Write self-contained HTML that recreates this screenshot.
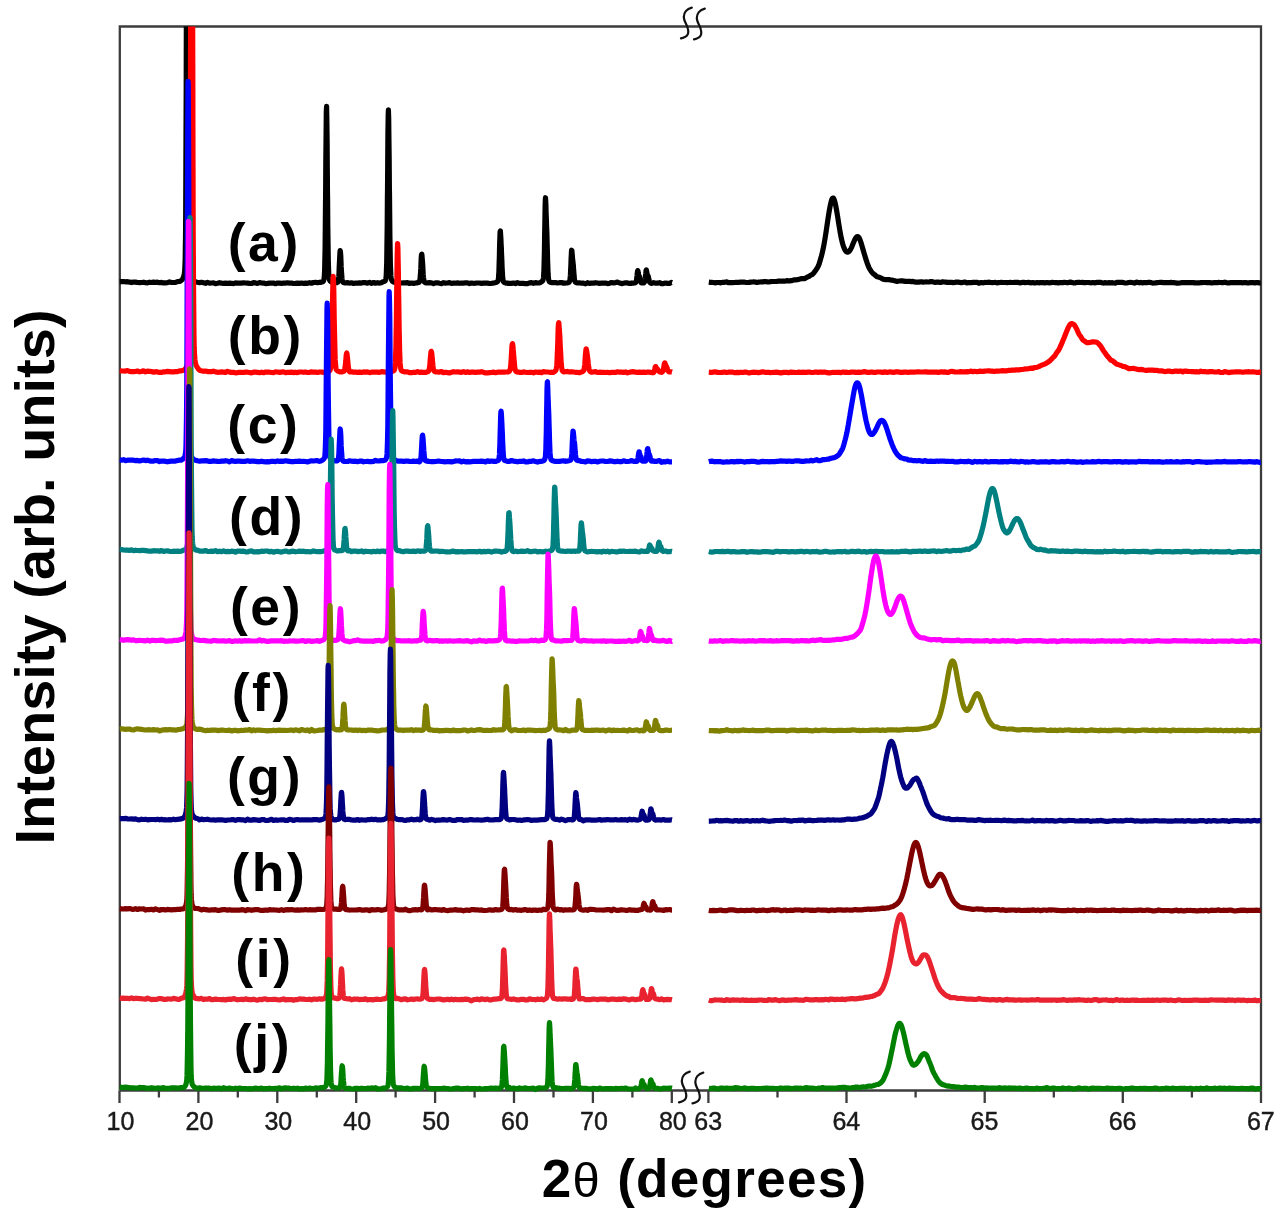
<!DOCTYPE html>
<html><head><meta charset="utf-8"><title>XRD patterns</title>
<style>html,body{margin:0;padding:0;background:#fff;}body{width:1280px;height:1221px;overflow:hidden;}svg{display:block;filter:blur(0.4px);}</style>
</head><body>
<svg width="1280" height="1221" viewBox="0 0 1280 1221"><defs><clipPath id="cl"><rect x="119.5" y="26.5" width="554.5" height="1074.0"/></clipPath>
<clipPath id="cr"><rect x="707.8" y="26.5" width="554.2" height="1074.0"/></clipPath></defs>
<path d="M119.8,1090.5 V26.5 H1261.0 V1090.5" fill="none" stroke="#3c3c3c" stroke-width="2.3"/>
<path d="M119.8,1090.5 H1261.0" fill="none" stroke="#3c3c3c" stroke-width="2.3"/>
<path d="M119.5,1090.5 v12.5 M158.9,1090.5 v7 M198.4,1090.5 v12.5 M237.8,1090.5 v7 M277.3,1090.5 v12.5 M316.8,1090.5 v7 M356.2,1090.5 v12.5 M395.6,1090.5 v7 M435.1,1090.5 v12.5 M474.6,1090.5 v7 M514.0,1090.5 v12.5 M553.5,1090.5 v7 M592.9,1090.5 v12.5 M632.4,1090.5 v7 M671.8,1090.5 v12.5 M708.4,1090.5 v12.5 M777.5,1090.5 v7 M846.5,1090.5 v12.5 M915.6,1090.5 v7 M984.7,1090.5 v12.5 M1053.8,1090.5 v7 M1122.8,1090.5 v12.5 M1191.9,1090.5 v7 M1261.0,1090.5 v12.5" fill="none" stroke="#3c3c3c" stroke-width="2.3"/>
<path clip-path="url(#cl)" d="M119.5,281.7L121.5,281.6 123.5,281.5 125.5,281.8 127.5,281.7 129.5,282.1 131.5,282.6 133.5,282.1 135.5,282.1 137.5,282.5 139.5,282.6 141.5,282.5 143.5,282.2 145.5,282.6 147.5,282.8 149.5,282.2 151.5,282.5 153.5,282.1 155.5,282.3 157.5,282.2 159.5,282.7 161.5,282.4 163.5,282.9 165.5,282.8 167.5,282.7 169.5,281.9 171.5,282.5 173.5,282.5 175.5,282.4 177.5,281.6 179.2,281.5 179.4,281.5 179.5,281.5 179.7,281.4 179.9,281.3 180.2,281.1 180.4,281 180.7,280.8 180.9,280.7 181.2,280.5 181.4,280.3 181.5,280.2 181.7,280 181.9,279.8 182.2,279.5 182.4,279.2 182.7,278.8 182.9,278.4 183.2,277.8 183.4,277.2 183.5,277.1 183.7,276.5 183.9,275.6 184.2,274.5 184.4,273 184.7,270.7 184.9,266.6 185.2,258.6 185.4,243 185.5,238.5 185.7,213.7 185.9,163.6 186.2,87.3 186.4,-14.4 186.7,-129.7 186.9,-234.7 187.2,-297.7 187.4,-295.9 187.5,-287.5 187.7,-230.9 187.9,-126.2 188.2,-12 188.4,88.3 188.7,163.6 188.9,213.1 189.2,242.3 189.4,258.1 189.5,260.2 189.7,266.3 189.9,270.6 190.2,273.1 190.4,274.7 190.7,276 190.9,276.9 191.2,277.7 191.4,278.4 191.5,278.5 191.7,278.9 191.9,279.3 192.2,279.6 192.4,279.9 192.7,280.1 192.9,280.3 193.2,280.5 193.4,280.6 193.5,280.7 193.7,280.8 193.9,281 194.2,281.2 194.4,281.3 194.7,281.4 194.9,281.5 195.2,281.7 195.4,281.8 195.5,281.8 195.7,281.9 195.9,281.9 197.5,282.3 199.5,282.6 201.5,282.3 203.5,282.8 205.5,283.3 207.5,282.4 209.5,283.2 211.5,283 213.5,282.8 215.5,283.7 217.5,283.3 219.5,282.7 221.5,283.1 223.5,283.3 225.5,283.1 227.5,283.3 229.5,283.1 231.5,283.3 233.5,283.6 235.5,282.9 237.5,283.2 239.5,283 241.5,283.2 243.5,282.8 245.5,283 247.5,283.1 249.5,283.4 251.5,283.5 253.5,282.7 255.5,282.9 257.5,283.4 259.5,282.5 261.5,283 263.5,283.1 265.5,283.6 267.5,283.4 269.5,283.1 271.5,283.1 273.5,283.1 275.5,283.7 277.5,283 279.5,283.1 281.5,283.3 283.5,283.1 285.5,283.1 287.5,282.8 289.5,283.2 291.5,283 293.5,283.5 295.5,283.4 297.5,283.1 299.5,283.4 301.5,283 303.5,283.5 305.5,283.1 307.5,283.3 309.5,282.7 311.5,283.2 313.5,282.5 315.5,282.3 317.5,282.7 318.3,282.6 318.6,282.5 318.8,282.5 319.1,282.4 319.3,282.4 319.5,282.3 319.6,282.3 319.8,282.3 320.1,282.3 320.3,282.3 320.6,282.3 320.8,282.2 321.1,282.2 321.3,282.2 321.5,282.1 321.6,282.1 321.8,282.1 322.1,282 322.3,281.9 322.6,281.8 322.8,281.7 323.1,281.5 323.3,281.2 323.5,280.9 323.6,280.7 323.8,279.9 324.1,278.5 324.3,275.9 324.6,271.1 324.8,262.4 325.1,247.8 325.3,225.7 325.5,202.8 325.6,196.5 325.8,163.3 326.1,132.1 326.3,111.3 326.6,106.4 326.8,117.1 327.1,139.7 327.3,169.1 327.5,193.7 327.6,199.6 327.8,226.3 328.1,246.8 328.3,260.9 328.6,269.7 328.8,274.8 329.1,277.6 329.3,279.1 329.5,279.9 329.6,280 329.8,280.5 330.1,280.9 330.3,281.2 330.6,281.5 330.8,281.7 331.1,281.9 331.3,282 331.5,282.1 331.6,282.1 331.8,282.2 332,282.3 332.1,282.3 332.2,282.3 332.3,282.3 332.5,282.3 332.6,282.3 332.8,282.4 332.8,282.4 333,282.4 333.1,282.4 333.2,282.4 333.3,282.4 333.5,282.4 333.6,282.4 333.8,282.5 333.8,282.5 334,282.5 334.1,282.5 334.2,282.5 334.3,282.5 334.5,282.5 334.6,282.5 334.8,282.5 334.8,282.5 335,282.5 335.1,282.5 335.2,282.5 335.5,282.5 335.8,282.6 336,282.6 336.2,282.6 336.5,282.6 336.8,282.6 337,282.6 337.2,282.5 337.5,282.5 337.8,282.2 338,281.8 338.2,280.9 338.5,279.3 338.8,276.7 339,272.6 339.2,267.3 339.5,261.2 339.8,255.4 340,251.6 340.2,250.6 340.5,252.4 340.8,256.3 341,261.5 341.2,266.9 341.5,271.8 341.8,275.7 342,278.5 342.2,280.2 342.5,281.3 342.8,281.9 343,282.2 343.2,282.4 343.5,282.6 343.8,282.6 344,282.7 344.2,282.7 344.5,282.8 344.8,282.8 345,282.9 345.2,282.9 345.5,282.9 345.8,282.9 346,282.9 346.2,282.8 346.5,282.8 346.8,282.8 347,282.7 347.2,282.7 347.5,282.7 347.8,282.7 348,282.8 348.2,282.9 348.5,282.9 348.8,283 349.5,283.1 351.5,282.8 353.5,283.4 355.5,283.2 357.5,283.1 359.5,282.9 361.5,283.1 363.5,282.5 365.5,282.7 367.5,283.2 369.5,282.4 371.5,283.3 373.5,282.5 375.5,283.2 377.5,282.7 379.5,283.1 380.2,282.9 380.4,282.9 380.7,282.8 380.9,282.8 381.2,282.7 381.4,282.6 381.5,282.6 381.7,282.5 381.9,282.4 382.2,282.3 382.4,282.2 382.7,282 382.9,281.9 383.2,281.7 383.4,281.5 383.5,281.5 383.7,281.5 383.9,281.5 384.2,281.4 384.4,281.3 384.7,281.2 384.9,281 385.2,280.8 385.4,280.4 385.5,280.3 385.7,279.7 385.9,278.4 386.2,275.9 386.4,271.2 386.7,262.5 386.9,247.9 387.2,226 387.4,197.2 387.5,190.9 387.7,164.8 387.9,134.7 388.2,114.8 388.4,109.8 388.7,118.5 388.9,136.7 389.2,161 389.4,188.3 389.5,193.8 389.7,214.5 389.9,236.6 390.2,253.4 390.4,264.8 390.7,271.9 390.9,276 391.2,278.2 391.4,279.4 391.5,279.6 391.7,280.1 391.9,280.6 392.2,280.9 392.4,281.2 392.7,281.4 392.9,281.6 393.2,281.8 393.4,281.9 393.5,281.9 393.7,282 393.9,282.1 394.2,282.1 394.4,282.2 394.7,282.2 394.9,282.2 395.2,282.2 395.4,282.3 395.5,282.3 395.7,282.4 395.9,282.5 396.2,282.6 396.4,282.7 396.7,282.8 396.9,282.9 397.5,283.2 399.5,282.8 401.5,283 403.5,282.8 405.5,282.9 407.5,282.7 409.5,283.5 411.5,283 413.5,283.4 413.8,283.3 414,283.3 414.2,283.3 414.5,283.2 414.8,283.2 415,283.1 415.2,283.1 415.5,283 415.8,283 416,282.9 416.2,282.9 416.5,282.9 416.8,282.8 417,282.8 417.2,282.7 417.5,282.7 417.8,282.6 418,282.6 418.2,282.6 418.5,282.5 418.8,282.5 419,282.4 419.2,282.2 419.5,281.7 419.8,280.9 420,279.4 420.2,276.9 420.5,273.2 420.8,268.4 421,263 421.2,258.1 421.5,254.8 421.8,254.1 422,255.6 422.2,258.4 422.5,262 422.8,266.2 423,270.4 423.2,274.2 423.5,277.3 423.8,279.5 424,280.9 424.2,281.7 424.5,282.2 424.8,282.4 425,282.5 425.2,282.6 425.5,282.7 425.8,282.7 426,282.8 426.2,282.8 426.5,282.8 426.8,282.9 427,282.9 427.2,282.9 427.5,282.9 427.8,282.9 428,282.9 428.2,282.8 428.5,282.8 428.8,282.8 429,282.7 429.2,282.7 429.5,282.6 429.8,282.7 430,282.7 430.2,282.7 431.5,282.9 433.5,283.7 435.5,282.9 437.5,282.8 439.5,283.3 441.5,283.6 443.5,282.7 445.5,283.1 447.5,283 449.5,282.6 451.5,283.4 453.5,283.2 455.5,283.2 457.5,282.9 459.5,283.3 461.5,283 463.5,283.1 465.5,282.8 467.5,282.8 469.5,283.6 471.5,283 473.5,283.3 475.5,283.2 477.5,283 479.5,283 481.5,283.4 483.5,283.1 485.5,283.1 487.5,283.1 489.5,283.5 491.5,283.3 492.1,283.2 492.4,283.2 492.6,283.2 492.9,283.2 493.1,283.1 493.4,283.1 493.5,283.1 493.6,283.1 493.9,283 494.1,283 494.4,282.9 494.6,282.9 494.9,282.8 495.1,282.7 495.4,282.6 495.5,282.6 495.6,282.6 495.9,282.5 496.1,282.4 496.4,282.3 496.6,282.2 496.9,282.1 497.1,281.9 497.4,281.7 497.5,281.6 497.6,281.5 497.9,281.2 498.1,280.4 498.4,279 498.6,276.2 498.9,271.5 499.1,264.5 499.4,255.4 499.5,249.5 499.6,245.5 499.9,236.7 500.1,231.5 500.4,231 500.6,234.1 500.9,238.7 501.1,243.7 501.4,249 501.5,252.5 501.6,254.9 501.9,261.3 502.1,267.4 502.4,272.6 502.6,276.4 502.9,279 503.1,280.6 503.4,281.4 503.5,281.7 503.6,281.9 503.9,282.2 504.1,282.4 504.4,282.5 504.6,282.6 504.9,282.7 505.1,282.8 505.4,282.9 505.5,282.9 505.6,283 505.9,283 506.1,283.1 506.4,283.1 506.6,283.1 506.9,283.2 507.1,283.2 507.4,283.2 507.5,283.2 507.6,283.2 507.9,283.2 508.1,283.3 508.4,283.3 508.6,283.3 508.9,283.3 509.5,283.3 511.5,283.4 513.5,283 515.5,283.6 517.5,282.7 519.5,283.4 521.5,283.3 523.5,283.4 525.5,283.7 527.5,283.6 529.5,282.8 531.5,282.6 533.5,283.3 535.5,282.7 537.4,282.9 537.5,282.9 537.6,282.9 537.9,283 538.1,283 538.4,283 538.6,283 538.9,283 539.1,283 539.4,283 539.5,283 539.6,282.9 539.9,282.8 540.1,282.7 540.4,282.5 540.6,282.4 540.9,282.2 541.1,282 541.4,281.8 541.5,281.8 541.6,281.7 541.9,281.5 542.1,281.4 542.4,281.1 542.6,280.9 542.9,280.4 543.1,279.7 543.4,278.3 543.5,277.5 543.6,275.7 543.9,271 544.1,263.1 544.4,251.4 544.6,236.3 544.9,220 545.1,206.1 545.4,198.4 545.5,197.7 545.6,198.8 545.9,204.9 546.1,212.8 546.4,220 546.6,226.3 546.9,233.4 547.1,242 547.4,251.6 547.5,255.3 547.6,260.7 547.9,268.3 548.1,273.8 548.4,277.4 548.6,279.5 548.9,280.7 549.1,281.3 549.4,281.6 549.5,281.7 549.6,281.8 549.9,282 550.1,282.2 550.4,282.3 550.6,282.4 550.9,282.5 551.1,282.5 551.4,282.6 551.5,282.6 551.6,282.6 551.9,282.7 552.1,282.7 552.4,282.7 552.6,282.6 552.9,282.6 553.1,282.6 553.4,282.6 553.5,282.6 553.6,282.6 553.9,282.6 554.1,282.6 555.5,282.5 557.5,283 559.5,282.7 561.5,282.5 563.5,283.2 563.6,283.2 563.9,283.2 564.1,283.1 564.4,283.1 564.6,283.1 564.9,283.1 565.1,283 565.4,283 565.5,283 565.6,283 565.9,283 566.1,283 566.4,283 566.6,283 566.9,283 567.1,283 567.4,283 567.5,283 567.6,282.9 567.9,282.8 568.1,282.7 568.4,282.6 568.6,282.5 568.9,282.3 569.1,282.1 569.4,281.8 569.5,281.5 569.6,281.2 569.9,280.2 570.1,278.3 570.4,275.2 570.6,270.6 570.9,264.7 571.1,258.4 571.4,253 571.5,250.9 571.6,250.2 571.9,250.6 572.1,253.2 572.4,256.4 572.6,259.1 572.9,261.2 573.1,263.2 573.4,265.9 573.5,267.9 573.6,269.3 573.9,272.9 574.1,276.1 574.4,278.5 574.6,280.2 574.9,281.2 575.1,281.8 575.4,282.1 575.5,282.2 575.6,282.3 575.9,282.4 576.1,282.6 576.4,282.7 576.6,282.7 576.9,282.8 577.1,282.9 577.4,283 577.5,283 577.6,283 577.9,283 578.1,283 578.4,282.9 578.6,282.9 578.9,282.9 579.1,282.9 579.4,282.8 579.5,282.8 579.6,282.8 579.9,282.9 580.1,282.9 580.4,283 581.5,283.2 583.5,283.2 585.5,283.8 587.5,282.7 589.5,283.4 591.5,283.1 593.5,283.2 595.5,282.7 597.5,283 599.5,283.4 601.5,283.2 603.5,283.2 605.5,283.1 607.5,283.6 609.5,283.2 611.5,282.5 613.5,283 615.5,282.6 617.5,282.1 619.5,283 621.5,283.6 623.5,283.2 625.5,282.8 627.5,282.9 629.5,283.5 629.7,283.5 630,283.4 630.2,283.4 630.5,283.4 630.7,283.3 631,283.3 631.2,283.2 631.5,283.2 631.5,283.2 631.7,283.2 632,283.2 632.2,283.1 632.5,283.1 632.7,283.1 633,283.1 633.2,283.1 633.5,283.1 633.5,283.1 633.7,283.1 634,283 634.2,283 634.5,283 634.7,283 635,282.9 635.2,282.8 635.5,282.7 635.5,282.7 635.7,282.5 636,282.1 636.2,281.4 636.5,280.2 636.7,278.3 637,276 637.2,273.6 637.5,271.6 637.5,271.3 637.7,270.6 638,271.1 638.2,272.4 638.3,273.1 638.5,274 638.5,274.5 638.7,275.2 638.8,275.5 639,275.8 639,275.9 639.2,276 639.3,276.1 639.5,276.4 639.5,276.5 639.5,276.6 639.7,277.1 639.8,277.5 640,278.2 640,278.8 640.2,279.5 640.3,280 640.5,280.7 640.5,281.1 640.7,281.6 640.8,281.9 641,282.3 641,282.5 641.2,282.7 641.3,282.8 641.5,282.9 641.5,282.9 641.5,282.9 641.7,283 641.8,283 642,283 642,283 642.2,283 642.3,283 642.5,283 642.5,283 642.7,283 642.8,283 643,283 643,283 643.2,282.9 643.3,282.9 643.5,282.9 643.5,282.9 643.5,282.9 643.7,282.8 643.8,282.8 644,282.7 644,282.6 644.2,282.5 644.3,282.4 644.5,282.1 644.5,281.9 644.7,281.5 644.8,281.1 645,280.3 645,279.7 645.2,278.6 645.3,277.8 645.5,276.3 645.5,275.8 645.5,275.3 645.7,273.8 645.8,272.8 646,271.5 646,270.8 646.2,270.1 646.3,269.9 646.5,270 646.5,270.4 646.8,271.9 647,273.6 647.3,274.9 647.5,275.5 647.5,275.5 647.8,275.7 648,275.9 648.3,276.5 648.5,277.6 648.8,278.9 649,280.1 649.3,281.1 649.5,281.7 649.5,281.8 649.8,282.3 650,282.7 650.3,282.9 650.5,283 650.8,283.1 651,283.2 651.3,283.3 651.5,283.4 651.5,283.4 651.8,283.3 652,283.2 652.3,283.1 652.5,283 652.8,283 653,282.9 653.3,282.8 653.5,282.7 653.5,282.7 653.8,282.8 654,282.8 654.3,282.9 654.5,282.9 654.8,283 655,283 655.5,283.1 657.5,283.2 659.5,282.7 661.5,283.7 663.5,283.6 665.5,283 667.5,283.4 669.5,283.3 671.5,282.4 672,282.6" fill="none" stroke="#000000" stroke-width="5.2" stroke-linejoin="round"/>
<path clip-path="url(#cr)" d="M708.8,282.2L710.3,282.4 711.8,282.4 713.3,282.5 714.8,282.8 716.3,282.6 717.8,282.5 719.3,282.5 720.8,282.9 722.3,282.4 723.8,282.3 725.3,282.2 726.8,281.9 728.3,282.6 729.8,282.7 731.3,282.6 732.8,282.6 734.3,282.5 735.8,282.4 737.3,282.3 738.8,282.3 740.3,282.2 741.8,282.2 743.3,282.2 744.8,282.2 746.3,282.5 747.8,282.5 749.3,282.3 750.8,282.1 752.3,282 753.8,281.9 755.3,282 756.8,282.5 758.3,282.2 759.8,282 761.3,281.9 762.8,281.8 764.3,281.6 765.8,281.7 767.3,281.8 768.8,282 770.3,281.7 771.8,281.5 773.3,281.5 774.8,281.5 776.3,281.5 777.8,281.2 779.3,281 780.8,281.2 782.3,281 783.8,281.1 785.3,281.1 786.8,280.6 788.3,280.8 789.8,280.9 791.3,280.7 792.8,280.2 794.3,279.9 795.8,279.8 797.3,279.7 798.8,279.4 800.3,278.9 801.8,278.7 803.3,278.7 804.8,278.6 806.3,277.6 807.8,276.9 808.3,276.7 808.8,276.5 809.3,276.2 809.8,275.8 810.3,275.5 810.8,275.1 811.3,274.9 811.8,274.7 812.3,274.4 812.8,274 813.3,273.5 813.8,272.9 814.3,272.2 814.8,271.5 815.3,270.9 815.8,270.2 816.3,269.4 816.8,268.6 817.3,267.8 817.8,266.9 818.3,266 818.8,264.9 819.3,263.4 819.8,261.8 820.3,260.1 820.8,258.2 821.3,256.5 821.8,254.6 822.3,252.6 822.8,250.4 823.3,248 823.8,245.4 824.3,242.7 824.8,239.9 825.3,236.8 825.8,233.6 826.3,230.3 826.8,226.9 827.3,223.5 827.8,220.2 828.3,216.9 828.8,213.7 829.3,210.7 829.8,207.9 830.3,205.3 830.8,203.2 831.3,201.1 831.8,199.6 832.3,198.5 832.8,198 833.3,198.1 833.8,198.8 834.3,200 834.8,201.7 835.3,203.7 835.8,206 836.3,208.7 836.8,211.5 837.3,214.6 837.8,217.7 838.3,220.9 838.8,224.1 839.3,227.2 839.8,230.1 840.3,233 840.8,235.7 841.3,238.2 841.8,240.4 842.3,242.5 842.8,244.3 843.3,245.9 843.8,247.3 844.3,248.5 844.8,249.5 845.3,250.4 845.8,251.1 846.3,251.6 846.8,252 847.3,252.1 847.8,252.1 848.3,251.9 848.8,251.6 849.3,251.1 849.8,250.5 850.3,249.8 850.8,248.9 851.3,247.9 851.8,246.8 852.3,245.6 852.8,244.3 853.3,243.1 853.8,241.9 854.3,240.7 854.8,239.7 855.3,238.7 855.8,237.9 856.3,237.2 856.8,236.8 857.3,236.5 857.8,236.6 858.3,236.8 858.8,237.4 859.3,238.2 859.8,239.3 860.3,240.6 860.8,242 861.3,243.6 861.8,245.3 862.3,247 862.8,248.8 863.3,250.5 863.8,252.2 864.3,253.9 864.8,255.6 865.3,257.3 865.8,258.9 866.3,260.4 866.8,261.9 867.3,263.4 867.8,264.7 868.3,266 868.8,267.3 869.3,268.2 869.8,269.1 870.3,269.9 870.8,270.7 871.3,271.4 871.8,272.1 872.3,272.7 872.8,273.3 873.3,273.7 873.8,274.1 874.3,274.4 874.8,274.7 875.3,275.3 875.8,275.8 876.3,276.2 876.8,276.7 877.3,276.8 878.3,277 879.8,277.5 881.3,278.2 882.8,279.1 884.3,279.4 885.8,279.6 887.3,279.6 888.8,279.5 890.3,280 891.8,280.2 893.3,280.4 894.8,280.8 896.3,281.3 897.8,281.3 899.3,281 900.8,280.9 902.3,280.9 903.8,281.1 905.3,281.4 906.8,281.4 908.3,281.3 909.8,281.4 911.3,281.6 912.8,281.4 914.3,281.9 915.8,282.1 917.3,282.1 918.8,282.2 920.3,281.9 921.8,281.9 923.3,282.1 924.8,282 926.3,281.9 927.8,282 929.3,281.9 930.8,281.7 932.3,281.7 933.8,282.1 935.3,282.3 936.8,282.1 938.3,282.2 939.8,282.4 941.3,282.3 942.8,281.8 944.3,282 945.8,282.2 947.3,282.4 948.8,282.4 950.3,282.3 951.8,282.4 953.3,282.6 954.8,282.4 956.3,282.1 957.8,282.1 959.3,282.3 960.8,282.6 962.3,282.6 963.8,282.2 965.3,282.1 966.8,282.8 968.3,282.7 969.8,282.7 971.3,282.7 972.8,282.4 974.3,282.4 975.8,282.3 977.3,282.4 978.8,283.2 980.3,282.7 981.8,282.7 983.3,282.8 984.8,282.4 986.3,282.5 987.8,282.3 989.3,282.2 990.8,282.5 992.3,282.7 993.8,282.5 995.3,282.4 996.8,282.9 998.3,282.7 999.8,282.5 1001.3,282.3 1002.8,282.5 1004.3,282.5 1005.8,282.5 1007.3,282.6 1008.8,282.5 1010.3,282.4 1011.8,282.5 1013.3,282.5 1014.8,282.3 1016.3,282.3 1017.8,282.4 1019.3,282.7 1020.8,282.9 1022.3,282.4 1023.8,282.4 1025.3,282.6 1026.8,282.5 1028.3,282.4 1029.8,282.6 1031.3,282.8 1032.8,282.5 1034.3,282.9 1035.8,282.8 1037.3,282.5 1038.8,282.8 1040.3,282.6 1041.8,282.5 1043.3,282.6 1044.8,282.8 1046.3,282.7 1047.8,282.7 1049.3,282.8 1050.8,282.7 1052.3,282.4 1053.8,282.5 1055.3,282.7 1056.8,282.7 1058.3,282.9 1059.8,282.7 1061.3,282.5 1062.8,282.7 1064.3,282.3 1065.8,282.5 1067.3,282.8 1068.8,282.4 1070.3,282.2 1071.8,282.4 1073.3,282.8 1074.8,283 1076.3,282.5 1077.8,282.3 1079.3,282.4 1080.8,282.5 1082.3,282.4 1083.8,282.6 1085.3,282.7 1086.8,282.5 1088.3,282.5 1089.8,282.7 1091.3,282.8 1092.8,282.5 1094.3,282.8 1095.8,282.6 1097.3,282.4 1098.8,282.4 1100.3,282.3 1101.8,282.7 1103.3,283.1 1104.8,282.6 1106.3,282.8 1107.8,282.8 1109.3,282.7 1110.8,282.8 1112.3,282.7 1113.8,283 1115.3,283.1 1116.8,282.4 1118.3,282.3 1119.8,282.4 1121.3,282.4 1122.8,282.4 1124.3,282.8 1125.8,283 1127.3,282.8 1128.8,282.5 1130.3,282.4 1131.8,282.5 1133.3,282.8 1134.8,283.1 1136.3,282.2 1137.8,282.4 1139.3,282.8 1140.8,282.4 1142.3,282.9 1143.8,282.7 1145.3,282.5 1146.8,282.7 1148.3,282.4 1149.8,282.4 1151.3,282.6 1152.8,283.1 1154.3,283 1155.8,282.8 1157.3,282.6 1158.8,282.5 1160.3,282.3 1161.8,282.4 1163.3,282.7 1164.8,282.7 1166.3,282.7 1167.8,282.7 1169.3,282.7 1170.8,282.4 1172.3,282.7 1173.8,282.7 1175.3,282.8 1176.8,283.1 1178.3,283.2 1179.8,283 1181.3,282.7 1182.8,282.5 1184.3,282.7 1185.8,282.7 1187.3,282.6 1188.8,282.5 1190.3,282.7 1191.8,282.6 1193.3,282.6 1194.8,282.9 1196.3,282.8 1197.8,282.8 1199.3,282.8 1200.8,282.7 1202.3,282.6 1203.8,282.5 1205.3,282.5 1206.8,282.7 1208.3,282.6 1209.8,282.7 1211.3,282.8 1212.8,282.8 1214.3,282.5 1215.8,282.6 1217.3,282.7 1218.8,282.4 1220.3,282.5 1221.8,282.6 1223.3,282.6 1224.8,282.2 1226.3,282.6 1227.8,282.8 1229.3,282.8 1230.8,282.7 1232.3,282.7 1233.8,282.7 1235.3,282.6 1236.8,282.5 1238.3,282.6 1239.8,282.7 1241.3,282.7 1242.8,282.8 1244.3,282.5 1245.8,282.6 1247.3,282.8 1248.8,282.8 1250.3,282.7 1251.8,282.7 1253.3,282.7 1254.8,282.9 1256.3,282.5 1257.8,282.6 1259.3,282.9 1260.8,282.8" fill="none" stroke="#000000" stroke-width="5.2" stroke-linejoin="round"/>
<path clip-path="url(#cl)" d="M119.5,370.6L121.5,371 123.5,371 125.5,371.1 127.5,370.6 129.5,371.4 131.5,371.6 133.5,371.7 135.5,371.5 137.5,371 139.5,371.8 141.5,371.5 143.5,370.8 145.5,371.8 147.5,371.2 149.5,371.3 151.5,371.6 153.5,372.2 155.5,371.7 157.5,371.9 159.5,372.4 161.5,372.4 163.5,371.8 165.5,371.8 167.5,371.4 169.5,371.6 171.5,371.9 173.5,371.8 175.5,371.6 177.5,371.7 179.5,370.9 181.5,370.8 183.5,370.3 183.8,370.1 184,370 184.2,369.8 184.5,369.6 184.8,369.4 185,369.2 185.2,368.9 185.5,368.6 185.8,368.4 186,368 186.2,367.6 186.5,367.2 186.8,366.7 187,366.1 187.2,365.4 187.5,364.6 187.8,363.5 188,362.2 188.2,360.5 188.5,358.1 188.8,354.3 189,347.8 189.2,336.5 189.5,316.7 189.8,284.1 190,233.7 190.2,161.8 190.5,68.6 190.8,-40 191,-150.7 191.2,-243.8 191.5,-297.6 191.8,-297.2 192,-243.2 192.2,-150.6 192.5,-40.6 192.8,67.4 193,160.4 193.2,232.3 193.5,282.9 193.8,315.7 194,335.7 194.2,347.2 194.5,353.8 194.8,357.6 195,360 195.2,361.6 195.5,362.9 195.8,363.9 196,364.7 196.2,365.4 196.5,366 196.8,366.5 197,366.9 197.2,367.3 197.5,367.7 197.8,368.1 198,368.4 198.2,368.8 198.5,369.1 198.8,369.4 199,369.6 199.2,369.9 199.5,370.1 199.8,370.3 200,370.4 200.2,370.4 201.5,370.8 203.5,371.3 205.5,371 207.5,371.6 209.5,371.6 211.5,371.6 213.5,371.2 215.5,371.9 217.5,372.3 219.5,372.2 221.5,371.9 223.5,372.1 225.5,372.4 227.5,371.3 229.5,372.1 231.5,372.4 233.5,372.4 235.5,372.8 237.5,372.6 239.5,372.3 241.5,372.3 243.5,372.5 245.5,372.1 247.5,372.2 249.5,372.5 251.5,372.9 253.5,372.2 255.5,372.2 257.5,372.3 259.5,372.7 261.5,372.2 263.5,372.7 265.5,372 267.5,372.2 269.5,372.2 271.5,372.5 273.5,372.6 275.5,371.8 277.5,372 279.5,372.4 281.5,372.1 283.5,371.8 285.5,372.6 287.5,372.4 289.5,372.4 291.5,372.1 293.5,372.6 295.5,372.2 297.5,372.6 299.5,372 301.5,372 303.5,372.3 305.5,372 307.5,372.5 309.5,372.3 311.5,371.9 313.5,372.2 315.5,372.1 317.5,372.5 319.5,372 321.5,372 323.5,372.4 325,372.6 325.2,372.6 325.5,372.6 325.8,372.6 326,372.6 326.2,372.5 326.5,372.5 326.8,372.4 327,372.4 327.2,372.3 327.5,372.3 327.8,372.1 328,372 328.2,371.8 328.5,371.7 328.8,371.5 329,371.3 329.2,371.1 329.5,370.8 329.8,370.6 330,370.2 330.2,369.7 330.5,368.8 330.8,367.3 331,364.6 331.2,360.2 331.5,353.4 331.8,343.8 332,331.3 332.2,316.6 332.5,301.3 332.8,287.8 333,278.9 333.2,276.4 333.5,280.5 333.8,290 334,303.1 334.2,317.6 334.5,331.6 334.8,343.5 335,352.7 335.2,359.4 335.5,363.9 335.8,366.7 336,368.4 336.2,369.4 336.5,369.9 336.8,370.3 337,370.5 337.2,370.6 337.5,370.8 337.8,370.9 338,371.1 338.2,371.2 338.5,371.3 338.8,371.4 339,371.5 339.2,371.6 339.5,371.7 339.8,371.7 340,371.8 340.2,371.8 340.5,371.9 340.8,371.9 341,371.9 341.2,371.9 341.5,372 341.8,371.9 342,371.9 342.2,371.8 342.5,371.7 342.8,371.7 343,371.6 343.2,371.5 343.5,371.4 343.8,371.3 344,371.1 344.2,370.8 344.5,370.2 344.8,369.3 345,368 345.2,366.1 345.5,363.7 345.8,360.9 346,357.9 346.2,355.3 346.5,353.6 346.8,353.1 347,353.9 347.2,355.6 347.5,358.1 347.8,361 348,363.8 348.2,366.2 348.5,368.1 348.8,369.5 349,370.5 349.2,371.2 349.5,371.6 349.8,371.8 350,371.9 350.2,371.9 350.5,371.9 350.8,371.9 351,371.9 351.2,371.8 351.5,371.8 351.8,371.8 352,371.9 352.2,371.9 352.5,371.9 352.8,372 353,372 353.2,372.1 353.5,372.1 353.8,372.1 354,372.1 354.2,372.1 354.5,372.2 354.8,372.2 355,372.2 355.2,372.2 355.5,372.2 357.5,372.4 359.5,372.1 361.5,372.4 363.5,371.9 365.5,372.1 367.5,371.9 369.5,372.6 371.5,372.2 373.5,372 375.5,372.1 377.5,372.1 379.5,372.4 381.5,371.7 383.5,371.8 385.5,372 387.5,372.8 389.4,372.2 389.5,372.1 389.6,372.1 389.9,372 390.1,372 390.4,371.9 390.6,371.8 390.9,371.7 391.1,371.6 391.4,371.5 391.5,371.5 391.6,371.5 391.9,371.4 392.1,371.4 392.4,371.3 392.6,371.2 392.9,371.1 393.1,371 393.4,370.9 393.5,370.8 393.6,370.8 393.9,370.6 394.1,370.3 394.4,369.9 394.6,369.2 394.9,368 395.1,366 395.4,362.4 395.5,360.3 395.6,356.3 395.9,347.1 396.1,334.1 396.4,317.3 396.6,297.7 396.9,277.4 397.1,259.5 397.4,247.5 397.5,244.9 397.6,243.5 397.9,247.6 398.1,258.1 398.4,273.2 398.6,291 398.9,309.2 399.1,325.7 399.4,339.4 399.5,344 399.6,350 399.9,357.6 400.1,362.7 400.4,365.9 400.6,367.9 400.9,369.1 401.1,369.9 401.4,370.4 401.5,370.6 401.6,370.7 401.9,370.9 402.1,371.1 402.4,371.2 402.6,371.3 402.9,371.4 403.1,371.5 403.4,371.5 403.5,371.5 403.6,371.6 403.9,371.7 404.1,371.7 404.4,371.8 404.6,371.8 404.9,371.9 405.1,371.9 405.4,372 405.5,372 405.6,372 405.9,372 406.1,371.9 407.5,371.8 409.5,372.7 411.5,372.7 413.5,372.3 415.5,372.4 417.5,371.5 419.5,372.4 421.5,372.1 423,372.3 423.2,372.3 423.5,372.3 423.8,372.3 424,372.3 424.2,372.3 424.5,372.3 424.8,372.3 425,372.3 425.2,372.3 425.5,372.3 425.8,372.3 426,372.2 426.2,372.2 426.5,372.1 426.8,372 427,372 427.2,371.9 427.5,371.8 427.8,371.7 428,371.6 428.2,371.4 428.5,371.1 428.8,370.7 429,370.1 429.2,369 429.5,367.5 429.8,365.4 430,362.8 430.2,359.7 430.5,356.5 430.8,353.7 431,351.9 431.2,351.3 431.5,352 431.8,353.5 432,355.7 432.2,358.4 432.5,361.2 432.8,363.8 433,366.1 433.2,367.9 433.5,369.2 433.8,370.2 434,370.8 434.2,371.2 434.5,371.5 434.8,371.6 435,371.7 435.2,371.8 435.5,371.9 435.8,371.9 436,371.9 436.2,371.9 436.5,371.9 436.8,371.9 437,371.9 437.2,371.9 437.5,371.9 437.8,372 438,372 438.2,372 438.5,372 438.8,372 439,372.1 439.2,372.1 439.5,372.1 439.8,372 441.5,371.5 443.5,372.6 445.5,372.3 447.5,372.6 449.5,372.9 451.5,372.3 453.5,371.7 455.5,372 457.5,371.9 459.5,372.1 461.5,372.3 463.5,371.6 465.5,372.4 467.5,371.8 469.5,372.4 471.5,372.2 473.5,372.2 475.5,372.3 477.5,372.1 479.5,372.1 481.5,371.7 483.5,372.3 485.5,372.9 487.5,372.9 489.5,372.7 491.5,372.5 493.5,372.1 495.5,372.7 497.5,372.2 499.5,372.2 501.5,372.1 503.5,372.2 504.2,372.2 504.4,372.1 504.7,372.1 504.9,372.1 505.2,372 505.4,372 505.5,372 505.7,372 505.9,372 506.2,372 506.4,372 506.7,372 506.9,372 507.2,372 507.4,372 507.5,372 507.7,371.9 507.9,371.8 508.2,371.8 508.4,371.7 508.7,371.6 508.9,371.5 509.2,371.3 509.4,371.1 509.5,371 509.7,370.8 509.9,370.3 510.2,369.5 510.4,368.1 510.7,365.9 510.9,362.9 511.2,359.1 511.4,354.7 511.5,353.8 511.7,350.3 511.9,346.6 512.2,344.3 512.5,343.7 512.7,344.6 513,346.6 513.2,349.2 513.5,352.2 513.5,352.8 513.7,355.4 514,358.6 514.2,361.8 514.5,364.6 514.7,366.9 515,368.6 515.2,369.8 515.5,370.5 515.5,370.7 515.7,371.1 516,371.4 516.2,371.6 516.5,371.7 516.7,371.8 517,371.8 517.2,371.9 517.5,371.9 517.5,371.9 517.7,371.9 518,372 518.2,372.1 518.5,372.1 518.7,372.2 519,372.2 519.2,372.2 519.5,372.3 519.5,372.3 519.7,372.3 520,372.3 520.2,372.3 520.5,372.4 520.7,372.4 521,372.4 521.5,372.4 523.5,371.9 525.5,372.2 527.5,372.5 529.5,372.3 531.5,372.3 533.5,372.8 535.5,372 537.5,372.3 539.5,372.1 541.5,372.7 543.5,371.6 545.5,372 547.5,372 549.5,372.3 550.5,372.3 550.8,372.3 551,372.3 551.2,372.3 551.5,372.2 551.8,372.3 552,372.3 552.2,372.3 552.5,372.3 552.8,372.3 553,372.3 553.2,372.3 553.5,372.3 553.8,372.1 554,372 554.2,371.8 554.5,371.6 554.8,371.4 555,371.2 555.2,370.9 555.5,370.6 555.8,370.4 556,369.9 556.2,369.1 556.5,367.6 556.8,365.2 557,361.4 557.2,356.1 557.5,349.4 557.8,341.7 558,333.9 558.2,327.4 558.5,323.5 558.8,322.6 559,324.4 559.2,327.6 559.5,331.4 559.8,335.6 560,340.1 560.2,345.1 560.5,350.3 560.8,355.3 561,359.8 561.2,363.4 561.5,366.2 561.8,368.2 562,369.5 562.2,370.4 562.5,370.9 562.8,371.2 563,371.5 563.2,371.6 563.5,371.8 563.8,371.8 564,371.8 564.2,371.8 564.5,371.8 564.8,371.7 565,371.7 565.2,371.7 565.5,371.7 565.8,371.6 566,371.6 566.2,371.6 566.5,371.6 566.8,371.5 567,371.5 567.2,371.5 567.5,371.4 569.5,372 571.5,371.7 573.5,372 575.5,372.3 577.5,372.3 578,372.4 578.2,372.4 578.5,372.5 578.8,372.5 579,372.6 579.2,372.6 579.5,372.6 579.8,372.6 580,372.5 580.2,372.4 580.5,372.3 580.8,372.2 581,372.1 581.2,372 581.5,371.9 581.8,371.9 582,371.8 582.2,371.7 582.5,371.6 582.8,371.5 583,371.3 583.2,371.1 583.5,370.8 583.8,370.4 584,369.7 584.2,368.5 584.5,366.7 584.8,364.2 585,361.1 585.2,357.5 585.5,353.9 585.8,350.9 586,349.2 586.2,348.9 586.5,349.9 586.8,351.5 587,353.2 587.2,355 587.5,356.8 587.8,358.8 588,361 588.2,363.3 588.5,365.4 588.8,367.2 589,368.7 589.2,369.7 589.5,370.5 589.8,371 590,371.3 590.2,371.5 590.5,371.7 590.8,371.8 591,372 591.2,372.1 591.5,372.2 591.8,372.1 592,372.1 592.2,372.1 592.5,372.1 592.8,372 593,372 593.2,372 593.5,371.9 593.8,371.9 594,371.9 594.2,371.8 594.5,371.8 594.8,371.7 595.5,371.6 597.5,372.5 599.5,372.2 601.5,372.4 603.5,372.3 605.5,372.5 607.5,372.3 609.5,372.7 611.5,372.4 613.5,372.4 615.5,372.4 617.5,371.8 619.5,372.2 621.5,372.2 623.5,372.4 625.5,371.9 627.5,372.8 629.5,372.3 631.5,371.9 633.5,371.7 635.5,372.2 637.5,372.3 639.5,372.1 641.5,372.3 643.5,372.1 645.5,372.5 647.5,372 647.8,372.1 648,372.1 648.2,372.1 648.5,372.1 648.8,372.2 649,372.2 649.2,372.2 649.5,372.2 649.8,372.3 650,372.3 650.2,372.3 650.5,372.4 650.8,372.4 651,372.5 651.2,372.5 651.5,372.5 651.8,372.6 652,372.6 652.2,372.7 652.5,372.7 652.8,372.7 653,372.7 653.2,372.7 653.5,372.6 653.8,372.2 654,371.6 654.2,370.8 654.5,369.9 654.8,368.9 655,368 655.2,367.2 655.5,366.7 655.8,366.7 656,367.1 656.2,367.5 656.5,368 656.7,368.3 656.8,368.3 657,368.5 657,368.6 657.2,368.8 657.2,368.9 657.5,369.1 657.5,369.2 657.7,369.5 657.8,369.6 658,370 658,370 658.2,370.4 658.2,370.5 658.5,370.8 658.5,370.9 658.7,371.2 658.8,371.2 659,371.4 659,371.5 659.2,371.6 659.2,371.6 659.5,371.7 659.5,371.7 659.7,371.8 659.8,371.8 660,371.9 660,371.9 660.2,372 660.2,372 660.5,372.1 660.5,372.1 660.7,372.1 660.8,372.1 661,372.2 661,372.2 661.2,372.2 661.2,372.2 661.5,372.3 661.5,372.3 661.7,372.2 661.8,372.2 662,372.1 662,372 662.2,371.9 662.2,371.8 662.5,371.6 662.5,371.6 662.7,371.3 662.8,371.2 663,370.7 663,370.5 663.2,369.8 663.2,369.6 663.5,368.7 663.5,368.4 663.7,367.4 663.8,367.1 664,365.9 664,365.6 664.2,364.5 664.2,364.3 664.5,363.4 664.7,362.9 665,363 665.2,363.6 665.5,364.4 665.5,364.5 665.7,365.1 666,365.7 666.2,366.2 666.5,366.6 666.7,367.1 667,367.8 667.2,368.6 667.5,369.5 667.5,369.6 667.7,370.2 668,370.8 668.2,371.2 668.5,371.5 668.7,371.7 669,371.8 669.2,371.8 669.5,371.8 669.5,371.8 669.7,371.8 670,371.8 670.2,371.9 670.5,371.9 670.7,371.9 671,371.9 671.2,371.9 671.5,371.9 671.5,371.9 671.7,371.9 672,372 672,372" fill="none" stroke="#ff0000" stroke-width="5.2" stroke-linejoin="round"/>
<path clip-path="url(#cr)" d="M708.8,372.2L710.3,372.3 711.8,372.3 713.3,372.2 714.8,371.8 716.3,372.1 717.8,372.4 719.3,372.5 720.8,372.5 722.3,372.3 723.8,372.2 725.3,372.2 726.8,372.5 728.3,372.2 729.8,372.1 731.3,372 732.8,372.1 734.3,372.6 735.8,372.6 737.3,372.4 738.8,372.6 740.3,372.3 741.8,372.4 743.3,372.5 744.8,372.1 746.3,372.2 747.8,372.6 749.3,372.9 750.8,372.5 752.3,372.3 753.8,372.2 755.3,372.3 756.8,372.4 758.3,372.6 759.8,372.4 761.3,372.1 762.8,371.8 764.3,372.1 765.8,372.3 767.3,372.3 768.8,372.3 770.3,372.6 771.8,372.5 773.3,372.4 774.8,372.5 776.3,372.1 777.8,372.3 779.3,372.6 780.8,372.9 782.3,372.6 783.8,372.4 785.3,372.4 786.8,372.3 788.3,372.7 789.8,372.4 791.3,372.1 792.8,372.3 794.3,372.4 795.8,372.5 797.3,372.4 798.8,372.2 800.3,372.3 801.8,372.3 803.3,372.2 804.8,372.3 806.3,372.3 807.8,372.1 809.3,372 810.8,372.3 812.3,372.5 813.8,372.3 815.3,372 816.8,372.2 818.3,372.4 819.8,372.2 821.3,372 822.8,372.3 824.3,372 825.8,372.3 827.3,372.7 828.8,372.9 830.3,372.8 831.8,372.5 833.3,372.3 834.8,372.5 836.3,372.3 837.8,372.3 839.3,372.4 840.8,372.7 842.3,372.1 843.8,372.2 845.3,372.4 846.8,372.2 848.3,372.5 849.8,372.4 851.3,372.2 852.8,372 854.3,372.2 855.8,372.4 857.3,372.4 858.8,372.2 860.3,372.3 861.8,372.2 863.3,371.9 864.8,371.6 866.3,372.2 867.8,372.4 869.3,372.3 870.8,372.2 872.3,372.2 873.8,372.3 875.3,372.4 876.8,372 878.3,372 879.8,372 881.3,372.2 882.8,372.5 884.3,371.9 885.8,372.1 887.3,372.4 888.8,372 890.3,371.9 891.8,372.2 893.3,372.4 894.8,372.1 896.3,371.8 897.8,371.9 899.3,372.1 900.8,372.4 902.3,372.4 903.8,372.2 905.3,372 906.8,372.2 908.3,372.3 909.8,372.1 911.3,372 912.8,372.2 914.3,372.1 915.8,372 917.3,371.9 918.8,371.9 920.3,372 921.8,372 923.3,372 924.8,371.8 926.3,371.9 927.8,372.1 929.3,372.2 930.8,372 932.3,372.2 933.8,372.2 935.3,372.2 936.8,372.1 938.3,372.4 939.8,372.1 941.3,371.8 942.8,372.1 944.3,371.9 945.8,372.1 947.3,372.4 948.8,372.3 950.3,371.5 951.8,371.4 953.3,371.6 954.8,372 956.3,372 957.8,372 959.3,371.9 960.8,371.7 962.3,371.8 963.8,371.8 965.3,371.8 966.8,371.6 968.3,371.8 969.8,371.4 971.3,371.2 972.8,371.7 974.3,371.4 975.8,371.5 977.3,371.7 978.8,371.4 980.3,371.2 981.8,371.3 983.3,371.4 984.8,371.1 986.3,371 987.8,370.9 989.3,370.9 990.8,371.2 992.3,371.2 993.8,371.3 995.3,371.3 996.8,371 998.3,371.2 999.8,371 1001.3,370.8 1002.8,370.7 1004.3,370.8 1005.8,370.9 1007.3,370.7 1008.8,370.4 1010.3,370.3 1011.8,370.2 1013.3,370.2 1014.8,370.1 1016.3,369.8 1017.8,369.9 1019.3,369.9 1020.8,369.5 1022.3,369.5 1023.8,369.2 1025.3,368.9 1026.8,369 1028.3,368.7 1029.8,368.4 1031.3,368.2 1032.8,368.4 1034.3,367.7 1035.8,367.5 1037.3,367.2 1038.8,366.6 1040.3,365.8 1041.8,365.2 1043.3,364.6 1044.8,364.1 1046.3,363.2 1046.5,363.1 1047,362.8 1047.5,362.5 1047.8,362.3 1048,362.2 1048.5,361.8 1049,361.5 1049.3,361.2 1049.5,361.1 1050,360.6 1050.5,360.2 1050.8,359.9 1051,359.7 1051.5,359.2 1052,358.6 1052.3,358.3 1052.5,358 1053,357.5 1053.5,357 1053.8,356.8 1054,356.6 1054.5,356.1 1055,355.5 1055.3,355 1055.5,354.7 1056,353.9 1056.5,353 1056.8,352.5 1057,352.2 1057.5,351.6 1058,351 1058.3,350.6 1058.5,350.3 1059,349.4 1059.5,348.4 1059.8,347.8 1060,347.3 1060.5,346.2 1061,345.1 1061.3,344.4 1061.5,344 1062,342.8 1062.5,341.7 1062.8,340.9 1063,340.4 1063.5,339.2 1064,338 1064.3,337.3 1064.5,336.8 1065,335.5 1065.5,334.3 1065.8,333.5 1066,333 1066.5,331.8 1067,330.6 1067.3,329.8 1067.5,329.3 1068,328.2 1068.5,327.1 1068.8,326.4 1069,326.1 1069.5,325.3 1070,324.6 1070.3,324.3 1070.5,324.1 1071,323.8 1071.5,323.6 1071.8,323.6 1072,323.6 1072.5,323.7 1073,324 1073.3,324.1 1073.5,324.3 1074,324.7 1074.5,325.2 1074.8,325.6 1075,325.9 1075.5,326.8 1076,327.7 1076.3,328.3 1076.5,328.7 1077,329.7 1077.5,330.9 1077.8,331.6 1078,332 1078.5,333.1 1079,334.1 1079.3,334.6 1079.5,334.9 1080,335.6 1080.5,336.2 1080.8,336.6 1081,336.9 1081.5,337.8 1082,338.6 1082.3,339.1 1082.5,339.4 1083,340 1083.5,340.4 1083.8,340.6 1084,340.7 1084.5,341 1085,341.3 1085.3,341.6 1085.5,341.7 1086,342.1 1086.5,342.4 1086.8,342.5 1087,342.6 1087.5,342.6 1088,342.6 1088.3,342.6 1088.5,342.6 1089,342.5 1089.5,342.5 1089.8,342.4 1090,342.4 1090.5,342.3 1091,342.2 1091.3,342.1 1091.5,342.1 1092,342 1092.5,341.9 1092.8,341.9 1093,341.9 1093.5,341.9 1094,341.9 1094.3,341.9 1094.5,342 1095,342 1095.5,342 1095.8,342.1 1096,342.1 1096.5,342.2 1097,342.4 1097.3,342.7 1097.5,342.8 1098,343.2 1098.5,343.7 1098.8,344 1099,344.2 1099.5,344.8 1100,345.3 1100.3,345.7 1100.5,345.9 1101,346.6 1101.5,347.5 1101.8,348 1102,348.3 1102.5,349.2 1103,350 1103.3,350.4 1103.5,350.7 1104,351.4 1104.5,352.1 1104.8,352.5 1105,352.8 1105.5,353.6 1106,354.3 1106.3,354.8 1106.5,355.1 1107,355.7 1107.5,356.3 1107.8,356.6 1108,356.8 1108.5,357.3 1109,357.9 1109.3,358.3 1109.5,358.5 1110,359.2 1110.5,359.8 1110.8,360.1 1111,360.2 1111.5,360.4 1112,360.6 1112.3,360.7 1112.5,360.7 1113,361 1113.5,361.5 1113.8,361.8 1114,361.9 1114.5,362.4 1115,362.8 1115.3,363 1115.5,363.2 1116,363.6 1116.8,364.2 1118.3,364.6 1119.8,365.1 1121.3,365.7 1122.8,366.3 1124.3,366.5 1125.8,367.1 1127.3,367.8 1128.8,368.6 1130.3,368.6 1131.8,368.5 1133.3,368.4 1134.8,368.7 1136.3,369 1137.8,369.4 1139.3,369.7 1140.8,369.4 1142.3,369.6 1143.8,370 1145.3,370.3 1146.8,370.4 1148.3,370.2 1149.8,370.1 1151.3,370.1 1152.8,370.1 1154.3,370.4 1155.8,370.3 1157.3,370.3 1158.8,371 1160.3,370.8 1161.8,370.9 1163.3,371.2 1164.8,371.6 1166.3,371.5 1167.8,371.1 1169.3,371 1170.8,371.5 1172.3,371.6 1173.8,371.4 1175.3,371.1 1176.8,371.1 1178.3,371.3 1179.8,371.2 1181.3,371.2 1182.8,371.9 1184.3,371.1 1185.8,371.1 1187.3,371.3 1188.8,371.5 1190.3,371.5 1191.8,371.6 1193.3,371.7 1194.8,371.8 1196.3,371.7 1197.8,371.8 1199.3,371.8 1200.8,371.1 1202.3,371.6 1203.8,371.7 1205.3,371.7 1206.8,371.8 1208.3,371.9 1209.8,371.7 1211.3,371.6 1212.8,371.7 1214.3,372 1215.8,372 1217.3,371.9 1218.8,371.7 1220.3,372.3 1221.8,372.5 1223.3,372.3 1224.8,371.5 1226.3,371.9 1227.8,372.4 1229.3,372.6 1230.8,372.2 1232.3,372.1 1233.8,372 1235.3,371.9 1236.8,371.9 1238.3,371.9 1239.8,371.9 1241.3,372 1242.8,372.3 1244.3,372 1245.8,371.9 1247.3,371.9 1248.8,371.7 1250.3,372 1251.8,371.9 1253.3,371.9 1254.8,372 1256.3,372.3 1257.8,372.3 1259.3,372.2 1260.8,372.3" fill="none" stroke="#ff0000" stroke-width="5.2" stroke-linejoin="round"/>
<path clip-path="url(#cl)" d="M119.5,459.7L121.5,460.2 123.5,459.7 125.5,460.6 127.5,460.2 129.5,460.1 131.5,460.2 133.5,460.2 135.5,460.6 137.5,460.4 139.5,461 141.5,460.5 143.5,460 145.5,460.6 147.5,460.2 149.5,460.9 151.5,461.2 153.5,461.1 155.5,460.5 157.5,460.7 159.5,461.6 161.5,461.1 163.5,461 165.5,461.4 167.5,461.8 169.5,461.4 171.5,461 173.5,461.1 175.5,461.1 177.5,460.5 179.5,460.1 180,460.1 180.2,460.1 180.5,460.1 180.8,460.1 181,460.1 181.2,460 181.5,460 181.8,459.8 182,459.7 182.2,459.5 182.5,459.3 182.8,459.1 183,458.9 183.2,458.7 183.5,458.4 183.8,458.1 184,457.8 184.2,457.4 184.5,456.9 184.8,456.4 185,455.6 185.2,454.6 185.5,453.1 185.8,450.3 186,445.1 186.2,434.9 186.5,415.7 186.8,383 187,333.1 187.2,266.6 187.5,191.1 187.8,122.5 188,81.3 188.2,82.5 188.5,125 188.8,193.6 189,268.4 189.2,334.2 189.5,383.7 189.8,416 190,435 190.2,445.3 190.5,450.5 190.8,453.2 191,454.7 191.2,455.6 191.5,456.2 191.8,456.9 192,457.4 192.2,457.9 192.5,458.2 192.8,458.6 193,458.9 193.2,459.1 193.5,459.3 193.8,459.5 194,459.6 194.2,459.8 194.5,459.9 194.8,460 195,460.1 195.2,460.2 195.5,460.2 195.8,460.3 196,460.4 196.2,460.5 196.5,460.6 196.8,460.6 197.5,460.8 199.5,461.2 201.5,460.9 203.5,460.8 205.5,460.6 207.5,460.9 209.5,461.4 211.5,461.3 213.5,460.9 215.5,461.2 217.5,461.3 219.5,461.5 221.5,461.1 223.5,461.2 225.5,460.7 227.5,461 229.5,461.9 231.5,460.6 233.5,461.2 235.5,461.4 237.5,461.2 239.5,461.1 241.5,461.3 243.5,461.4 245.5,461.3 247.5,460.8 249.5,461.3 251.5,461.1 253.5,461.2 255.5,461.4 257.5,461.6 259.5,461.7 261.5,461.2 263.5,461.7 265.5,461.8 267.5,461.7 269.5,461.8 271.5,461.3 273.5,461.3 275.5,461.6 277.5,460.9 279.5,461.4 281.5,461.2 283.5,461.3 285.5,460.8 287.5,461.1 289.5,461.4 291.5,461.7 293.5,461.7 295.5,461.3 297.5,461.3 299.5,461.1 301.5,461.5 303.5,461.3 305.5,461.5 307.5,461.9 309.5,461.3 311.5,460.8 313.5,461 315.5,460.7 317.5,460.7 319,461.2 319.2,461.3 319.5,461.4 319.8,461.3 320,461.2 320.2,461.1 320.5,461.1 320.8,461 321,460.9 321.2,460.8 321.5,460.7 321.8,460.5 322,460.4 322.2,460.2 322.5,460 322.8,459.8 323,459.6 323.2,459.4 323.5,459.1 323.8,458.9 324,458.7 324.2,458.3 324.5,457.7 324.8,456.7 325,454.6 325.2,450.5 325.5,442.8 325.8,429.8 326,410.1 326.2,384 326.5,354.1 326.8,326.1 327,307.4 327.2,303 327.5,312.6 327.8,332.8 328,359.2 328.2,386.5 328.5,410.4 328.8,428.7 329,441.4 329.2,449.3 329.5,453.8 329.8,456.2 330,457.6 330.2,458.3 330.5,458.8 330.8,459.1 331,459.3 331.2,459.5 331.5,459.7 331.8,459.9 332,460 332.2,460.1 332.5,460.2 332.8,460.3 333,460.4 333.2,460.4 333.5,460.5 333.8,460.6 334,460.6 334.2,460.7 334.5,460.7 334.8,460.8 335,460.8 335.2,460.8 335.5,460.9 335.8,460.9 336,460.9 336.2,460.9 336.5,460.9 336.8,460.8 337,460.8 337.2,460.7 337.5,460.6 337.8,460.4 338,460 338.2,459.2 338.5,457.6 338.8,454.9 339,450.9 339.2,445.6 339.5,439.5 339.8,433.7 340,429.9 340.2,429 340.5,430.9 340.8,434.9 341,440.1 341.2,445.7 341.5,450.7 341.8,454.5 342,457.3 342.2,459 342.5,460 342.8,460.6 343,460.9 343.2,461.1 343.5,461.2 343.8,461.2 344,461.3 344.2,461.4 344.5,461.4 344.8,461.4 345,461.5 345.2,461.5 345.5,461.5 345.8,461.5 346,461.5 346.2,461.5 346.5,461.5 346.8,461.5 347,461.5 347.2,461.4 347.5,461.4 347.8,461.3 348,461.3 348.2,461.2 348.5,461.1 348.8,461 349.5,460.8 351.5,461.2 353.5,461.4 355.5,461.2 357.5,461.6 359.5,461.2 361.5,461 363.5,461.8 365.5,461.5 367.5,461.4 369.5,461.6 371.5,461.6 373.5,461.4 375.5,460.4 377.5,461 379.5,460.9 381,460.7 381.2,460.6 381.5,460.6 381.8,460.6 382,460.6 382.2,460.6 382.5,460.6 382.8,460.6 383,460.6 383.2,460.6 383.5,460.6 383.8,460.5 384,460.5 384.2,460.4 384.5,460.4 384.8,460.3 385,460.1 385.2,460 385.5,459.8 385.8,459.4 386,459 386.2,458.5 386.5,457.7 386.8,456.3 387,453.9 387.2,449.2 387.5,440.6 387.8,426.3 388,404.9 388.2,376.8 388.5,345.1 388.8,315.9 389,296.5 389.2,291.7 389.5,300.1 389.8,318 390,341.9 390.2,368.7 390.5,394.4 390.8,416.1 391,432.6 391.2,443.9 391.5,451 391.8,455 392,457 392.2,458.1 392.5,458.7 392.8,459.1 393,459.3 393.2,459.5 393.5,459.6 393.8,459.7 394,459.9 394.2,460 394.5,460 394.8,460.1 395,460.2 395.2,460.2 395.5,460.2 395.8,460.3 396,460.5 396.2,460.6 396.5,460.7 396.8,460.8 397,460.8 397.2,460.9 397.5,461 397.8,461.1 399.5,461.2 401.5,461 403.5,461.5 405.5,461.1 407.5,461 409.5,461.4 411.5,461.5 413.5,461.1 414.3,461.2 414.6,461.2 414.8,461.3 415.1,461.3 415.3,461.3 415.5,461.4 415.6,461.4 415.8,461.3 416.1,461.3 416.3,461.3 416.6,461.3 416.8,461.2 417.1,461.2 417.3,461.2 417.5,461.1 417.6,461.2 417.8,461.3 418.1,461.4 418.3,461.5 418.6,461.5 418.8,461.6 419.1,461.7 419.3,461.8 419.5,461.8 419.6,461.7 419.8,461.5 420.1,461.1 420.3,460.6 420.6,459.7 420.8,458.3 421.1,455.9 421.3,452.3 421.5,448.8 421.6,447.9 421.8,443 422.1,438.6 422.3,435.8 422.6,435.2 422.8,436.6 423.1,439.2 423.3,442.6 423.5,445.6 423.6,446.4 423.8,450.2 424.1,453.5 424.3,456.2 424.6,458.2 424.8,459.4 425.1,460.2 425.3,460.5 425.5,460.7 425.6,460.7 425.8,460.9 426.1,460.9 426.3,461 426.6,461 426.8,461.1 427.1,461.1 427.3,461.1 427.5,461.1 427.6,461.1 427.8,461.2 428.1,461.2 428.3,461.3 428.6,461.3 428.8,461.4 429.1,461.4 429.3,461.5 429.5,461.5 429.6,461.5 429.8,461.5 430.1,461.5 430.3,461.5 430.6,461.6 430.8,461.6 431.1,461.6 431.5,461.6 433.5,461.7 435.5,461.5 437.5,461.2 439.5,461.2 441.5,461.5 443.5,461.6 445.5,461.8 447.5,461.5 449.5,461.7 451.5,461.9 453.5,461.4 455.5,460.9 457.5,461 459.5,460.9 461.5,461.9 463.5,461.1 465.5,461.8 467.5,461.6 469.5,461.9 471.5,461.7 473.5,461.3 475.5,461.3 477.5,461.4 479.5,461.4 481.5,461.2 483.5,461.3 485.5,461.9 487.5,460.8 489.5,461.4 491.5,461 492.9,461.2 493.1,461.2 493.4,461.3 493.5,461.3 493.6,461.3 493.9,461.3 494.1,461.3 494.4,461.3 494.6,461.4 494.9,461.4 495.1,461.4 495.4,461.4 495.5,461.4 495.6,461.3 495.9,461.3 496.1,461.2 496.4,461.1 496.6,461 496.9,461 497.1,460.9 497.4,460.8 497.5,460.7 497.6,460.7 497.9,460.6 498.1,460.5 498.4,460.3 498.6,459.9 498.9,459.2 499.1,457.7 499.4,455 499.5,453.4 499.6,450.4 499.9,443.6 500.1,434.8 500.4,425.2 500.6,416.8 500.9,411.8 501.1,411.2 501.4,414.1 501.5,415.7 501.6,418.5 501.9,423.3 502.1,428.4 502.4,434.2 502.6,440.4 502.9,446.3 503.1,451.3 503.4,455.2 503.5,456.3 503.6,457.7 503.9,459.1 504.1,459.9 504.4,460.3 504.6,460.5 504.9,460.6 505.1,460.6 505.4,460.6 505.5,460.6 505.6,460.7 505.9,460.8 506.1,460.9 506.4,461 506.6,461.1 506.9,461.2 507.1,461.2 507.4,461.3 507.5,461.3 507.6,461.3 507.9,461.3 508.1,461.3 508.4,461.3 508.6,461.3 508.9,461.3 509.1,461.3 509.4,461.3 509.5,461.3 509.6,461.2 511.5,460.5 513.5,461.1 515.5,461.4 517.5,461.8 519.5,461.4 521.5,461.4 523.5,460.9 525.5,461.8 527.5,461.9 529.5,461.3 531.5,461.3 533.5,460.8 535.5,461.6 537.5,462.1 539.3,461.5 539.5,461.4 539.5,461.4 539.8,461.4 540,461.4 540.3,461.4 540.5,461.4 540.8,461.4 541,461.4 541.3,461.4 541.5,461.4 541.5,461.4 541.8,461.3 542,461.2 542.3,461.2 542.5,461.1 542.8,461 543,460.9 543.3,460.8 543.5,460.7 543.5,460.6 543.8,460.5 544,460.2 544.3,460 544.5,459.7 544.8,459.2 545,458.5 545.3,457.2 545.5,455.3 545.5,454.7 545.8,450.2 546,442.8 546.3,431.7 546.5,417.6 546.8,402.3 547,389.1 547.3,382 547.5,381.8 547.5,382.4 547.8,388.1 548,395.4 548.3,402.1 548.5,407.9 548.8,414.3 549,422.2 549.3,431.1 549.5,438 549.5,439.6 549.8,446.8 550,452.2 550.3,455.6 550.5,457.7 550.8,458.9 551,459.5 551.3,459.9 551.5,460.1 551.5,460.1 551.8,460.3 552,460.4 552.3,460.6 552.5,460.7 552.8,460.8 553,460.8 553.3,460.9 553.5,461 553.5,461 553.8,461 554,461.1 554.3,461.2 554.5,461.2 554.8,461.3 555,461.3 555.3,461.4 555.5,461.4 555.5,461.4 555.8,461.4 556,461.4 557.5,461.3 559.5,461.4 561.5,461 563.5,460.9 565,461.2 565.2,461.2 565.5,461.3 565.8,461.2 566,461.2 566.2,461.2 566.5,461.1 566.8,461.1 567,461 567.2,461 567.5,461 567.8,460.9 568,460.9 568.2,460.8 568.5,460.8 568.8,460.7 569,460.7 569.2,460.6 569.5,460.5 569.8,460.5 570,460.4 570.2,460.3 570.5,460.2 570.8,459.9 571,459.4 571.2,458.5 571.5,456.8 571.8,453.9 572,449.7 572.2,444.3 572.5,438.5 572.8,433.5 573,431 573.2,431.4 573.5,433.9 573.8,436.8 574,439.3 574.2,441.1 574.5,442.9 574.8,445.3 575,448.4 575.2,451.6 575.5,454.5 575.8,456.8 576,458.3 576.2,459.3 576.5,459.9 576.8,460.2 577,460.3 577.2,460.5 577.5,460.5 577.8,460.6 578,460.6 578.2,460.6 578.5,460.6 578.8,460.7 579,460.7 579.2,460.7 579.5,460.7 579.8,460.8 580,460.9 580.2,460.9 580.5,461 580.8,461.1 581,461.2 581.2,461.3 581.5,461.3 581.8,461.4 583.5,461.5 585.5,462 587.5,460.9 589.5,461.1 591.5,461.7 593.5,461.3 595.5,461.3 597.5,461.9 599.5,461.3 601.5,461 603.5,461 605.5,461.5 607.5,461.5 609.5,460.9 611.5,461.1 613.5,461.6 615.5,461.6 617.5,461.2 619.5,461.6 621.5,461.6 623.5,460.8 625.5,461.3 627.5,461.5 629.5,461.2 631,460.8 631.2,460.7 631.5,460.7 631.8,460.7 632,460.8 632.2,460.9 632.5,461 632.8,461 633,461.1 633.2,461.2 633.5,461.2 633.8,461.3 634,461.3 634.2,461.3 634.5,461.4 634.8,461.4 635,461.4 635.2,461.5 635.5,461.5 635.8,461.5 636,461.5 636.2,461.5 636.5,461.5 636.8,461.5 637,461.3 637.2,461.1 637.5,460.6 637.8,459.5 638,458.1 638.2,456.2 638.5,454.3 638.8,452.6 639,451.8 639.2,451.9 639.5,452.8 639.6,453.3 639.8,454.1 639.9,454.5 640,455.1 640.1,455.4 640.2,455.7 640.4,455.9 640.5,456.1 640.6,456.2 640.8,456.5 640.9,456.7 641,457.2 641.1,457.6 641.2,458.2 641.4,458.7 641.5,459.4 641.6,459.7 641.8,460.1 641.9,460.3 642,460.6 642.1,460.8 642.2,460.9 642.4,461 642.5,461.1 642.6,461.1 642.8,461.1 642.9,461.1 643,461 643.1,461 643.2,460.9 643.4,460.8 643.5,460.8 643.6,460.8 643.8,460.9 643.9,460.9 644,460.9 644.1,461 644.2,461 644.4,461 644.5,461.1 644.6,461.1 644.8,461.1 644.9,461.1 645,461.2 645.1,461.2 645.2,461.2 645.4,461.1 645.5,461.1 645.6,461 645.8,460.8 645.9,460.6 646,460.2 646.1,459.8 646.2,459.1 646.4,458.5 646.5,457.5 646.6,456.6 646.8,455.2 646.9,454.2 647,452.7 647.1,451.7 647.2,450.3 647.4,449.6 647.5,448.8 647.6,448.6 647.8,448.7 647.9,449 648.1,450.5 648.4,452.1 648.6,453.4 648.9,454 649.1,454.1 649.4,454.3 649.5,454.7 649.6,455 649.9,456.1 650.1,457.4 650.4,458.6 650.6,459.6 650.9,460.3 651.1,460.8 651.4,461 651.5,461.1 651.6,461.1 651.9,461.1 652.1,461.1 652.4,461.1 652.6,461 652.9,461 653.1,461 653.4,460.9 653.5,460.9 653.6,460.9 653.9,461 654.1,461.1 654.4,461.2 654.6,461.3 654.9,461.3 655.1,461.4 655.4,461.5 655.5,461.5 655.6,461.5 655.9,461.5 656.1,461.4 656.4,461.4 657.5,461.1 659.5,460.6 661.5,462.3 663.5,461.6 665.5,462 667.5,461.1 669.5,461.9 671.5,461.9 672,461.9" fill="none" stroke="#0000ff" stroke-width="5.2" stroke-linejoin="round"/>
<path clip-path="url(#cr)" d="M708.8,461.7L710.3,461.3 711.8,461.2 713.3,461.4 714.8,461.8 716.3,461.5 717.8,461.6 719.3,461.7 720.8,461.7 722.3,462.1 723.8,462.2 725.3,462 726.8,461.7 728.3,462 729.8,461.8 731.3,461.5 732.8,461.6 734.3,461.9 735.8,461.7 737.3,461.4 738.8,461.6 740.3,461.4 741.8,461.5 743.3,461.8 744.8,462.1 746.3,461.6 747.8,461.6 749.3,461.6 750.8,461.4 752.3,461.3 753.8,461.3 755.3,461.5 756.8,462 758.3,462.2 759.8,462 761.3,461.6 762.8,461.4 764.3,461.7 765.8,461.6 767.3,461.5 768.8,461.8 770.3,461.6 771.8,461.6 773.3,461.6 774.8,461.7 776.3,461.4 777.8,461.3 779.3,461.2 780.8,460.9 782.3,461.2 783.8,461.1 785.3,461.1 786.8,461.3 788.3,461.1 789.8,461.2 791.3,461.3 792.8,461.4 794.3,461 795.8,460.9 797.3,460.9 798.8,460.9 800.3,461.2 801.8,461.4 803.3,461.4 804.8,461.2 806.3,460.9 807.8,461 809.3,461 810.8,460.3 812.3,460.8 813.8,460.7 815.3,460.1 816.8,459.6 818.3,460.6 819.8,460.7 821.3,460.3 822.8,459.6 824.3,459.7 825.8,459.5 827.3,459.2 828.8,459.1 830.3,458.4 831.8,458.1 832.2,458 832.7,457.9 833.2,457.8 833.3,457.8 833.7,457.7 834.2,457.6 834.7,457.5 834.8,457.4 835.2,457.2 835.7,456.9 836.2,456.6 836.3,456.6 836.7,456.3 837.2,456 837.7,455.6 837.8,455.6 838.2,455.2 838.7,454.8 839.2,454.2 839.3,454.1 839.7,453.5 840.2,452.7 840.7,451.8 840.8,451.6 841.2,451 841.7,450.2 842.2,449.3 842.3,449.1 842.7,448.3 843.2,446.8 843.7,445.2 843.8,444.8 844.2,443.4 844.7,441.4 845.2,439.6 845.3,439.2 845.7,437.7 846.2,435.6 846.7,433.4 846.8,433 847.2,430.9 847.7,428.2 848.2,425.3 848.3,424.8 848.7,422.4 849.2,419.5 849.7,416.5 849.8,416 850.2,413.5 850.7,410.5 851.2,407.5 851.3,406.9 851.7,404.6 852.2,401.7 852.7,398.9 852.8,398.3 853.2,395.9 853.7,393.1 854.2,390.4 854.3,389.9 854.7,388.1 855.2,386.2 855.7,384.8 855.8,384.5 856.2,383.7 856.7,383.1 857.2,382.8 857.3,382.8 857.7,382.9 858.2,383.5 858.7,384.4 858.8,384.7 859.2,385.8 859.7,387.4 860.2,389.4 860.3,389.9 860.7,391.7 861.2,394.2 861.7,396.9 861.8,397.5 862.2,399.7 862.7,402.6 863.2,405.5 863.3,406 863.7,408.3 864.2,411.1 864.7,413.8 864.8,414.3 865.2,416.4 865.7,418.9 866.2,421.3 866.3,421.7 866.7,423.4 867.2,425.5 867.7,427.4 867.8,427.7 868.2,429.1 868.7,430.6 869.2,431.8 869.3,432 869.7,432.8 870.2,433.5 870.7,434.1 870.8,434.2 871.2,434.4 871.7,434.5 872.2,434.4 872.3,434.3 872.7,434.1 873.2,433.7 873.7,433.1 873.8,433 874.2,432.5 874.7,431.6 875.2,430.8 875.3,430.6 875.7,429.9 876.2,428.9 876.7,427.9 876.8,427.7 877.2,426.8 877.7,425.7 878.2,424.5 878.3,424.3 878.7,423.5 879.2,422.6 879.7,421.8 879.8,421.6 880.2,421.1 880.7,420.7 881.2,420.4 881.3,420.4 881.7,420.3 882.2,420.5 882.7,420.8 882.8,420.9 883.2,421.2 883.7,421.7 884.2,422.5 884.3,422.6 884.7,423.4 885.2,424.5 885.7,425.7 885.8,426 886.2,427.1 886.7,428.5 887.2,430 887.3,430.3 887.7,431.6 888.2,433.2 888.7,434.8 888.8,435.1 889.2,436.3 889.7,437.9 890.2,439.4 890.3,439.6 890.7,440.8 891.2,442.2 891.7,443.6 891.8,443.9 892.2,444.9 892.7,446.1 893.2,447.3 893.3,447.5 893.7,448.4 894.2,449.4 894.7,450.4 894.8,450.5 895.2,451.3 895.7,452.1 896.2,452.9 896.3,453.1 896.7,453.6 897.2,454.3 897.7,454.8 897.8,454.9 898.2,455.3 898.7,455.8 899.2,456.3 899.3,456.4 899.7,456.7 900.2,457.2 900.7,457.6 900.8,457.6 901.2,457.8 901.7,457.9 902.3,458.1 903.8,458.6 905.3,458.9 906.8,459 908.3,459.9 909.8,460.1 911.3,460.2 912.8,460.6 914.3,460.5 915.8,460.7 917.3,460.8 918.8,460.5 920.3,460.8 921.8,461.2 923.3,461.3 924.8,460.5 926.3,461.1 927.8,461.4 929.3,461.4 930.8,461.2 932.3,461.3 933.8,461.4 935.3,461.4 936.8,461 938.3,461.3 939.8,461.2 941.3,461.1 942.8,461.1 944.3,461.2 945.8,461.3 947.3,461.4 948.8,461.4 950.3,461.5 951.8,461.3 953.3,461.3 954.8,462 956.3,461.9 957.8,461.8 959.3,461.6 960.8,461.4 962.3,461.5 963.8,461.6 965.3,461.7 966.8,461.7 968.3,461.2 969.8,461.5 971.3,462 972.8,462.4 974.3,461.4 975.8,461.5 977.3,461.9 978.8,461.7 980.3,461.6 981.8,461.8 983.3,461.9 984.8,461.3 986.3,461.6 987.8,461.9 989.3,462 990.8,461.6 992.3,461.6 993.8,461.7 995.3,461.7 996.8,461.6 998.3,462 999.8,461.8 1001.3,461.6 1002.8,462 1004.3,461.5 1005.8,461.6 1007.3,461.9 1008.8,461.7 1010.3,461.2 1011.8,461.4 1013.3,461.7 1014.8,461.4 1016.3,461.6 1017.8,461.9 1019.3,462 1020.8,461.4 1022.3,461.5 1023.8,461.8 1025.3,462.1 1026.8,461.8 1028.3,462.1 1029.8,462 1031.3,461.8 1032.8,461.5 1034.3,461.7 1035.8,462 1037.3,462.1 1038.8,462.1 1040.3,461.9 1041.8,461.8 1043.3,461.8 1044.8,461.8 1046.3,461.7 1047.8,462 1049.3,462.2 1050.8,461.8 1052.3,461.6 1053.8,461.6 1055.3,461.8 1056.8,462 1058.3,462 1059.8,461.9 1061.3,461.7 1062.8,461.6 1064.3,461.8 1065.8,461.6 1067.3,461.4 1068.8,461.4 1070.3,461.9 1071.8,461.9 1073.3,461.7 1074.8,461.9 1076.3,462.1 1077.8,462.1 1079.3,462 1080.8,461.8 1082.3,462.3 1083.8,462.2 1085.3,462 1086.8,461.7 1088.3,462 1089.8,462 1091.3,461.9 1092.8,461.6 1094.3,461.8 1095.8,461.8 1097.3,461.7 1098.8,461.3 1100.3,461.7 1101.8,461.8 1103.3,461.7 1104.8,461.7 1106.3,461.5 1107.8,461.6 1109.3,461.8 1110.8,461.8 1112.3,461.9 1113.8,461.7 1115.3,461.6 1116.8,462 1118.3,461.6 1119.8,461.6 1121.3,461.9 1122.8,462.2 1124.3,461.8 1125.8,461.7 1127.3,461.8 1128.8,462.2 1130.3,461.8 1131.8,461.8 1133.3,461.8 1134.8,461.9 1136.3,462.1 1137.8,461.7 1139.3,461.3 1140.8,461.6 1142.3,461.6 1143.8,461.6 1145.3,461.6 1146.8,461.6 1148.3,461.6 1149.8,461.8 1151.3,461.9 1152.8,461.6 1154.3,461.8 1155.8,461.9 1157.3,461.9 1158.8,461.7 1160.3,461.8 1161.8,462.1 1163.3,462.2 1164.8,462 1166.3,461.7 1167.8,461.8 1169.3,461.8 1170.8,461.6 1172.3,461.9 1173.8,462 1175.3,462 1176.8,461.6 1178.3,461.8 1179.8,462 1181.3,462.1 1182.8,461.7 1184.3,461.9 1185.8,461.7 1187.3,461.6 1188.8,461.6 1190.3,461.7 1191.8,462.1 1193.3,462.3 1194.8,461.8 1196.3,461.7 1197.8,461.7 1199.3,461.7 1200.8,461.8 1202.3,462 1203.8,462 1205.3,462.1 1206.8,462.4 1208.3,462.1 1209.8,462.1 1211.3,462.2 1212.8,462 1214.3,462 1215.8,461.8 1217.3,461.6 1218.8,461.8 1220.3,461.9 1221.8,461.8 1223.3,461.7 1224.8,461.3 1226.3,461.9 1227.8,461.9 1229.3,461.8 1230.8,461.8 1232.3,461.8 1233.8,461.8 1235.3,461.9 1236.8,462 1238.3,461.6 1239.8,461.6 1241.3,461.7 1242.8,462 1244.3,461.9 1245.8,461.8 1247.3,461.8 1248.8,461.7 1250.3,461.7 1251.8,461.8 1253.3,461.9 1254.8,462.2 1256.3,461.7 1257.8,461.9 1259.3,462.3 1260.8,462.1" fill="none" stroke="#0000ff" stroke-width="5.2" stroke-linejoin="round"/>
<path clip-path="url(#cl)" d="M119.5,549.3L121.5,549.6 123.5,550 125.5,550.1 127.5,550.2 129.5,550.4 131.5,549.8 133.5,550.7 135.5,550.2 137.5,550.5 139.5,550.6 141.5,550.4 143.5,550.4 145.5,550.6 147.5,550.9 149.5,551.2 151.5,551.2 153.5,550.7 155.5,550.8 157.5,550.8 159.5,551.3 161.5,550.5 163.5,551.5 165.5,551 167.5,550.9 169.5,551.3 171.5,551.5 173.5,551.2 175.5,551.4 177.5,551.1 179.5,551.3 181.5,551.1 182,550.9 182.2,550.8 182.5,550.7 182.8,550.6 183,550.5 183.2,550.3 183.5,550.2 183.8,550.2 184,550.1 184.2,550.1 184.5,550 184.8,549.9 185,549.8 185.2,549.7 185.5,549.6 185.8,549.2 186,548.9 186.2,548.5 186.5,548 186.8,547.4 187,546.7 187.2,545.7 187.5,544.2 187.8,541.8 188,537.2 188.2,528.2 188.5,511.4 188.8,482.7 189,438.9 189.2,380.6 189.5,314.3 189.8,253.9 190,217.5 190.2,218.1 190.5,255.1 190.8,315 191,380.6 191.2,438.4 191.5,481.8 191.8,510.5 192,527.5 192.2,536.7 192.5,541.5 192.8,544 193,545.4 193.2,546.4 193.5,547.1 193.8,547.7 194,548.2 194.2,548.6 194.5,548.9 194.8,549.2 195,549.5 195.2,549.7 195.5,550 195.8,550 196,550.1 196.2,550.1 196.5,550.1 196.8,550.1 197,550.1 197.2,550.1 197.5,550.1 197.8,550.2 198,550.4 198.2,550.5 198.5,550.6 198.8,550.7 199.5,551.1 201.5,551.2 203.5,551.2 205.5,550.5 207.5,551.3 209.5,551.5 211.5,551.1 213.5,551.4 215.5,550.6 217.5,551.6 219.5,551.2 221.5,551.7 223.5,550.8 225.5,551.7 227.5,551.4 229.5,551.7 231.5,551.2 233.5,551.3 235.5,552.2 237.5,551.2 239.5,551.2 241.5,551.4 243.5,551.1 245.5,551.8 247.5,552 249.5,551.2 251.5,550.9 253.5,551.8 255.5,551.8 257.5,551.7 259.5,551.8 261.5,551.2 263.5,551.4 265.5,551 267.5,551 269.5,551.8 271.5,551.3 273.5,552.2 275.5,551.5 277.5,551.3 279.5,551.7 281.5,552.1 283.5,551.6 285.5,551.1 287.5,551.6 289.5,551.9 291.5,551.3 293.5,551.2 295.5,551.8 297.5,551.5 299.5,551.1 301.5,551.3 303.5,551.2 305.5,551.6 307.5,551.5 309.5,551.8 311.5,551.7 313.5,550.9 315.5,551.5 317.5,551.7 319.5,551.5 321.5,551.6 323,551.2 323.2,551.1 323.5,551 323.8,551 324,550.9 324.2,550.9 324.5,550.8 324.8,550.8 325,550.7 325.2,550.7 325.5,550.6 325.8,550.7 326,550.7 326.2,550.7 326.5,550.7 326.8,550.7 327,550.6 327.2,550.6 327.5,550.5 327.8,550.2 328,549.9 328.2,549.5 328.5,549 328.8,548.1 329,546.5 329.2,543.5 329.5,537.9 329.8,528.7 330,514.7 330.2,496.2 330.5,475.1 330.8,455.4 331,442.1 331.2,439 331.5,445.6 331.8,459.8 332,478.4 332.2,497.7 332.5,514.8 332.8,528 333,537.2 333.2,543 333.5,546.4 333.8,548.2 334,549.1 334.2,549.5 334.5,549.8 334.8,550 335,550.1 335.2,550.2 335.5,550.2 335.8,550.3 336,550.4 336.2,550.5 336.5,550.6 336.8,550.7 336.8,550.7 337,550.8 337.1,550.8 337.2,550.8 337.3,550.8 337.5,550.9 337.6,550.9 337.8,550.8 337.8,550.8 338,550.8 338.1,550.8 338.2,550.8 338.3,550.8 338.5,550.8 338.6,550.8 338.8,550.8 338.8,550.7 339,550.7 339.1,550.7 339.2,550.7 339.3,550.7 339.5,550.7 339.6,550.7 339.8,550.7 339.8,550.7 340.1,550.7 340.3,550.7 340.6,550.7 340.8,550.7 341.1,550.6 341.3,550.6 341.5,550.6 341.6,550.6 341.8,550.6 342.1,550.5 342.3,550.4 342.6,550.3 342.8,550 343.1,549.4 343.3,548.3 343.5,546.9 343.6,546.4 343.8,543.6 344.1,539.9 344.3,535.7 344.6,531.7 344.8,529 345.1,528.4 345.3,529.8 345.5,531.9 345.6,532.5 345.8,536.2 346.1,540.1 346.3,543.6 346.6,546.3 346.8,548.3 347.1,549.6 347.3,550.3 347.5,550.7 347.6,550.7 347.8,550.9 348.1,550.9 348.3,550.8 348.6,550.8 348.8,550.7 349.1,550.6 349.3,550.6 349.5,550.5 349.6,550.5 349.8,550.7 350.1,550.8 350.3,551 350.6,551.1 350.8,551.2 351.1,551.4 351.3,551.5 351.5,551.6 351.6,551.6 351.8,551.5 352.1,551.4 352.3,551.4 352.6,551.3 352.8,551.2 353.1,551.1 353.3,551.1 353.5,551 353.6,551 355.5,551.1 357.5,551.6 359.5,551.4 361.5,550.9 363.5,552 365.5,551.2 367.5,551.5 369.5,551.5 371.5,551.9 373.5,551.3 375.5,551.7 377.5,551.1 379.5,551.7 381.5,551.1 383.5,551.1 384.5,551.4 384.8,551.4 385,551.5 385.2,551.6 385.5,551.6 385.8,551.5 386,551.4 386.2,551.3 386.5,551.2 386.8,551.1 387,551 387.2,550.9 387.5,550.7 387.8,550.6 388,550.5 388.2,550.4 388.5,550.3 388.8,550.1 389,549.9 389.2,549.6 389.5,549.3 389.8,549 390,548.5 390.2,547.5 390.5,545.6 390.8,541.8 391,534.8 391.2,522.9 391.5,505.2 391.8,481.7 392,455.2 392.2,430.8 392.5,414.6 392.8,410.5 393,417.5 393.2,432.1 393.5,451.6 393.8,473.6 394,494.9 394.2,512.9 394.5,526.6 394.8,536.1 395,542 395.2,545.3 395.5,547.2 395.8,548.3 396,548.9 396.2,549.4 396.5,549.7 396.8,550 397,550.2 397.2,550.4 397.5,550.6 397.8,550.7 398,550.7 398.2,550.7 398.5,550.7 398.8,550.6 399,550.6 399.2,550.6 399.5,550.6 399.8,550.7 400,550.8 400.2,550.9 400.5,551.1 400.8,551.2 401,551.3 401.2,551.4 401.5,551.5 403.5,551.7 405.5,551.1 407.5,551.2 409.5,551.4 411.5,551.4 413.5,551.1 415.5,551.6 417.5,550.8 419.5,551.3 419.8,551.3 420,551.3 420.2,551.2 420.5,551.2 420.8,551.2 421,551.2 421.2,551.2 421.5,551.2 421.8,551.2 422,551.2 422.2,551.2 422.5,551.2 422.8,551.2 423,551.2 423.2,551.2 423.5,551.1 423.8,551.1 424,551.1 424.2,551.1 424.5,551.1 424.8,551 425,550.9 425.2,550.8 425.5,550.4 425.8,549.6 426,548.3 426.2,546 426.5,542.7 426.8,538.4 427,533.6 427.2,529.2 427.5,526.3 427.8,525.8 428,527.1 428.2,529.6 428.5,532.8 428.8,536.4 429,540.2 429.2,543.6 429.5,546.3 429.8,548.3 430,549.5 430.2,550.3 430.5,550.7 430.8,550.9 431,551 431.2,551.1 431.5,551.1 431.8,551.1 432,551.1 432.2,551.1 432.5,551.1 432.8,551.1 433,551.1 433.2,551.1 433.5,551.1 433.8,551.1 434,551.1 434.2,551.1 434.5,551.1 434.8,551 435,551 435.2,551 435.5,551 435.8,551 436,551 436.2,551 437.5,551.1 439.5,551.6 441.5,551.2 443.5,551.5 445.5,551.8 447.5,551.8 449.5,552 451.5,551.4 453.5,551.1 455.5,551.8 457.5,551.6 459.5,551.8 461.5,551.5 463.5,551.9 465.5,551.8 467.5,551.7 469.5,551.6 471.5,551.6 473.5,551.6 475.5,551.6 477.5,551.8 479.5,551.3 481.5,552 483.5,551.4 485.5,551.8 487.5,551.4 489.5,551.4 491.5,552.1 493.5,551.4 495.5,551 497.5,551.2 499.5,551.3 500.8,551.8 501.1,551.9 501.3,552 501.5,552.1 501.6,552 501.8,551.9 502.1,551.9 502.3,551.8 502.6,551.7 502.8,551.6 503.1,551.5 503.3,551.4 503.5,551.3 503.6,551.3 503.8,551.3 504.1,551.3 504.3,551.3 504.6,551.3 504.8,551.3 505.1,551.3 505.3,551.3 505.5,551.2 505.6,551.2 505.8,551 506.1,550.8 506.3,550.6 506.6,550.2 506.8,549.5 507.1,548.3 507.3,546.1 507.5,543.3 507.6,542.4 507.8,537.2 508.1,530.5 508.3,523.2 508.6,516.7 508.8,513 509.1,512.8 509.3,515.2 509.5,518 509.6,518.7 509.8,522.3 510.1,526 510.3,530.2 510.6,534.9 510.8,539.4 511.1,543.3 511.3,546.3 511.5,548.1 511.6,548.4 511.8,549.7 512,550.5 512.3,550.9 512.5,551.1 512.8,551.3 513,551.4 513.3,551.6 513.5,551.6 513.5,551.6 513.8,551.6 514,551.5 514.3,551.4 514.5,551.4 514.8,551.3 515,551.2 515.3,551.1 515.5,551.1 515.5,551.1 515.8,551.2 516,551.2 516.3,551.3 516.5,551.3 516.8,551.4 517,551.5 517.3,551.5 517.5,551.6 517.5,551.6 519.5,551.5 521.5,551.1 523.5,551.4 525.5,551.4 527.5,550.7 529.5,551.6 531.5,551.6 533.5,551.3 535.5,551 537.5,551.9 539.5,551.5 541.5,551.7 543.5,551.8 545.5,551.2 546.6,551.4 546.9,551.4 547.1,551.5 547.4,551.5 547.5,551.5 547.6,551.5 547.9,551.4 548.1,551.4 548.4,551.3 548.6,551.3 548.9,551.2 549.1,551.1 549.4,551 549.5,551 549.6,551 549.9,550.9 550.1,550.9 550.4,550.8 550.6,550.8 550.9,550.7 551.1,550.6 551.4,550.5 551.5,550.4 551.6,550.4 551.9,550.2 552.1,549.8 552.4,549.3 552.6,548.3 552.9,546.3 553.1,542.6 553.4,536.5 553.5,531.4 553.6,527.4 553.9,515.9 554.1,503.5 554.4,492.8 554.6,487.1 554.9,487.5 555.1,492.3 555.4,498.5 555.5,501.8 555.6,503.9 555.9,508.5 556.1,513.4 556.4,519.6 556.6,526.8 556.9,533.8 557.1,539.8 557.4,544.2 557.5,546.2 557.6,547.2 557.9,548.9 558.1,549.8 558.4,550.3 558.6,550.5 558.9,550.7 559.1,550.7 559.4,550.8 559.5,550.8 559.6,550.9 559.9,550.9 560.1,551 560.4,551 560.6,551 560.9,551.1 561.1,551.1 561.4,551.1 561.5,551.1 561.6,551.1 561.9,551.1 562.1,551.2 562.4,551.2 562.6,551.2 562.9,551.2 563.1,551.2 563.4,551.2 563.5,551.2 565.5,551.5 567.5,551.1 569.5,551.2 571.5,551.4 573.3,551.2 573.5,551.2 573.5,551.2 573.8,551.2 574,551.2 574.3,551.2 574.5,551.2 574.8,551.3 575,551.3 575.3,551.3 575.5,551.3 575.5,551.3 575.8,551.2 576,551.2 576.3,551.2 576.5,551.1 576.8,551.1 577,551 577.3,551 577.5,550.9 577.5,551 577.8,551 578,551.1 578.3,551.1 578.5,551.1 578.8,551.1 579,550.9 579.3,550.6 579.5,550 579.5,549.7 579.8,548 580,545.2 580.3,541.1 580.5,535.8 580.8,530.2 581,525.4 581.3,522.9 581.5,523.1 581.5,523.4 581.8,525.8 582,528.7 582.3,531 582.5,532.7 582.8,534.3 583,536.4 583.3,539.3 583.5,541.8 583.5,542.4 583.8,545.2 584,547.5 584.3,549 584.5,550 584.8,550.5 585,550.8 585.3,550.9 585.5,551 585.5,551 585.8,551.2 586,551.3 586.3,551.4 586.5,551.6 586.8,551.7 587,551.8 587.3,551.9 587.5,552 587.5,552 587.8,551.9 588,551.9 588.3,551.8 588.5,551.7 588.8,551.7 589,551.6 589.3,551.5 589.5,551.5 589.5,551.5 589.8,551.5 590,551.5 591.5,551.4 593.5,551.5 595.5,551.6 597.5,551.9 599.5,551.5 601.5,552.1 603.5,551.2 605.5,551.7 607.5,551.2 609.5,552.1 611.5,551.4 613.5,551.5 615.5,551.8 617.5,551.9 619.5,551.1 621.5,551.4 623.5,551 625.5,551.5 627.5,551.5 629.5,551.4 631.5,551.3 633.5,551.4 635.5,551.2 637.5,551.7 639.5,552 641.5,550.9 641.7,550.9 642,551 642.2,551.1 642.5,551.1 642.7,551.2 643,551.3 643.2,551.3 643.5,551.4 643.5,551.4 643.7,551.4 644,551.4 644.2,551.4 644.5,551.4 644.7,551.3 645,551.3 645.2,551.3 645.5,551.3 645.5,551.3 645.7,551.3 646,551.3 646.2,551.4 646.5,551.4 646.7,551.4 647,551.4 647.2,551.4 647.5,551.4 647.5,551.4 647.7,551.3 648,551 648.2,550.6 648.5,549.9 648.7,549 649,547.8 649.2,546.5 649.5,545.5 649.5,545.3 649.7,545 650,545.3 650.2,546 650.5,546.8 650.7,547.4 650.9,547.7 651,547.7 651.1,547.8 651.2,547.8 651.4,547.9 651.5,548 651.5,548 651.6,548.2 651.7,548.2 651.9,548.6 652,548.7 652.1,549.2 652.2,549.3 652.4,549.8 652.5,549.9 652.6,550.2 652.7,550.3 652.9,550.6 653,550.6 653.1,550.8 653.2,550.8 653.4,550.9 653.5,550.9 653.5,550.9 653.6,551 653.7,551 653.9,551.1 654,551.1 654.1,551.2 654.2,551.2 654.4,551.2 654.5,551.3 654.6,551.3 654.7,551.3 654.9,551.4 655,551.4 655.1,551.5 655.2,551.5 655.4,551.5 655.5,551.5 655.5,551.5 655.6,551.5 655.7,551.5 655.9,551.5 656,551.5 656.1,551.4 656.2,551.4 656.4,551.4 656.5,551.3 656.6,551.3 656.7,551.2 656.9,551.1 657,551 657.1,550.8 657.2,550.7 657.4,550.2 657.5,550 657.5,549.9 657.6,549.3 657.7,549 657.9,547.9 658,547.6 658.1,546.2 658.2,545.8 658.4,544.4 658.5,544 658.6,542.9 658.9,542.2 659.1,542.5 659.4,543.6 659.5,544.1 659.6,544.8 659.9,545.7 660.1,546.2 660.4,546.3 660.6,546.4 660.9,546.7 661.1,547.5 661.4,548.4 661.5,548.8 661.6,549.4 661.9,550.1 662.1,550.6 662.4,551 662.6,551.1 662.9,551.2 663.1,551.3 663.4,551.3 663.5,551.3 663.6,551.3 663.9,551.2 664.1,551.2 664.4,551.1 664.6,551.1 664.9,551 665.1,551 665.4,551 665.5,550.9 665.6,551 665.9,551.1 666.1,551.2 666.4,551.3 666.6,551.4 666.9,551.4 667.1,551.5 667.4,551.6 667.5,551.7 667.6,551.6 669.5,551.6 671.5,551.4 672,551.5" fill="none" stroke="#008080" stroke-width="5.2" stroke-linejoin="round"/>
<path clip-path="url(#cr)" d="M708.8,551.6L710.3,552 711.8,552.2 713.3,552 714.8,551.6 716.3,551.5 717.8,551.5 719.3,551.6 720.8,551.6 722.3,551.4 723.8,551.6 725.3,551.7 726.8,551.4 728.3,551.4 729.8,551.7 731.3,551.9 732.8,551.6 734.3,551.7 735.8,551.8 737.3,552 738.8,552 740.3,551.8 741.8,551.7 743.3,551.7 744.8,551.5 746.3,552.1 747.8,552.1 749.3,551.8 750.8,551.5 752.3,551.7 753.8,551.9 755.3,551.9 756.8,551.9 758.3,552.2 759.8,552.2 761.3,552 762.8,551.6 764.3,551.7 765.8,551.6 767.3,551.5 768.8,551.8 770.3,551.8 771.8,552.2 773.3,552.3 774.8,551.8 776.3,551.3 777.8,551.4 779.3,551.6 780.8,551.8 782.3,551.5 783.8,551.5 785.3,551.5 786.8,551.6 788.3,551.8 789.8,551.8 791.3,551.6 792.8,551.5 794.3,551.8 795.8,551.8 797.3,551.6 798.8,551.6 800.3,551.4 801.8,551.4 803.3,551.6 804.8,551.9 806.3,551.4 807.8,551.5 809.3,551.8 810.8,551.9 812.3,551.7 813.8,551.7 815.3,551.7 816.8,551.4 818.3,551.9 819.8,552.1 821.3,552 822.8,551.8 824.3,551.4 825.8,551.3 827.3,551.6 828.8,552 830.3,552.1 831.8,552 833.3,551.9 834.8,552.1 836.3,551.7 837.8,551.6 839.3,551.7 840.8,551.7 842.3,551.8 843.8,551.5 845.3,551.4 846.8,552 848.3,552 849.8,551.7 851.3,551.4 852.8,551.3 854.3,551.7 855.8,551.6 857.3,551.4 858.8,551 860.3,551.7 861.8,551.8 863.3,551.7 864.8,551.5 866.3,552.1 867.8,552 869.3,551.6 870.8,551.4 872.3,551.6 873.8,551.5 875.3,551.4 876.8,551.4 878.3,551.7 879.8,551.6 881.3,551.5 882.8,551.5 884.3,551.9 885.8,552 887.3,551.9 888.8,551.8 890.3,551.8 891.8,551.7 893.3,551.8 894.8,552 896.3,551.7 897.8,551.8 899.3,551.9 900.8,551.3 902.3,551.4 903.8,551.3 905.3,551.2 906.8,551.4 908.3,551.6 909.8,551.8 911.3,551.8 912.8,551.3 914.3,551.4 915.8,551.4 917.3,551.3 918.8,551.2 920.3,551.1 921.8,551.3 923.3,551.3 924.8,550.9 926.3,551.3 927.8,551.4 929.3,551.3 930.8,551.1 932.3,551 933.8,550.9 935.3,551.1 936.8,551.7 938.3,551 939.8,551.2 941.3,551.5 942.8,551.2 944.3,551 945.8,550.7 947.3,550.7 948.8,551.1 950.3,551.2 951.8,550.8 953.3,550.4 954.8,550.5 956.3,550.7 957.8,550.5 959.3,550.4 960.8,550.7 962.3,550 963.8,549.8 965.3,549.6 966.8,549 967.3,549.1 967.8,549.2 968.3,549.4 968.8,549.5 969.3,549.1 969.8,548.8 970.3,548.5 970.8,548.1 971.3,547.8 971.8,547.5 972.3,547.1 972.8,546.8 973.3,546.6 973.8,546.4 974.3,546.2 974.8,545.9 975.3,545.5 975.8,544.9 976.3,544.3 976.8,543.6 977.3,543 977.8,542.3 978.3,541.5 978.8,540.6 979.3,539.3 979.8,537.9 980.3,536.3 980.8,534.7 981.3,533 981.8,531.3 982.3,529.4 982.8,527.4 983.3,525.3 983.8,523 984.3,520.7 984.8,518.3 985.3,515.8 985.8,513.2 986.3,510.7 986.8,508.1 987.3,505.3 987.8,502.6 988.3,500 988.8,497.5 989.3,495.4 989.8,493.5 990.3,491.9 990.8,490.6 991.3,489.5 991.8,488.8 992.3,488.5 992.8,488.7 993.3,489.2 993.8,490 994.3,491.3 994.8,492.8 995.3,494.7 995.8,496.8 996.3,499.1 996.8,501.5 997.3,503.9 997.8,506.4 998.3,508.9 998.8,511.4 999.3,513.7 999.8,516 1000.3,518.1 1000.8,520.2 1001.3,522.3 1001.8,524.2 1002.3,526 1002.8,527.6 1003.3,528.8 1003.8,529.7 1004.3,530.4 1004.8,531 1005.3,531.8 1005.8,532.3 1006.3,532.7 1006.8,533 1007.3,532.8 1007.8,532.5 1008.3,532.1 1008.8,531.6 1009.3,530.8 1009.8,530 1010.3,529.1 1010.8,528.1 1011.3,527 1011.8,525.9 1012.3,524.8 1012.8,523.7 1013.3,522.7 1013.8,521.8 1014.3,520.9 1014.8,520.1 1015.3,519.5 1015.8,519 1016.3,518.7 1016.8,518.5 1017.3,518.5 1017.8,518.7 1018.3,519.1 1018.8,519.7 1019.3,520.4 1019.8,521.3 1020.3,522.3 1020.8,523.4 1021.3,524.7 1021.8,526 1022.3,527.4 1022.8,528.8 1023.3,530.1 1023.8,531.3 1024.3,532.6 1024.8,533.8 1025.3,535.1 1025.8,536.4 1026.3,537.6 1026.8,538.7 1027.3,539.7 1027.8,540.5 1028.3,541.3 1028.8,542 1029.3,543 1029.8,543.8 1030.3,544.7 1030.8,545.4 1031.3,545.9 1031.8,546.4 1032.3,546.8 1032.8,547.1 1033.3,547.4 1033.8,547.7 1034.3,547.9 1034.8,548.1 1035.3,548.5 1035.8,548.8 1036.3,549.1 1036.8,549.4 1037.3,549.5 1038.8,549.7 1040.3,549.2 1041.8,549.6 1043.3,550.1 1044.8,549.9 1046.3,550.5 1047.8,551 1049.3,551.1 1050.8,550.6 1052.3,550.8 1053.8,550.8 1055.3,550.9 1056.8,551.1 1058.3,551.2 1059.8,551.3 1061.3,551.3 1062.8,550.9 1064.3,551.4 1065.8,551.3 1067.3,551.1 1068.8,551.3 1070.3,551.5 1071.8,551.6 1073.3,551.4 1074.8,551.1 1076.3,551.2 1077.8,551.2 1079.3,551.3 1080.8,551.4 1082.3,551.7 1083.8,551.4 1085.3,551.2 1086.8,551.6 1088.3,551.6 1089.8,551.7 1091.3,551.7 1092.8,551.6 1094.3,551.9 1095.8,551.8 1097.3,551.7 1098.8,551.8 1100.3,551.7 1101.8,551.9 1103.3,551.8 1104.8,551 1106.3,551.7 1107.8,551.7 1109.3,551.5 1110.8,551.5 1112.3,551.4 1113.8,551.2 1115.3,551.2 1116.8,551.5 1118.3,551.5 1119.8,551.6 1121.3,551.6 1122.8,551.2 1124.3,551.8 1125.8,551.9 1127.3,551.7 1128.8,551.6 1130.3,551.5 1131.8,551.5 1133.3,551.4 1134.8,551.4 1136.3,551.5 1137.8,551.6 1139.3,551.7 1140.8,551.6 1142.3,551.4 1143.8,551.4 1145.3,551.6 1146.8,551.4 1148.3,551.7 1149.8,552 1151.3,552.1 1152.8,551.9 1154.3,551.7 1155.8,551.4 1157.3,551.3 1158.8,551.3 1160.3,551.3 1161.8,551.6 1163.3,551.8 1164.8,551.5 1166.3,551.7 1167.8,551.6 1169.3,551.6 1170.8,551.7 1172.3,552 1173.8,551.8 1175.3,551.6 1176.8,551.6 1178.3,551.5 1179.8,551.7 1181.3,551.8 1182.8,551.4 1184.3,551.4 1185.8,551.4 1187.3,551.3 1188.8,551.3 1190.3,551.7 1191.8,552.2 1193.3,552.2 1194.8,551.5 1196.3,551.9 1197.8,551.9 1199.3,551.7 1200.8,551.4 1202.3,551.6 1203.8,551.7 1205.3,551.6 1206.8,551.6 1208.3,552.1 1209.8,551.7 1211.3,551.4 1212.8,551.9 1214.3,551.8 1215.8,551.7 1217.3,551.6 1218.8,551.8 1220.3,551.9 1221.8,551.9 1223.3,551.8 1224.8,551.9 1226.3,551.9 1227.8,551.6 1229.3,551.4 1230.8,552.2 1232.3,552.3 1233.8,552.2 1235.3,552 1236.8,552 1238.3,551.5 1239.8,551.5 1241.3,551.7 1242.8,551.5 1244.3,551.6 1245.8,551.8 1247.3,551.9 1248.8,551.5 1250.3,551.7 1251.8,551.5 1253.3,551.4 1254.8,551.7 1256.3,551.8 1257.8,551.7 1259.3,551.6 1260.8,551.6" fill="none" stroke="#008080" stroke-width="5.2" stroke-linejoin="round"/>
<path clip-path="url(#cl)" d="M119.5,639.1L121.5,639.9 123.5,640.3 125.5,639.8 127.5,639.6 129.5,639.8 131.5,640.3 133.5,639.8 135.5,640.6 137.5,640.6 139.5,640.3 141.5,640.5 143.5,640.6 145.5,640.9 147.5,640.1 149.5,640.9 151.5,640.4 153.5,640.3 155.5,640.6 157.5,640.5 159.5,640.3 161.5,640.1 163.5,640.3 165.5,641.1 167.5,641.2 169.5,640.8 171.5,641 173.5,640.4 175.5,640.4 177.5,640.4 179.5,639.8 180.5,639.6 180.8,639.5 181,639.5 181.2,639.4 181.5,639.3 181.8,639.3 182,639.2 182.2,639.1 182.5,639.1 182.8,639 183,638.9 183.2,638.7 183.5,638.5 183.8,638.3 184,638 184.2,637.7 184.5,637.3 184.8,636.8 185,636.2 185.2,635.5 185.5,634.6 185.8,633.5 186,631.7 186.2,628.6 186.5,622.8 186.8,611.5 187,590.3 187.2,554.2 187.5,499.1 187.8,425.8 188,342.6 188.2,266.9 188.5,221.4 188.8,222.6 189,269.3 189.2,344.9 189.5,427.4 189.8,499.9 190,554.4 190.2,590.2 190.5,611.4 190.8,622.8 191,628.7 191.2,631.7 191.5,633.5 191.8,634.7 192,635.6 192.2,636.4 192.5,637 192.8,637.5 193,637.9 193.2,638.3 193.5,638.6 193.8,638.8 194,639 194.2,639.2 194.5,639.3 194.8,639.4 195,639.5 195.2,639.5 195.5,639.6 195.8,639.7 196,639.7 196.2,639.8 196.5,639.9 196.8,639.9 197,640 197.2,640 197.5,640 199.5,640.4 201.5,640.5 203.5,640.4 205.5,640.6 207.5,641 209.5,641 211.5,641.2 213.5,640.3 215.5,640.7 217.5,640.8 219.5,641 221.5,640.8 223.5,640.8 225.5,641.2 227.5,641 229.5,640.6 231.5,641.4 233.5,641.3 235.5,640.8 237.5,641.2 239.5,640.7 241.5,641.3 243.5,640.9 245.5,640.7 247.5,640.8 249.5,640.7 251.5,641 253.5,641 255.5,641 257.5,640.8 259.5,639.8 261.5,641 263.5,640.4 265.5,641.1 267.5,641.3 269.5,641.1 271.5,640.9 273.5,640.9 275.5,640.9 277.5,640.8 279.5,640.8 281.5,640.7 283.5,641.4 285.5,641 287.5,641.3 289.5,640.9 291.5,641 293.5,640.9 295.5,641.1 297.5,641.2 299.5,641 301.5,640.7 303.5,640.7 305.5,641.5 307.5,640.8 309.5,640.8 311.5,641.4 313.5,641.2 315.5,641 317.5,640.6 319.5,641.4 319.8,641.3 320,641.2 320.2,641 320.5,640.9 320.8,640.8 321,640.7 321.2,640.6 321.5,640.5 321.8,640.4 322,640.3 322.2,640.3 322.5,640.2 322.8,640.1 323,640 323.2,639.9 323.5,639.8 323.8,639.6 324,639.3 324.2,639 324.5,638.7 324.8,638.2 325,637.5 325.2,636.4 325.5,634.2 325.8,630.1 326,622.4 326.2,609.5 326.5,590.1 326.8,564.4 327,535 327.2,507.5 327.5,489 327.8,484.7 328,494.1 328.2,513.9 328.5,539.8 328.8,566.7 329,590.2 329.2,608.3 329.5,620.8 329.8,628.7 330,633.3 330.2,635.8 330.5,637.2 330.8,638 331,638.6 331.2,639 331.5,639.3 331.8,639.5 332,639.7 332.2,639.8 332.2,639.8 332.4,639.9 332.5,639.9 332.7,640 332.8,640 332.9,640.1 333,640.1 333.2,640.2 333.2,640.2 333.4,640.2 333.5,640.2 333.7,640.3 333.8,640.3 333.9,640.3 334,640.3 334.2,640.3 334.2,640.3 334.4,640.3 334.5,640.3 334.7,640.3 334.8,640.3 334.9,640.3 335,640.3 335.2,640.3 335.2,640.3 335.4,640.3 335.5,640.3 335.7,640.3 335.8,640.2 335.9,640.2 336,640.2 336.2,640.2 336.2,640.2 336.4,640.1 336.7,640.1 336.9,640 337.2,639.9 337.4,639.8 337.5,639.8 337.7,639.6 337.9,639.4 338.2,639 338.4,638.1 338.7,636.6 338.9,633.9 339.2,630 339.4,624.7 339.5,623.6 339.7,618.8 339.9,613.3 340.2,609.6 340.4,608.7 340.7,610.6 340.9,614.5 341.2,619.7 341.4,625.2 341.5,626.2 341.7,630 341.9,633.7 342.2,636.4 342.4,638 342.7,639 342.9,639.5 343.2,639.7 343.4,639.8 343.5,639.8 343.7,640 343.9,640.2 344.2,640.3 344.4,640.5 344.7,640.6 344.9,640.7 345.2,640.8 345.4,641 345.5,641 345.7,641 345.9,641 346.2,641.1 346.4,641.1 346.7,641.1 346.9,641.1 347.2,641.2 347.4,641.2 347.5,641.2 347.7,641.2 347.9,641.3 348.2,641.4 348.4,641.5 348.7,641.5 348.9,641.6 349.5,641.8 351.5,641.2 353.5,640.7 355.5,640.6 357.5,639.8 359.5,640.7 361.5,640.9 363.5,641.2 365.5,641.1 367.5,641.1 369.5,641 371.5,641.1 373.5,641.3 375.5,640.5 377.5,640.6 379.5,640.3 381.5,641.1 381.8,641 382,641 382.2,640.9 382.5,640.9 382.8,640.8 383,640.8 383.2,640.7 383.5,640.6 383.8,640.6 384,640.5 384.2,640.4 384.5,640.2 384.8,640.1 385,640 385.2,639.8 385.5,639.6 385.8,639.3 386,639 386.2,638.6 386.5,638.2 386.8,637.6 387,636.8 387.2,635.4 387.5,632.8 387.8,628 388,619.2 388.2,604.3 388.5,582.1 388.8,552.9 389,520 389.2,489.6 389.5,469.4 389.8,464.4 390,473.3 390.2,491.7 390.5,516.5 390.8,544.2 391,570.8 391.2,593.3 391.5,610.4 391.8,622.1 392,629.4 392.2,633.7 392.5,636 392.8,637.2 393,637.9 393.2,638.4 393.5,638.8 393.8,639.1 394,639.3 394.2,639.4 394.5,639.6 394.8,639.7 395,639.8 395.2,639.9 395.5,640 395.8,640.1 396,640.2 396.2,640.3 396.5,640.4 396.8,640.4 397,640.5 397.2,640.6 397.5,640.6 397.8,640.6 398,640.6 398.2,640.6 399.5,640.5 401.5,641 403.5,640.9 405.5,640.8 407.5,640.8 409.5,640.7 411.5,641.2 413.5,640.8 415,640.9 415.2,640.9 415.5,641 415.8,640.9 416,640.9 416.2,640.9 416.5,640.8 416.8,640.8 417,640.8 417.2,640.7 417.5,640.7 417.8,640.6 418,640.6 418.2,640.5 418.5,640.4 418.8,640.4 419,640.3 419.2,640.2 419.5,640.1 419.8,640.2 420,640.2 420.2,640.2 420.5,640.2 420.8,640.1 421,639.7 421.2,639 421.5,637.6 421.8,635 422,631.1 422.2,626.1 422.5,620.6 422.8,615.5 423,612.2 423.2,611.3 423.5,612.7 423.8,615.6 424,619.3 424.2,623.6 424.5,627.9 424.8,631.9 425,635 425.2,637.3 425.5,638.9 425.8,639.7 426,640.2 426.2,640.5 426.5,640.6 426.8,640.7 427,640.7 427.2,640.8 427.5,640.8 427.8,640.8 428,640.7 428.2,640.6 428.5,640.6 428.8,640.5 429,640.4 429.2,640.4 429.5,640.3 429.8,640.3 430,640.4 430.2,640.4 430.5,640.5 430.8,640.5 431,640.5 431.2,640.6 431.5,640.6 431.8,640.6 433.5,640.8 435.5,640.7 437.5,640.6 439.5,641.2 441.5,640.9 443.5,641.1 445.5,640.8 447.5,641.1 449.5,640.7 451.5,641 453.5,641.2 455.5,641 457.5,640.8 459.5,640.6 461.5,641 463.5,641.1 465.5,640.9 467.5,640.7 469.5,641.2 471.5,641.8 473.5,640.9 475.5,641.1 477.5,641.1 479.5,640.1 481.5,641 483.5,640.7 485.5,641.4 487.5,640.9 489.5,640.7 491.5,640.8 493.5,640.9 494.2,640.8 494.4,640.8 494.7,640.7 494.9,640.7 495.2,640.7 495.4,640.6 495.5,640.6 495.7,640.6 495.9,640.6 496.2,640.6 496.4,640.6 496.7,640.6 496.9,640.6 497.2,640.6 497.4,640.6 497.5,640.6 497.7,640.5 497.9,640.4 498.2,640.3 498.4,640.2 498.7,640.1 498.9,639.9 499.2,639.7 499.4,639.5 499.5,639.5 499.7,639.3 499.9,638.9 500.2,638.1 500.4,636.6 500.7,633.7 500.9,628.9 501.2,621.8 501.4,612.6 501.5,610.6 501.7,602.5 501.9,593.7 502.2,588.5 502.4,588.1 502.7,591.3 502.9,596 503.2,601 503.4,606.3 503.5,607.5 503.7,612.3 503.9,618.8 504.2,625.1 504.4,630.4 504.7,634.4 504.9,637.2 505.2,638.9 505.4,639.8 505.5,640 505.7,640.3 505.9,640.5 506.2,640.6 506.4,640.7 506.7,640.7 506.9,640.8 507.2,640.8 507.4,640.8 507.5,640.8 507.7,640.8 507.9,640.8 508.2,640.8 508.4,640.8 508.7,640.8 508.9,640.9 509.2,640.9 509.4,640.9 509.5,640.9 509.7,640.9 509.9,640.9 510.2,641 510.4,641 510.7,641.1 510.9,641.1 511.5,641.2 513.5,641.2 515.5,641.4 517.5,641.3 519.5,640.9 521.5,641 523.5,641 525.5,641 527.5,641 529.5,640.7 531.5,640.2 533.5,640.7 535.5,640.2 537.5,640.9 539.5,640.8 540,640.6 540.2,640.5 540.5,640.4 540.8,640.4 541,640.3 541.2,640.2 541.5,640.1 541.8,640.2 542,640.2 542.2,640.3 542.5,640.3 542.8,640.4 543,640.4 543.2,640.5 543.5,640.5 543.8,640.4 544,640.3 544.2,640.2 544.5,640.1 544.8,640 545,639.8 545.2,639.5 545.5,639.1 545.8,638.3 546,636.9 546.2,634.2 546.5,629.2 546.8,620.9 547,608.7 547.2,593.2 547.5,576.3 547.8,562 548,554.2 548.2,554.6 548.5,561 548.8,569.2 549,576.6 549.2,583.1 549.5,590.3 549.8,599 550,608.7 550.2,618.1 550.5,626 550.8,631.8 551,635.6 551.2,637.8 551.5,639 551.8,639.5 552,639.8 552.2,639.9 552.5,640 552.8,640 553,640 553.2,639.9 553.5,639.9 553.8,640 554,640.2 554.2,640.3 554.5,640.5 554.8,640.6 555,640.7 555.2,640.8 555.5,640.9 555.8,640.9 556,640.9 556.2,640.9 556.5,640.9 556.8,640.9 557.5,640.9 559.5,641 561.5,641.2 563.5,640.6 565.5,640.7 566.3,640.6 566.5,640.6 566.8,640.6 567,640.6 567.3,640.6 567.5,640.6 567.5,640.6 567.8,640.6 568,640.5 568.3,640.5 568.5,640.5 568.8,640.5 569,640.5 569.3,640.5 569.5,640.5 569.5,640.5 569.8,640.5 570,640.5 570.3,640.5 570.5,640.5 570.8,640.4 571,640.4 571.3,640.4 571.5,640.3 571.5,640.3 571.8,640.1 572,639.7 572.3,639.2 572.5,638.1 572.8,636.2 573,633.1 573.3,628.5 573.5,623.9 573.5,622.7 573.8,616.5 574,611.3 574.3,608.6 574.5,609 574.8,611.6 575,614.8 575.3,617.5 575.5,619.1 575.5,619.5 575.8,621.5 576,624.2 576.3,627.5 576.5,631.1 576.8,634.2 577,636.7 577.3,638.4 577.5,639.4 577.5,639.5 577.8,640 578,640.3 578.3,640.5 578.5,640.5 578.8,640.6 579,640.6 579.3,640.6 579.5,640.6 579.5,640.7 579.8,640.7 580,640.8 580.3,640.8 580.5,640.8 580.8,640.9 581,640.9 581.3,640.9 581.5,641 581.5,640.9 581.8,640.9 582,640.8 582.3,640.7 582.5,640.6 582.8,640.5 583,640.4 583.5,640.3 585.5,640.7 587.5,640.8 589.5,641 591.5,640.8 593.5,641.3 595.5,641 597.5,641 599.5,641 601.5,641.2 603.5,640.8 605.5,641.3 607.5,641.1 609.5,641 611.5,641 613.5,641.2 615.5,641.3 617.5,641.3 619.5,641.1 621.5,641.3 623.5,641 625.5,641.4 627.5,641 629.5,640.3 631.5,641.4 632.6,641.2 632.9,641.1 633.1,641.1 633.4,641 633.5,641 633.6,641 633.9,640.9 634.1,640.9 634.4,640.8 634.6,640.7 634.9,640.7 635.1,640.6 635.4,640.6 635.5,640.5 635.6,640.6 635.9,640.6 636.1,640.6 636.4,640.6 636.6,640.7 636.9,640.7 637.1,640.7 637.4,640.7 637.5,640.8 637.6,640.7 637.9,640.7 638.1,640.6 638.4,640.5 638.6,640.3 638.9,640 639.1,639.4 639.4,638.4 639.5,637.6 639.6,637 639.9,635.4 640.1,633.6 640.4,632.1 640.6,631.5 640.9,632 641.1,633.1 641.4,634.4 641.5,635.1 641.6,635.4 641.8,635.6 641.9,635.8 642,635.8 642.1,635.9 642.2,635.9 642.4,636 642.5,636.2 642.6,636.5 642.8,636.9 642.9,637.3 643,637.8 643.1,638.2 643.2,638.7 643.4,639.1 643.5,639.5 643.6,639.7 643.8,640 643.9,640.2 644,640.3 644.1,640.4 644.2,640.4 644.4,640.5 644.5,640.5 644.6,640.5 644.8,640.5 644.9,640.4 645,640.4 645.1,640.4 645.2,640.3 645.4,640.3 645.5,640.2 645.6,640.3 645.8,640.3 645.9,640.4 646,640.4 646.1,640.4 646.2,640.5 646.4,640.5 646.5,640.5 646.6,640.6 646.8,640.6 646.9,640.6 647,640.6 647.1,640.6 647.2,640.6 647.4,640.6 647.5,640.5 647.6,640.3 647.8,640.1 647.9,639.8 648,639.3 648.1,638.9 648.2,638 648.4,637.4 648.5,636.2 648.6,635.3 648.8,633.9 648.9,632.9 649,631.4 649.1,630.5 649.2,629.4 649.4,628.9 649.5,628.5 649.8,629 650,630.5 650.2,632.1 650.5,633.4 650.8,634.1 651,634.3 651.2,634.6 651.5,635.3 651.8,636.2 652,637.3 652.2,638.4 652.5,639.3 652.8,639.9 653,640.2 653.2,640.3 653.5,640.3 653.8,640.4 654,640.4 654.2,640.3 654.5,640.3 654.8,640.3 655,640.2 655.2,640.2 655.5,640.2 655.8,640.3 656,640.4 656.2,640.5 656.5,640.6 656.8,640.7 657,640.8 657.2,640.9 657.5,641 657.8,640.9 658,640.9 658.2,640.9 659.5,640.8 661.5,640.8 663.5,640.3 665.5,641.1 667.5,641.5 669.5,640.4 671.5,641.4 672,641.2" fill="none" stroke="#ff00ff" stroke-width="5.2" stroke-linejoin="round"/>
<path clip-path="url(#cr)" d="M708.8,640.9L710.3,641.2 711.8,641.2 713.3,641.1 714.8,640.8 716.3,641.1 717.8,641 719.3,640.7 720.8,640.5 722.3,641.3 723.8,641.2 725.3,640.9 726.8,640.8 728.3,641 729.8,640.8 731.3,640.5 732.8,640.6 734.3,640.8 735.8,640.8 737.3,640.8 738.8,641 740.3,641.2 741.8,641 743.3,640.9 744.8,641.1 746.3,641.1 747.8,640.9 749.3,640.7 750.8,641 752.3,640.7 753.8,640.9 755.3,641.2 756.8,641 758.3,640.9 759.8,640.7 761.3,640.6 762.8,640.9 764.3,640.7 765.8,640.9 767.3,641 768.8,640.8 770.3,640.7 771.8,640.9 773.3,641.1 774.8,641 776.3,640.7 777.8,640.9 779.3,641 780.8,640.7 782.3,640.7 783.8,640.7 785.3,640.7 786.8,640.5 788.3,640.6 789.8,640.6 791.3,640.8 792.8,641.1 794.3,641.1 795.8,640.8 797.3,640.7 798.8,641.1 800.3,640.7 801.8,640.7 803.3,640.7 804.8,640.8 806.3,640.7 807.8,640.9 809.3,641 810.8,640.5 812.3,640.2 813.8,640.4 815.3,640.6 816.8,640.2 818.3,640.2 819.8,639.8 821.3,639.7 822.8,640.5 824.3,640.4 825.8,640.3 827.3,640.3 828.8,640.2 830.3,640.3 831.8,640 833.3,639.8 834.8,639.9 836.3,639.4 837.8,639.3 839.3,639.3 840.8,639.4 842.3,639.1 843.8,638.7 845.3,638.4 846.8,638.5 848.3,638.1 849.8,637.6 850.8,637.3 851.3,637.2 851.8,637.2 852.3,637.1 852.8,637 853.3,636.7 853.8,636.5 854.3,636.2 854.8,635.8 855.3,635.5 855.8,635 856.3,634.6 856.8,634.1 857.3,633.6 857.8,633.1 858.3,632.6 858.8,631.9 859.3,631.4 859.8,630.8 860.3,630 860.8,629.2 861.3,627.8 861.8,626.2 862.3,624.6 862.8,622.7 863.3,621.1 863.8,619.3 864.3,617.4 864.8,615.3 865.3,612.9 865.8,610.4 866.3,607.6 866.8,604.8 867.3,601.7 867.8,598.5 868.3,595.2 868.8,591.9 869.3,588.3 869.8,584.6 870.3,581 870.8,577.3 871.3,574 871.8,570.8 872.3,567.7 872.8,564.9 873.3,562.4 873.8,560.2 874.3,558.4 874.8,557.1 875.3,556.3 875.8,556 876.3,556.3 876.8,557.1 877.3,558.2 877.8,559.7 878.3,561.7 878.8,564 879.3,566.7 879.8,569.6 880.3,572.7 880.8,575.8 881.3,579.3 881.8,582.7 882.3,586.1 882.8,589.4 883.3,592.5 883.8,595.5 884.3,598.3 884.8,600.9 885.3,603.2 885.8,605.4 886.3,607.3 886.8,609 887.3,610.4 887.8,611.6 888.3,612.6 888.8,613.3 889.3,613.9 889.8,614.3 890.3,614.5 890.8,614.4 891.3,614.1 891.8,613.5 892.3,612.8 892.8,612 893.3,611 893.8,610 894.3,608.8 894.8,607.6 895.3,606.1 895.8,604.6 896.3,603.1 896.8,601.6 897.3,600.4 897.8,599.4 898.3,598.4 898.8,597.6 899.3,596.9 899.8,596.4 900.3,596.1 900.8,596.1 901.3,596.3 901.8,596.7 902.3,597.4 902.8,598.3 903.3,599.6 903.8,601 904.3,602.6 904.8,604.3 905.3,606 905.8,607.8 906.3,609.5 906.8,611.3 907.3,613.1 907.8,614.9 908.3,616.6 908.8,618.2 909.3,619.9 909.8,621.5 910.3,623.1 910.8,624.5 911.3,625.7 911.8,626.8 912.3,627.9 912.8,628.8 913.3,629.9 913.8,630.9 914.3,631.8 914.8,632.6 915.3,633.3 915.8,634 916.3,634.6 916.8,635.1 917.3,635.5 917.8,635.9 918.3,636.2 918.8,636.6 919.3,636.9 919.8,637.2 920.3,637.5 921.8,637.8 923.3,637.8 924.8,638.1 926.3,638.7 927.8,639.1 929.3,639.4 930.8,639.9 932.3,639.7 933.8,639.5 935.3,639.5 936.8,640 938.3,639.7 939.8,639.6 941.3,639.9 942.8,640.8 944.3,640.4 945.8,640.3 947.3,640.4 948.8,640.4 950.3,640.7 951.8,640.6 953.3,640.5 954.8,640.7 956.3,640.3 957.8,640.1 959.3,640.3 960.8,640.9 962.3,640.9 963.8,640.8 965.3,640.7 966.8,640.7 968.3,640.7 969.8,640.6 971.3,640.6 972.8,641.1 974.3,640.9 975.8,640.9 977.3,640.8 978.8,640.8 980.3,641 981.8,641 983.3,640.9 984.8,641 986.3,640.6 987.8,640.7 989.3,641.1 990.8,641.4 992.3,640.9 993.8,640.7 995.3,640.9 996.8,641.1 998.3,641.1 999.8,641.1 1001.3,640.9 1002.8,640.4 1004.3,640.9 1005.8,640.8 1007.3,640.6 1008.8,640.7 1010.3,641 1011.8,640.9 1013.3,640.9 1014.8,641.1 1016.3,641.6 1017.8,641.5 1019.3,641.1 1020.8,641.1 1022.3,640.8 1023.8,640.7 1025.3,640.7 1026.8,640.6 1028.3,640.8 1029.8,640.7 1031.3,640.7 1032.8,640.8 1034.3,640.9 1035.8,640.8 1037.3,640.7 1038.8,640.6 1040.3,640.6 1041.8,640.8 1043.3,641.1 1044.8,641 1046.3,641.2 1047.8,641.3 1049.3,641.2 1050.8,640.9 1052.3,641.1 1053.8,640.9 1055.3,640.8 1056.8,641.6 1058.3,641.4 1059.8,641.1 1061.3,640.9 1062.8,640.7 1064.3,641 1065.8,640.8 1067.3,640.6 1068.8,640.8 1070.3,641.1 1071.8,641.1 1073.3,641 1074.8,640.9 1076.3,641.2 1077.8,641 1079.3,640.8 1080.8,641.1 1082.3,640.9 1083.8,640.8 1085.3,640.9 1086.8,641.2 1088.3,640.8 1089.8,641.2 1091.3,641.4 1092.8,640.9 1094.3,641.4 1095.8,641.2 1097.3,640.8 1098.8,641.2 1100.3,640.8 1101.8,640.7 1103.3,640.8 1104.8,641.1 1106.3,641.2 1107.8,641 1109.3,640.9 1110.8,641.4 1112.3,641 1113.8,640.9 1115.3,641.1 1116.8,641.1 1118.3,641.2 1119.8,640.9 1121.3,640.8 1122.8,641.5 1124.3,641.3 1125.8,641.1 1127.3,640.9 1128.8,640.8 1130.3,640.6 1131.8,640.6 1133.3,640.8 1134.8,641.2 1136.3,641 1137.8,640.8 1139.3,640.8 1140.8,640.9 1142.3,641.3 1143.8,641.2 1145.3,640.9 1146.8,640.9 1148.3,641.3 1149.8,641.3 1151.3,641.2 1152.8,641.1 1154.3,640.9 1155.8,640.8 1157.3,640.6 1158.8,640.7 1160.3,640.9 1161.8,641 1163.3,641 1164.8,641.2 1166.3,641.2 1167.8,641.2 1169.3,641.1 1170.8,641.1 1172.3,640.9 1173.8,640.6 1175.3,640.6 1176.8,640.9 1178.3,640.8 1179.8,640.8 1181.3,640.9 1182.8,641 1184.3,640.8 1185.8,640.7 1187.3,640.8 1188.8,641 1190.3,641.1 1191.8,641 1193.3,641 1194.8,641.2 1196.3,641.1 1197.8,640.9 1199.3,640.9 1200.8,641.1 1202.3,641.5 1203.8,641.2 1205.3,641 1206.8,641.4 1208.3,641.4 1209.8,641.5 1211.3,641.3 1212.8,640.8 1214.3,641.4 1215.8,641.4 1217.3,641.1 1218.8,641 1220.3,641 1221.8,641.1 1223.3,641.2 1224.8,641.1 1226.3,641 1227.8,641.2 1229.3,641.3 1230.8,640.9 1232.3,640.8 1233.8,641 1235.3,641.3 1236.8,641.3 1238.3,641.4 1239.8,641.1 1241.3,640.9 1242.8,641.4 1244.3,641.3 1245.8,641.4 1247.3,641.4 1248.8,640.7 1250.3,641 1251.8,641.1 1253.3,640.9 1254.8,640.6 1256.3,640.8 1257.8,641.1 1259.3,641.3 1260.8,640.9" fill="none" stroke="#ff00ff" stroke-width="5.2" stroke-linejoin="round"/>
<path clip-path="url(#cl)" d="M119.5,729.1L121.5,728.7 123.5,729 125.5,729.5 127.5,729 129.5,729.1 131.5,729.7 133.5,730 135.5,729.2 137.5,728.8 139.5,729.2 141.5,729.4 143.5,729.7 145.5,730 147.5,729.8 149.5,729.7 151.5,730 153.5,729.6 155.5,730 157.5,729.8 159.5,730.9 161.5,730.3 163.5,729.8 165.5,729.7 167.5,729.9 169.5,729.5 171.5,729.8 173.5,729.8 175.5,730.2 177.5,729.7 179.5,729.5 181.5,729 181.8,729 182,728.9 182.2,728.9 182.5,728.8 182.8,728.7 183,728.7 183.2,728.6 183.5,728.5 183.8,728.4 184,728.3 184.2,728.2 184.5,728 184.8,727.9 185,727.7 185.2,727.4 185.5,727.2 185.8,726.8 186,726.3 186.2,725.7 186.5,724.9 186.8,723.9 187,722.4 187.2,719.8 187.5,714.8 187.8,705.1 188,687 188.2,655.9 188.5,608.5 188.8,545.3 189,473.5 189.2,408.2 189.5,368.9 189.8,369.6 190,409.7 190.2,474.7 190.5,545.7 190.8,608.3 191,655.3 191.2,686.3 191.5,704.5 191.8,714.5 192,719.7 192.2,722.4 192.5,724.1 192.8,725.1 193,726 193.2,726.6 193.5,727.2 193.8,727.5 194,727.8 194.2,728.1 194.5,728.3 194.8,728.5 195,728.6 195.2,728.7 195.5,728.8 195.8,729 196,729.1 196.2,729.1 196.5,729.2 196.8,729.3 197,729.3 197.2,729.4 197.5,729.5 197.8,729.4 198,729.4 198.2,729.4 199.5,729.1 201.5,729.5 203.5,730.3 205.5,730.6 207.5,730.2 209.5,730.5 211.5,730.1 213.5,730.1 215.5,730.1 217.5,730.6 219.5,730.4 221.5,730.2 223.5,730.2 225.5,730.5 227.5,730.4 229.5,730.1 231.5,730.9 233.5,730.4 235.5,730.4 237.5,730.8 239.5,730.7 241.5,730.3 243.5,730.5 245.5,730 247.5,730.2 249.5,729.6 251.5,730.8 253.5,729.8 255.5,730.6 257.5,730.1 259.5,730.1 261.5,730.3 263.5,730.5 265.5,730.6 267.5,730.9 269.5,730.5 271.5,730.7 273.5,730.2 275.5,730.6 277.5,730.4 279.5,730.2 281.5,730.3 283.5,730.4 285.5,730.4 287.5,730.5 289.5,730.2 291.5,730.1 293.5,730.6 295.5,729.8 297.5,730.2 299.5,730.9 301.5,729.5 303.5,730.1 305.5,730.6 307.5,729.8 309.5,731.2 311.5,729.5 313.5,730.8 315.5,730.8 317.5,730.5 319.5,730.1 321.5,730.2 321.8,730.1 322.1,730.1 322.3,730 322.6,729.9 322.8,729.8 323.1,729.8 323.3,729.7 323.5,729.6 323.6,729.6 323.8,729.7 324.1,729.7 324.3,729.7 324.6,729.7 324.8,729.7 325.1,729.7 325.3,729.7 325.5,729.7 325.6,729.6 325.8,729.4 326.1,729.2 326.3,729 326.6,728.7 326.8,728.4 327.1,727.9 327.3,727.3 327.5,726.6 327.6,726.4 327.8,724.7 328.1,721.4 328.3,715.4 328.6,705.1 328.8,689.7 329.1,669.1 329.3,645.7 329.5,627.7 329.6,623.8 329.8,609.1 330.1,605.6 330.3,613.2 330.6,629 330.8,649.7 331.1,671.2 331.3,690.1 331.5,702.1 331.6,704.7 331.8,714.7 332.1,720.9 332.3,724.5 332.6,726.4 332.8,727.3 333.1,727.9 333.3,728.2 333.5,728.3 333.6,728.4 333.8,728.6 334.1,728.8 334.3,729 334.6,729.1 334.8,729.2 335.1,729.4 335.3,729.5 335.5,729.5 335.6,729.5 335.6,729.6 335.8,729.6 335.9,729.6 336.1,729.7 336.1,729.7 336.3,729.7 336.4,729.8 336.6,729.8 336.6,729.8 336.8,729.9 336.9,729.9 337.1,729.9 337.1,729.9 337.3,729.9 337.4,729.9 337.5,730 337.6,730 337.6,730 337.8,729.9 337.9,729.9 338.1,729.9 338.1,729.9 338.3,729.8 338.4,729.8 338.6,729.8 338.6,729.7 338.9,729.7 339.1,729.6 339.4,729.6 339.5,729.5 339.6,729.5 339.9,729.6 340.1,729.7 340.4,729.8 340.6,729.8 340.9,729.9 341.1,729.9 341.4,729.8 341.5,729.7 341.6,729.5 341.9,728.7 342.1,727.4 342.4,725.3 342.6,722 342.9,717.7 343.1,712.7 343.4,708.1 343.5,706 343.6,705 343.9,704.2 344.1,705.6 344.4,708.7 344.6,712.8 344.9,717.2 345.1,721 345.4,724.1 345.5,725.5 345.6,726.3 345.9,727.7 346.1,728.6 346.4,729.1 346.6,729.5 346.9,729.7 347.1,729.8 347.4,729.9 347.5,730 347.6,730 347.9,730 348.1,730 348.4,730 348.6,730 348.9,730 349.1,730 349.4,730 349.5,729.9 349.6,730 349.9,730 350.1,730 350.4,730 350.6,730 350.9,730 351.1,730 351.4,730 351.5,730.1 351.6,730.1 351.9,730.1 352.1,730.1 352.4,730.2 353.5,730.3 355.5,730.1 357.5,730.6 359.5,730.1 361.5,730.6 363.5,730.3 365.5,730.6 367.5,730.2 369.5,730.2 371.5,730 373.5,730.5 375.5,730.6 377.5,730.9 379.5,730.6 381.5,730.2 383.5,730 383.8,730 384.1,730 384.3,730 384.6,730 384.8,730 385.1,730 385.3,730 385.5,730 385.6,729.9 385.8,729.9 386.1,729.8 386.3,729.7 386.6,729.7 386.8,729.6 387.1,729.5 387.3,729.3 387.5,729.2 387.6,729.2 387.8,729.2 388.1,729.1 388.3,728.9 388.6,728.7 388.8,728.5 389.1,728.2 389.3,727.6 389.5,726.9 389.6,726.6 389.8,724.6 390.1,720.7 390.3,713.6 390.6,701.7 390.8,683.9 391.1,660.5 391.3,634.2 391.5,614.2 391.6,609.8 391.8,593.7 392.1,589.6 392.3,596.6 392.6,611.2 392.8,630.7 393.1,652.6 393.3,673.8 393.5,688.5 393.6,691.8 393.8,705.5 394.1,714.9 394.3,720.8 394.6,724.3 394.8,726.1 395.1,727.1 395.3,727.7 395.5,728 395.6,728.1 395.8,728.5 396.1,728.8 396.3,729.1 396.6,729.3 396.8,729.5 397.1,729.7 397.3,729.9 397.5,730 397.6,730 397.8,730 398.1,730 398.3,730.1 398.6,730.1 398.8,730.1 399.1,730.1 399.3,730 399.5,730 399.6,730 399.8,730 400.1,730.1 400.3,730.1 400.6,730.1 401.5,730 403.5,730.6 405.5,730.1 407.5,730.2 409.5,730.1 411.5,729.7 413.5,730.6 415.5,729.9 417.5,730.1 417.7,730.1 417.9,730.1 418.2,730.1 418.4,730.1 418.7,730.1 418.9,730.1 419.2,730 419.4,730 419.5,730 419.7,730.1 419.9,730.1 420.2,730.2 420.4,730.2 420.7,730.3 420.9,730.3 421.2,730.3 421.4,730.4 421.5,730.4 421.7,730.3 421.9,730.3 422.2,730.2 422.4,730.1 422.7,730.1 422.9,730 423.2,729.8 423.4,729.6 423.5,729.5 423.7,729.2 423.9,728.6 424.2,727.3 424.4,725.2 424.7,722.1 424.9,718 425.2,713.4 425.4,709.3 425.5,708.6 425.7,706.6 425.9,705.9 426.2,707 426.4,709.3 426.7,712.2 426.9,715.6 427.2,719.1 427.4,722.2 427.5,722.7 427.7,724.8 427.9,726.7 428.2,728 428.4,728.9 428.7,729.3 428.9,729.6 429.2,729.8 429.4,730 429.5,730 429.7,730 429.9,730 430.2,729.9 430.4,729.9 430.7,729.9 430.9,729.8 431.2,729.8 431.4,729.8 431.5,729.8 431.7,729.8 431.9,729.9 432.2,730 432.4,730.1 432.7,730.2 432.9,730.2 433.2,730.3 433.4,730.4 433.5,730.4 433.7,730.4 433.9,730.4 434.2,730.4 434.4,730.4 435.5,730.4 437.5,730.3 439.5,731 441.5,730.5 443.5,730.6 445.5,730.4 447.5,730.3 449.5,730.7 451.5,730.7 453.5,730 455.5,730.7 457.5,730.5 459.5,730.7 461.5,730.5 463.5,730 465.5,730 467.5,731 469.5,730.5 471.5,729.9 473.5,730.5 475.5,730.3 477.5,729.8 479.5,729.6 481.5,729.9 483.5,730.5 485.5,730.4 487.5,730.3 489.5,730.5 491.5,730.5 493.5,729.7 495.5,730.2 497.5,730 498.1,730 498.4,729.9 498.6,729.9 498.9,729.9 499.1,729.9 499.4,729.8 499.5,729.8 499.6,729.8 499.9,729.8 500.1,729.9 500.4,729.9 500.6,729.9 500.9,729.9 501.1,729.9 501.4,729.9 501.5,729.9 501.6,729.9 501.9,729.8 502.1,729.8 502.4,729.8 502.6,729.7 502.9,729.7 503.1,729.6 503.4,729.5 503.5,729.4 503.6,729.3 503.9,728.9 504.1,728.2 504.4,726.9 504.6,724.5 504.9,720.5 505.1,714.6 505.4,706.9 505.5,701.9 505.6,698.6 505.9,691.3 506.1,686.9 506.4,686.6 506.6,689.1 506.9,692.9 507.1,696.9 507.4,701.1 507.5,703.9 507.6,705.9 507.9,711.2 508.1,716.4 508.4,720.8 508.6,724.2 508.9,726.5 509.1,727.9 509.4,728.7 509.5,729 509.6,729.2 509.9,729.5 510.1,729.8 510.4,730 510.6,730.1 510.9,730.3 511.1,730.5 511.4,730.6 511.5,730.7 511.6,730.6 511.9,730.6 512.1,730.5 512.4,730.4 512.6,730.3 512.9,730.2 513.1,730 513.4,729.9 513.5,729.9 513.6,729.9 513.9,729.9 514.1,729.8 514.4,729.8 514.6,729.8 514.9,729.8 515.5,729.7 517.5,730.4 519.5,730.5 521.5,730.5 523.5,730 525.5,730.7 527.5,730.1 529.5,730 531.5,730.2 533.5,730.3 535.5,730.6 537.5,730.5 539.5,730.3 541.5,730.6 543.5,730.2 544,730.3 544.2,730.3 544.5,730.3 544.8,730.3 545,730.3 545.2,730.4 545.5,730.4 545.8,730.3 546,730.1 546.2,730 546.5,729.9 546.8,729.8 547,729.6 547.2,729.5 547.5,729.3 547.8,729.3 548,729.2 548.2,729.1 548.5,729 548.8,728.8 549,728.7 549.2,728.4 549.5,728.1 549.8,727.6 550,726.5 550.2,724.4 550.5,720.4 550.8,713.7 551,703.8 551.2,691.1 551.5,677.3 551.8,665.4 552,658.9 552.2,659.2 552.5,664.4 552.8,671.1 553,677 553.2,682.1 553.5,687.6 553.8,694.6 554,702.6 554.2,710.4 554.5,717 554.8,721.9 555,725.1 555.2,727 555.5,728.1 555.8,728.7 556,729 556.2,729.2 556.5,729.4 556.8,729.5 557,729.6 557.2,729.7 557.5,729.8 557.8,729.8 558,729.8 558.2,729.9 558.5,729.9 558.8,729.9 559,729.9 559.2,729.9 559.5,729.9 559.8,729.9 560,730 560.2,730 560.5,730 560.8,730 561.5,730.1 563.5,730.7 565.5,729.5 567.5,730.6 569.5,731 570.7,730.6 571,730.5 571.2,730.4 571.5,730.3 571.5,730.3 571.7,730.3 572,730.2 572.2,730.2 572.5,730.2 572.7,730.2 573,730.2 573.2,730.2 573.5,730.2 573.5,730.2 573.7,730.2 574,730.2 574.2,730.2 574.5,730.2 574.7,730.2 575,730.2 575.2,730.2 575.5,730.2 575.5,730.1 575.7,730.1 576,730.1 576.2,730 576.5,729.8 576.7,729.3 577,728.4 577.2,726.8 577.5,724 577.5,723.2 577.7,719.7 578,714.2 578.2,708.3 578.5,703.3 578.7,700.7 579,701 579.2,703.4 579.5,706.2 579.5,706.8 579.7,708.7 580,710.5 580.2,712.3 580.5,714.7 580.7,717.7 581,721 581.2,723.9 581.5,726.3 581.5,726.6 581.7,727.8 582,728.8 582.2,729.4 582.5,729.6 582.7,729.8 583,729.9 583.2,729.9 583.5,730 583.5,730 583.7,730 584,730.1 584.2,730.2 584.5,730.2 584.7,730.3 585,730.3 585.2,730.4 585.5,730.4 585.5,730.4 585.7,730.4 586,730.4 586.2,730.4 586.5,730.4 586.7,730.4 587,730.4 587.2,730.4 587.5,730.3 587.5,730.3 589.5,730.5 591.5,730.2 593.5,730.4 595.5,730.2 597.5,730.2 599.5,730.3 601.5,730.3 603.5,730 605.5,730.9 607.5,730.3 609.5,729.9 611.5,730.7 613.5,730.1 615.5,730.5 617.5,730.4 619.5,730.5 621.5,730.4 623.5,730.2 625.5,730.4 627.5,731 629.5,729.7 631.5,730.4 633.5,730.5 635.5,730 637.5,729.9 638.3,730.4 638.5,730.5 638.8,730.7 639,730.8 639.3,730.9 639.5,731 639.5,731 639.8,730.9 640,730.8 640.3,730.7 640.5,730.6 640.8,730.5 641,730.4 641.3,730.3 641.5,730.2 641.5,730.2 641.8,730.3 642,730.4 642.3,730.5 642.5,730.6 642.8,730.7 643,730.7 643.3,730.8 643.5,730.9 643.5,730.9 643.8,730.8 644,730.6 644.3,730.4 644.5,730.1 644.8,729.5 645,728.6 645.3,727.3 645.5,726 645.5,725.6 645.8,723.9 646,722.5 646.3,721.8 646.5,722.1 646.8,723 647,724.1 647.3,724.9 647.5,725.2 647.5,725.3 647.8,725.4 647.8,725.4 648,725.5 648,725.6 648.2,725.9 648.3,726 648.5,726.6 648.5,726.8 648.8,727.5 648.8,727.7 649,728.4 649,728.6 649.2,729.1 649.3,729.2 649.5,729.7 649.5,729.7 649.8,730 649.8,730 650,730.2 650,730.2 650.2,730.3 650.3,730.3 650.5,730.3 650.5,730.3 650.8,730.4 650.8,730.4 651,730.4 651,730.4 651.2,730.4 651.3,730.4 651.5,730.4 651.5,730.4 651.8,730.4 651.8,730.4 652,730.4 652,730.4 652.2,730.4 652.3,730.4 652.5,730.5 652.5,730.5 652.8,730.4 652.8,730.4 653,730.4 653,730.4 653.2,730.4 653.3,730.3 653.5,730.2 653.5,730.2 653.8,729.9 653.8,729.8 654,729.3 654,729.1 654.2,728.2 654.3,728 654.5,726.8 654.5,726.4 654.8,724.9 654.8,724.5 655,722.9 655,722.6 655.2,721.3 655.5,720.5 655.8,720.9 656,722 656.2,723.3 656.5,724.2 656.8,724.7 657,724.8 657.2,724.9 657.5,725.3 657.8,726.1 658,727.1 658.2,728.1 658.5,728.9 658.8,729.5 659,729.9 659.2,730.1 659.5,730.2 659.8,730.3 660,730.4 660.2,730.4 660.5,730.5 660.8,730.6 661,730.6 661.2,730.7 661.5,730.7 661.8,730.7 662,730.7 662.2,730.7 662.5,730.7 662.8,730.7 663,730.6 663.2,730.6 663.5,730.6 663.8,730.5 664,730.5 664.2,730.4 665.5,730 667.5,730.2 669.5,730.5 671.5,730.2 672,730.2" fill="none" stroke="#808000" stroke-width="5.2" stroke-linejoin="round"/>
<path clip-path="url(#cr)" d="M708.8,730.6L710.3,730.7 711.8,730.6 713.3,730.6 714.8,731 716.3,730.6 717.8,730.9 719.3,731.2 720.8,730.7 722.3,730.6 723.8,730.5 725.3,730.2 726.8,729.7 728.3,730.2 729.8,730.5 731.3,730.6 732.8,731 734.3,730.3 735.8,730.5 737.3,730.8 738.8,730.4 740.3,730.6 741.8,730.2 743.3,729.9 744.8,730.5 746.3,730.4 747.8,730.5 749.3,730.6 750.8,730.5 752.3,730.2 753.8,730.4 755.3,730.7 756.8,730.6 758.3,730.6 759.8,730.7 761.3,730.7 762.8,730.7 764.3,730.5 765.8,730.2 767.3,730.1 768.8,730 770.3,730.6 771.8,730.7 773.3,730.6 774.8,730.5 776.3,730.3 777.8,730.4 779.3,730.4 780.8,730.4 782.3,730.4 783.8,730.3 785.3,730.4 786.8,731 788.3,730.6 789.8,730.4 791.3,730.2 792.8,730 794.3,730.2 795.8,730.4 797.3,730.6 798.8,730.6 800.3,730.4 801.8,730.4 803.3,730.4 804.8,730.3 806.3,730.1 807.8,730.4 809.3,730.7 810.8,730.5 812.3,730.9 813.8,730.6 815.3,730.2 816.8,730.3 818.3,730.6 819.8,730.5 821.3,730.2 822.8,730 824.3,730.1 825.8,730.2 827.3,730.4 828.8,730.5 830.3,730.4 831.8,730.5 833.3,730.6 834.8,730.6 836.3,730.5 837.8,730.4 839.3,730.3 840.8,730.3 842.3,730.4 843.8,730.5 845.3,730.5 846.8,730.3 848.3,730.4 849.8,730.3 851.3,730.1 852.8,729.9 854.3,730 855.8,730.2 857.3,730.5 858.8,730.4 860.3,730.6 861.8,730.5 863.3,730.3 864.8,730.5 866.3,730.5 867.8,730.5 869.3,730.4 870.8,730 872.3,730.1 873.8,730.1 875.3,730.1 876.8,729.9 878.3,730.1 879.8,730.3 881.3,730.3 882.8,729.9 884.3,730.4 885.8,730.3 887.3,729.9 888.8,729.9 890.3,729.9 891.8,729.8 893.3,729.8 894.8,730 896.3,729.9 897.8,730.1 899.3,730.2 900.8,729.9 902.3,729.9 903.8,729.7 905.3,729.5 906.8,729.2 908.3,729.4 909.8,729.3 911.3,729.3 912.8,729.6 914.3,729.3 915.8,729.3 917.3,729.4 918.8,729.1 920.3,729 921.8,728.7 923.3,728.5 924.8,728.2 926.3,728.1 927.4,727.9 927.8,727.9 927.9,727.8 928.4,727.7 928.9,727.6 929.3,727.4 929.4,727.4 929.9,727.1 930.4,726.8 930.8,726.6 930.9,726.6 931.4,726.5 931.9,726.3 932.3,726.2 932.4,726.2 932.9,726 933.4,725.8 933.8,725.7 933.9,725.6 934.4,725.4 934.9,725 935.3,724.5 935.4,724.3 935.9,723.6 936.4,722.7 936.8,722 936.9,721.9 937.4,721.1 937.9,720.1 938.3,719.3 938.4,719.1 938.9,718 939.4,716.7 939.8,715.6 939.9,715.3 940.4,713.8 940.9,712.1 941.3,710.6 941.4,710.2 941.9,708.2 942.4,706.1 942.8,704.3 942.9,703.8 943.4,701.6 943.9,699.3 944.3,697.3 944.4,696.8 944.9,694.2 945.4,691.3 945.8,688.9 945.9,688.2 946.4,685.2 946.9,682.1 947.3,679.8 947.4,679.2 947.9,676.2 948.4,673.4 948.8,671.3 948.9,670.8 949.4,668.4 949.9,666.3 950.3,664.8 950.4,664.5 950.9,663 951.4,661.9 951.8,661.3 951.9,661.2 952.4,660.9 952.9,661.1 953.3,661.4 953.4,661.5 953.9,662.3 954.4,663.6 954.8,664.8 954.9,665.2 955.4,667.5 955.9,670 956.3,672.1 956.4,672.7 956.9,675.5 957.4,678.2 957.8,680.5 957.9,681 958.4,683.8 958.9,686.6 959.3,688.8 959.4,689.3 959.9,691.9 960.4,694.4 960.8,696.3 960.9,696.7 961.4,698.9 961.9,700.9 962.3,702.4 962.4,702.8 962.9,704.4 963.4,705.8 963.8,706.8 963.9,707 964.4,708 964.9,708.8 965.3,709.4 965.4,709.5 965.9,710 966.4,710.4 966.8,710.5 966.9,710.5 967.4,710.3 967.9,709.9 968.3,709.4 968.4,709.3 968.9,708.6 969.4,707.9 969.8,707.1 969.9,707 970.4,706 970.9,704.9 971.3,704 971.4,703.8 971.9,702.7 972.4,701.5 972.8,700.6 972.9,700.4 973.4,699.1 973.9,698 974.3,697.1 974.4,696.9 974.9,695.9 975.4,695.1 975.8,694.6 975.9,694.4 976.4,694 976.9,693.7 977.3,693.7 977.4,693.7 977.9,693.9 978.4,694.3 978.8,694.8 978.9,695 979.4,695.9 979.9,697 980.3,698 980.4,698.3 980.9,699.6 981.4,700.9 981.8,702 981.9,702.3 982.4,703.7 982.9,705.2 983.3,706.4 983.4,706.7 983.9,708.2 984.4,709.6 984.8,710.8 984.9,711 985.4,712.4 985.9,713.7 986.3,714.7 986.4,714.9 986.9,716.1 987.4,717.3 987.8,718.2 987.9,718.4 988.4,719.5 988.9,720.4 989.3,721 989.4,721.2 989.9,721.9 990.4,722.6 990.8,723.1 990.9,723.2 991.4,723.9 991.9,724.5 992.3,724.9 992.4,725 992.9,725.5 993.4,725.9 993.8,726.2 993.9,726.2 994.4,726.5 994.9,726.8 995.3,726.8 995.4,726.9 995.9,726.9 996.4,726.9 996.8,726.9 996.9,727 998.3,727.8 999.8,728.3 1001.3,728.6 1002.8,728.7 1004.3,728.6 1005.8,729 1007.3,729.3 1008.8,729 1010.3,729 1011.8,729 1013.3,729.2 1014.8,729.5 1016.3,729.8 1017.8,729.9 1019.3,729.9 1020.8,729.8 1022.3,729.5 1023.8,729.5 1025.3,729.6 1026.8,729.6 1028.3,729.8 1029.8,729.7 1031.3,729.6 1032.8,730 1034.3,730.1 1035.8,730.1 1037.3,730 1038.8,730.2 1040.3,729.9 1041.8,729.8 1043.3,729.8 1044.8,729.9 1046.3,730.3 1047.8,730.5 1049.3,730.4 1050.8,730.1 1052.3,730.4 1053.8,730.3 1055.3,730.2 1056.8,730.6 1058.3,730.4 1059.8,730.2 1061.3,730.2 1062.8,730.5 1064.3,730.2 1065.8,730 1067.3,730 1068.8,729.9 1070.3,730.2 1071.8,730.3 1073.3,730.3 1074.8,730.3 1076.3,730.2 1077.8,730.5 1079.3,730.6 1080.8,730.2 1082.3,730.1 1083.8,730.4 1085.3,730.7 1086.8,730.7 1088.3,730.5 1089.8,730.2 1091.3,729.9 1092.8,730.2 1094.3,730.4 1095.8,730.4 1097.3,730.5 1098.8,730.8 1100.3,730.2 1101.8,730.3 1103.3,730.5 1104.8,730.2 1106.3,730.6 1107.8,730.6 1109.3,730.4 1110.8,730.7 1112.3,730.3 1113.8,730.1 1115.3,730 1116.8,730.1 1118.3,730.2 1119.8,730.2 1121.3,730.3 1122.8,730.7 1124.3,730.8 1125.8,730.6 1127.3,730.4 1128.8,730.1 1130.3,730.3 1131.8,730.3 1133.3,730.4 1134.8,730.8 1136.3,730.6 1137.8,730.5 1139.3,730.5 1140.8,730.3 1142.3,730 1143.8,730 1145.3,730.2 1146.8,730.1 1148.3,730.4 1149.8,730.5 1151.3,730.4 1152.8,730.2 1154.3,730.3 1155.8,730.6 1157.3,730.7 1158.8,730.2 1160.3,730.2 1161.8,730.3 1163.3,730.3 1164.8,730.2 1166.3,730.3 1167.8,730.5 1169.3,730.7 1170.8,730.9 1172.3,730.2 1173.8,730.2 1175.3,730.4 1176.8,730.5 1178.3,730.4 1179.8,730.4 1181.3,730.4 1182.8,730.4 1184.3,730.6 1185.8,730.5 1187.3,730.3 1188.8,730.4 1190.3,730.4 1191.8,730.5 1193.3,730.5 1194.8,730.4 1196.3,730.7 1197.8,730.6 1199.3,730.5 1200.8,730.5 1202.3,730.5 1203.8,730.3 1205.3,730.2 1206.8,730.2 1208.3,730.2 1209.8,730.3 1211.3,730.5 1212.8,730.3 1214.3,730.2 1215.8,730.3 1217.3,730.5 1218.8,730.6 1220.3,730.1 1221.8,730.5 1223.3,730.8 1224.8,730.5 1226.3,730.4 1227.8,730.6 1229.3,730.7 1230.8,730.5 1232.3,730.3 1233.8,730.7 1235.3,730.9 1236.8,730.2 1238.3,730.4 1239.8,730.6 1241.3,730.6 1242.8,730.2 1244.3,730.4 1245.8,730.5 1247.3,730.7 1248.8,731.1 1250.3,730.5 1251.8,730.3 1253.3,730.5 1254.8,730.7 1256.3,730.5 1257.8,730.3 1259.3,730.2 1260.8,730.6" fill="none" stroke="#808000" stroke-width="5.2" stroke-linejoin="round"/>
<path clip-path="url(#cl)" d="M119.5,818.7L121.5,818.6 123.5,818.7 125.5,818.4 127.5,818.8 129.5,819 131.5,818.9 133.5,819.1 135.5,818.9 137.5,819.7 139.5,819.9 141.5,819.2 143.5,819.5 145.5,819.3 147.5,819.8 149.5,819.6 151.5,819.5 153.5,819.5 155.5,819.6 157.5,819.3 159.5,819.8 161.5,819.4 163.5,819.8 165.5,819.7 167.5,820 169.5,819.6 171.5,819.9 173.5,819.2 175.5,819.7 177.5,819.3 179.5,819.2 180.8,818.9 181.1,818.8 181.3,818.8 181.5,818.7 181.6,818.7 181.8,818.7 182.1,818.6 182.3,818.5 182.6,818.5 182.8,818.4 183.1,818.2 183.3,818.1 183.5,818 183.6,817.9 183.8,817.6 184.1,817.2 184.3,816.8 184.6,816.4 184.8,815.9 185.1,815.3 185.3,814.6 185.5,813.9 185.6,813.8 185.8,813 186.1,811.9 186.3,810.2 186.6,807.2 186.8,801.3 187.1,789.7 187.3,768 187.5,739.8 187.6,730.8 187.8,674 188.1,598.2 188.3,512.2 188.6,433.9 188.8,386.7 189.1,387.8 189.3,435.9 189.5,496.8 189.6,513.7 189.8,598.9 190.1,673.9 190.3,730.3 190.6,767.5 190.8,789.4 191.1,801.4 191.3,807.6 191.5,810.4 191.6,810.9 191.8,812.6 192.1,813.7 192.3,814.4 192.6,815 192.8,815.5 193.1,815.8 193.3,816.1 193.5,816.2 193.6,816.3 193.8,816.6 194.1,816.9 194.3,817.2 194.6,817.4 194.8,817.6 195.1,817.8 195.3,818 195.5,818.1 195.6,818.1 195.8,818.2 196.1,818.3 196.3,818.3 196.6,818.4 196.8,818.4 197.1,818.5 197.3,818.5 197.5,818.5 197.6,818.5 199.5,819.9 201.5,819.1 203.5,819.7 205.5,819.5 207.5,819.2 209.5,819.7 211.5,820 213.5,819.8 215.5,820.2 217.5,819.8 219.5,819.9 221.5,819.8 223.5,820 225.5,820.5 227.5,820 229.5,820 231.5,819.7 233.5,819.7 235.5,820.4 237.5,819.6 239.5,819.7 241.5,819.9 243.5,819.8 245.5,820.6 247.5,819.2 249.5,820.1 251.5,820.2 253.5,819.6 255.5,819.8 257.5,820.1 259.5,820.5 261.5,819.7 263.5,819.5 265.5,820.3 267.5,820.5 269.5,819.9 271.5,819.3 273.5,820.4 275.5,819.9 277.5,820.3 279.5,820 281.5,819.9 283.5,819.8 285.5,820.4 287.5,820.4 289.5,819.3 291.5,819.7 293.5,820.5 295.5,819.8 297.5,819.5 299.5,820 301.5,819.9 303.5,819.9 305.5,819.8 307.5,819.8 309.5,819.8 311.5,820 313.5,819.6 315.5,819.7 317.5,819.7 319.5,820.1 320,820 320.2,819.9 320.5,819.8 320.8,819.8 321,819.7 321.2,819.6 321.5,819.5 321.8,819.5 322,819.4 322.2,819.3 322.5,819.3 322.8,819.2 323,819.1 323.2,819 323.5,818.8 323.8,818.7 324,818.6 324.2,818.5 324.5,818.3 324.8,818.1 325,817.8 325.2,817.4 325.5,816.7 325.8,815.6 326,813.5 326.2,809.4 326.5,801.9 326.8,789.1 327,769.9 327.2,744.4 327.5,715.2 327.8,688 328,669.7 328.2,665.4 328.5,674.8 328.8,694.5 329,720.2 329.2,746.9 329.5,770.3 329.8,788.3 330,800.7 330.2,808.4 330.5,812.9 330.8,815.3 331,816.6 331.2,817.3 331.5,817.8 331.8,818.1 332,818.4 332.2,818.7 332.5,818.9 332.8,819.1 333,819.3 333.2,819.4 333.3,819.5 333.5,819.6 333.6,819.6 333.8,819.6 333.8,819.7 334,819.7 334.1,819.7 334.2,819.7 334.3,819.7 334.5,819.8 334.6,819.8 334.8,819.8 334.8,819.8 335,819.8 335.1,819.8 335.2,819.8 335.3,819.8 335.5,819.8 335.6,819.8 335.8,819.8 335.8,819.8 336,819.7 336.1,819.7 336.2,819.7 336.3,819.7 336.5,819.6 336.6,819.6 336.8,819.6 336.8,819.6 337.1,819.5 337.3,819.5 337.5,819.4 337.6,819.4 337.8,819.4 338.1,819.3 338.3,819.3 338.6,819.2 338.8,819.1 339.1,818.9 339.3,818.5 339.5,817.9 339.6,817.7 339.8,816.4 340.1,814.2 340.3,810.8 340.6,806.3 340.8,801.2 341.1,796.4 341.3,793.2 341.5,792.4 341.6,792.4 341.8,794 342.1,797.4 342.3,801.8 342.6,806.5 342.8,810.7 343.1,814 343.3,816.3 343.5,817.5 343.6,817.8 343.8,818.6 344.1,819.1 344.3,819.3 344.6,819.4 344.8,819.5 345.1,819.5 345.3,819.6 345.5,819.6 345.6,819.6 345.8,819.6 346.1,819.5 346.3,819.5 346.6,819.5 346.8,819.4 347.1,819.4 347.3,819.3 347.5,819.3 347.6,819.3 347.8,819.3 348.1,819.3 348.3,819.3 348.6,819.3 348.8,819.3 349.1,819.3 349.3,819.3 349.5,819.3 349.6,819.3 349.8,819.4 350.1,819.5 351.5,820 353.5,820.1 355.5,820.2 357.5,819.5 359.5,820.3 361.5,819.8 363.5,820 365.5,820.1 367.5,819.7 369.5,819.7 371.5,819.2 373.5,819.6 375.5,819.3 377.5,819.9 379.5,819.8 381.5,819.9 382.2,819.8 382.4,819.7 382.7,819.7 382.9,819.6 383.2,819.6 383.4,819.5 383.5,819.5 383.7,819.4 383.9,819.3 384.2,819.3 384.4,819.1 384.7,819 384.9,818.9 385.2,818.8 385.4,818.6 385.5,818.6 385.7,818.6 385.9,818.4 386.2,818.3 386.4,818.2 386.7,818 386.9,817.7 387.2,817.4 387.4,817 387.5,816.8 387.7,816.2 387.9,814.9 388.2,812.4 388.4,807.7 388.7,799.1 388.9,784.7 389.2,763.1 389.4,734.8 389.5,728.5 389.7,702.9 389.9,673.5 390.2,654 390.4,649.2 390.7,657.8 390.9,675.7 391.2,699.6 391.4,726.4 391.5,731.8 391.7,752.2 391.9,774 392.2,790.5 392.4,801.9 392.7,809 392.9,813 393.2,815.2 393.4,816.4 393.5,816.6 393.7,817.1 393.9,817.5 394.2,817.8 394.4,818 394.7,818.2 394.9,818.3 395.2,818.4 395.4,818.5 395.5,818.5 395.7,818.6 395.9,818.7 396.2,818.9 396.4,819 396.7,819.1 396.9,819.2 397.2,819.3 397.4,819.4 397.5,819.4 397.7,819.4 397.9,819.5 398.2,819.5 398.4,819.5 398.7,819.6 398.9,819.6 399.5,819.6 401.5,819.6 403.5,820.1 405.5,820.4 407.5,819.8 409.5,819.8 411.5,819.2 413.5,819.8 415.3,819.7 415.5,819.7 415.6,819.7 415.8,819.6 416.1,819.6 416.3,819.5 416.6,819.4 416.8,819.3 417.1,819.3 417.3,819.2 417.5,819.1 417.6,819.1 417.8,819.2 418.1,819.3 418.3,819.4 418.6,819.5 418.8,819.6 419.1,819.6 419.3,819.7 419.5,819.8 419.6,819.8 419.8,819.7 420.1,819.7 420.3,819.6 420.6,819.6 420.8,819.5 421.1,819.3 421.3,818.9 421.5,818.3 421.6,818.1 421.8,816.6 422.1,814.1 422.3,810.4 422.6,805.6 422.8,800.3 423.1,795.4 423.3,792.3 423.5,791.5 423.6,791.5 423.8,792.9 424.1,795.6 424.3,799.2 424.6,803.2 424.8,807.3 425.1,811 425.3,814 425.5,815.8 425.6,816.2 425.8,817.6 426.1,818.4 426.3,818.8 426.6,819.1 426.8,819.2 427.1,819.3 427.3,819.3 427.5,819.3 427.6,819.3 427.8,819.5 428.1,819.6 428.3,819.7 428.6,819.7 428.8,819.8 429.1,819.9 429.3,820 429.5,820.1 429.6,820.1 429.8,820 430.1,819.9 430.3,819.8 430.6,819.7 430.8,819.6 431.1,819.6 431.3,819.5 431.5,819.4 431.6,819.4 431.8,819.5 432.1,819.5 433.5,819.8 435.5,820.6 437.5,820 439.5,820.1 441.5,819.9 443.5,819.6 445.5,820 447.5,820.1 449.5,819.6 451.5,820.1 453.5,820.4 455.5,820.3 457.5,819.5 459.5,819.7 461.5,819.5 463.5,820.3 465.5,820.2 467.5,820.2 469.5,819.7 471.5,819.6 473.5,820 475.5,820 477.5,819.7 479.5,820 481.5,820.2 483.5,820 485.5,819.6 487.5,819.3 489.5,819.9 491.5,820 493.5,819.8 495.3,819.7 495.5,819.7 495.6,819.7 495.8,819.7 496.1,819.7 496.3,819.7 496.6,819.6 496.8,819.6 497.1,819.6 497.3,819.6 497.5,819.5 497.6,819.5 497.8,819.6 498.1,819.6 498.3,819.6 498.6,819.7 498.8,819.7 499.1,819.7 499.3,819.7 499.5,819.7 499.6,819.7 499.8,819.6 500.1,819.5 500.3,819.3 500.6,819.1 500.8,818.9 501.1,818.5 501.3,817.7 501.5,816.6 501.6,816.3 501.8,813.7 502.1,809.3 502.3,802.9 502.6,794.7 502.8,785.6 503.1,777.7 503.3,773.1 503.5,772.4 503.6,772.7 503.8,775.4 504.1,779.6 504.3,784 504.6,788.6 504.8,793.9 505.1,799.6 505.3,805.1 505.5,808.9 505.6,809.8 505.8,813.4 506.1,815.8 506.3,817.3 506.6,818.1 506.8,818.6 507.1,818.9 507.3,819 507.5,819.1 507.6,819.1 507.8,819.3 508.1,819.4 508.3,819.4 508.6,819.5 508.8,819.6 509.1,819.7 509.3,819.7 509.5,819.8 509.6,819.8 509.8,819.7 510.1,819.7 510.3,819.7 510.6,819.6 510.8,819.6 511.1,819.6 511.3,819.5 511.5,819.5 511.6,819.5 511.8,819.5 512,819.5 513.5,819.5 515.5,819.8 517.5,820.3 519.5,820 521.5,820.4 523.5,819.9 525.5,819.8 527.5,819.5 529.5,819.8 531.5,820.4 533.5,820 535.5,820.1 537.5,820.1 539.5,819.8 541.4,819.7 541.5,819.7 541.6,819.7 541.9,819.7 542.1,819.7 542.4,819.7 542.6,819.7 542.9,819.7 543.1,819.7 543.4,819.6 543.5,819.6 543.6,819.6 543.9,819.6 544.1,819.6 544.4,819.6 544.6,819.5 544.9,819.5 545.1,819.5 545.4,819.4 545.5,819.4 545.6,819.3 545.9,819.2 546.1,819 546.4,818.8 546.6,818.6 546.9,818.2 547.1,817.5 547.4,816.2 547.5,815.4 547.6,813.8 547.9,809.3 548.1,801.8 548.4,790.9 548.6,776.8 548.9,761.6 549.1,748.6 549.4,741.4 549.5,740.8 549.6,741.9 549.9,747.6 550.1,755 550.4,761.6 550.6,767.3 550.9,773.6 551.1,781.4 551.4,790.2 551.5,793.7 551.6,798.7 551.9,805.8 552.1,811 552.4,814.4 552.6,816.4 552.9,817.5 553.1,818 553.4,818.4 553.5,818.4 553.6,818.6 553.9,818.7 554.1,818.9 554.4,819 554.6,819.1 554.9,819.2 555.1,819.3 555.4,819.4 555.5,819.4 555.6,819.4 555.9,819.4 556.1,819.4 556.4,819.4 556.6,819.4 556.9,819.4 557.1,819.4 557.4,819.4 557.5,819.4 557.6,819.5 557.9,819.6 558.1,819.6 559.5,820.1 561.5,819.2 563.5,819.8 565.5,820.6 567.5,819.8 567.8,819.7 568,819.7 568.3,819.6 568.5,819.6 568.8,819.6 569,819.5 569.3,819.5 569.5,819.5 569.5,819.5 569.8,819.5 570,819.5 570.3,819.6 570.5,819.6 570.8,819.6 571,819.7 571.3,819.7 571.5,819.7 571.5,819.7 571.8,819.7 572,819.8 572.3,819.8 572.5,819.8 572.8,819.8 573,819.7 573.3,819.6 573.5,819.5 573.5,819.4 573.8,818.9 574,818 574.3,816.4 574.5,813.7 574.8,809.8 575,804.8 575.3,799.4 575.5,795.6 575.5,794.9 575.8,792.6 576,793 576.3,795.3 576.5,798 576.8,800.3 577,802 577.3,803.7 577.5,805.4 577.5,805.9 577.8,808.7 578,811.6 578.3,814.3 578.5,816.4 578.8,817.8 579,818.6 579.3,819.1 579.5,819.3 579.5,819.3 579.8,819.5 580,819.5 580.3,819.6 580.5,819.6 580.8,819.6 581,819.6 581.3,819.6 581.5,819.6 581.5,819.7 581.8,819.8 582,820 582.3,820.2 582.5,820.3 582.8,820.5 583,820.6 583.3,820.8 583.5,820.9 583.5,820.9 583.8,820.7 584,820.6 584.3,820.5 584.5,820.4 585.5,819.9 587.5,819.8 589.5,819.8 591.5,820.1 593.5,820.1 595.5,820.2 597.5,820 599.5,819.5 601.5,820.2 603.5,819.9 605.5,819.9 607.5,819.5 609.5,819.8 611.5,819.8 613.5,820 615.5,819.5 617.5,820 619.5,820 621.5,819.6 623.5,819.8 625.5,819.7 627.5,820.3 629.5,819.2 631.5,819.9 633.5,819.4 634.1,819.5 634.4,819.6 634.6,819.6 634.9,819.7 635.1,819.7 635.4,819.8 635.5,819.8 635.6,819.8 635.9,819.9 636.1,819.9 636.4,820 636.6,820 636.9,820.1 637.1,820.1 637.4,820.2 637.5,820.2 637.6,820.2 637.9,820.1 638.1,820 638.4,820 638.6,819.9 638.9,819.8 639.1,819.7 639.4,819.6 639.5,819.6 639.6,819.6 639.9,819.5 640.1,819.4 640.4,819.2 640.6,818.7 640.9,817.9 641.1,816.6 641.4,815.1 641.5,814.1 641.6,813.4 641.9,811.9 642.1,811.2 642.4,811.5 642.6,812.4 642.9,813.4 642.9,813.6 643.1,814.2 643.1,814.3 643.4,814.5 643.4,814.6 643.5,814.6 643.6,814.7 643.6,814.7 643.9,815 643.9,815.1 644.1,815.6 644.1,815.7 644.4,816.5 644.4,816.6 644.6,817.5 644.6,817.7 644.9,818.4 644.9,818.6 645.1,819.2 645.1,819.3 645.4,819.7 645.4,819.8 645.5,820 645.6,820.1 645.6,820.1 645.9,820.2 645.9,820.2 646.1,820.2 646.1,820.2 646.4,820.2 646.4,820.2 646.6,820.2 646.6,820.2 646.9,820.2 646.9,820.2 647.1,820.1 647.1,820.1 647.4,820.1 647.4,820.1 647.5,820.1 647.6,820.1 647.6,820.1 647.9,820 647.9,820 648.1,820 648.1,820 648.4,820 648.4,820 648.6,819.9 648.6,819.9 648.9,819.8 648.9,819.7 649.1,819.5 649.1,819.4 649.4,818.9 649.4,818.8 649.5,818.4 649.6,817.9 649.6,817.6 649.9,816.3 649.9,816 650.1,814.3 650.1,813.9 650.4,812.1 650.4,811.7 650.6,810.1 650.6,809.8 650.9,809 650.9,808.9 651.1,809.2 651.4,810.3 651.5,810.8 651.6,811.7 651.9,812.7 652.1,813.2 652.4,813.4 652.6,813.5 652.9,814 653.1,814.9 653.4,816.1 653.5,816.5 653.6,817.2 653.9,818.2 654.1,818.9 654.4,819.3 654.6,819.6 654.9,819.8 655.1,820 655.4,820.1 655.5,820.2 655.6,820.2 655.9,820.1 656.1,820.1 656.4,820 656.6,820 656.9,820 657.1,819.9 657.4,819.9 657.5,819.9 657.6,819.9 657.9,819.9 658.1,819.9 658.4,819.9 658.6,819.9 658.9,819.9 659.1,819.9 659.4,819.9 659.5,819.9 659.6,819.9 661.5,820.1 663.5,819.6 665.5,820.2 667.5,820 669.5,820.1 671.5,819.8 672,819.9" fill="none" stroke="#000080" stroke-width="5.2" stroke-linejoin="round"/>
<path clip-path="url(#cr)" d="M708.8,821.1L710.3,821.1 711.8,821 713.3,820.9 714.8,821 716.3,820.3 717.8,820.5 719.3,820.9 720.8,820.7 722.3,820.8 723.8,820.7 725.3,820.6 726.8,820.4 728.3,820.6 729.8,820.8 731.3,821 732.8,821.2 734.3,820.7 735.8,820.5 737.3,820.7 738.8,821.2 740.3,820.7 741.8,820.9 743.3,821.2 744.8,820.8 746.3,820.6 747.8,820.7 749.3,821.1 750.8,821.2 752.3,820.5 753.8,820.7 755.3,821 756.8,820.6 758.3,821 759.8,820.9 761.3,820.5 762.8,820.2 764.3,820.7 765.8,820.9 767.3,821 768.8,821.3 770.3,821.2 771.8,821 773.3,820.8 774.8,820.6 776.3,820.5 777.8,820.5 779.3,820.5 780.8,820.4 782.3,820.5 783.8,820.2 785.3,820.1 786.8,820.6 788.3,820.6 789.8,820.9 791.3,821.2 792.8,820.8 794.3,820.5 795.8,820.5 797.3,820.6 798.8,820.2 800.3,820.3 801.8,820.1 803.3,820.2 804.8,820.9 806.3,820.7 807.8,820.3 809.3,820.2 810.8,820.4 812.3,820.6 813.8,820.6 815.3,820.5 816.8,820.4 818.3,820.1 819.8,820.1 821.3,820.1 822.8,820.2 824.3,820.4 825.8,820.2 827.3,819.9 828.8,819.8 830.3,820.2 831.8,820 833.3,819.8 834.8,820.2 836.3,820 837.8,820 839.3,820.1 840.8,820.2 842.3,819.9 843.8,819.8 845.3,819.6 846.8,819.1 848.3,819.1 849.8,819.2 851.3,819.3 852.8,819.4 854.3,819.2 855.8,819.1 857.3,819 858.8,818.3 860.3,818.1 861.8,817.9 863.3,817.6 864.8,817 866.2,816.5 866.3,816.5 866.7,816.3 867.2,816 867.7,815.7 867.8,815.6 868.2,815.4 868.7,815 869.2,814.8 869.3,814.7 869.7,814.6 870.2,814.3 870.7,814 870.8,814 871.2,813.5 871.7,812.8 872.2,812 872.3,811.9 872.7,811.2 873.2,810.6 873.7,809.9 873.8,809.7 874.2,809.1 874.7,808.2 875.2,807.1 875.3,806.8 875.7,805.8 876.2,804.4 876.7,802.9 876.8,802.6 877.2,801.5 877.7,800.1 878.2,798.6 878.3,798.2 878.7,796.9 879.2,794.9 879.7,792.6 879.8,792.2 880.2,790.3 880.7,787.8 881.2,785.5 881.3,785 881.7,783.1 882.2,780.6 882.7,778 882.8,777.5 883.2,775.1 883.7,772.1 884.2,769.1 884.3,768.5 884.7,766.1 885.2,763.2 885.7,760.5 885.8,760 886.2,757.8 886.7,755.3 887.2,752.8 887.3,752.4 887.7,750.6 888.2,748.5 888.7,746.7 888.8,746.4 889.2,745 889.7,743.5 890.2,742.4 890.3,742.2 890.7,741.6 891.2,741.4 891.7,741.5 891.8,741.6 892.2,742.1 892.7,742.9 893.2,744 893.3,744.3 893.7,745.4 894.2,747.1 894.7,749 894.8,749.4 895.2,751 895.7,753.1 896.2,755.4 896.3,755.8 896.7,757.7 897.2,760.3 897.7,763 897.8,763.5 898.2,765.7 898.7,768.3 899.2,770.7 899.3,771.1 899.7,772.9 900.2,775.1 900.7,777.1 900.8,777.5 901.2,778.9 901.7,780.5 902.2,782 902.3,782.2 902.7,783.3 903.2,784.5 903.7,785.7 903.8,785.9 904.2,786.7 904.7,787.4 905.2,787.9 905.3,787.9 905.7,788.1 906.2,788.2 906.7,788.1 906.8,788 907.2,787.9 907.7,787.6 908.2,787.1 908.3,787 908.7,786.6 909.2,786 909.7,785.4 909.8,785.3 910.2,784.7 910.7,784 911.2,783.1 911.3,782.9 911.7,782.2 912.2,781.4 912.7,780.5 912.8,780.4 913.2,780 913.7,779.6 914.2,779.3 914.3,779.2 914.7,779.1 915.2,778.7 915.7,778.4 915.8,778.3 916.2,778.2 916.7,778.2 917.2,778.7 917.3,778.8 917.7,779.5 918.2,780.4 918.7,781.5 918.8,781.7 919.2,782.6 919.7,783.7 920.2,785 920.3,785.3 920.7,786.4 921.2,787.6 921.7,788.8 921.8,789.1 922.2,790.1 922.7,791.4 923.2,792.8 923.3,793.1 923.7,794.3 924.2,795.8 924.7,797.3 924.8,797.5 925.2,798.8 925.7,800.3 926.2,801.8 926.3,802 926.7,803.2 927.2,804.3 927.7,805.4 927.8,805.6 928.2,806.4 928.7,807.3 929.2,808.3 929.3,808.5 929.7,809.3 930.2,810.2 930.7,811 930.8,811.2 931.2,811.8 931.7,812.5 932.2,813.1 932.3,813.3 932.7,813.7 933.2,814.2 933.7,814.5 933.8,814.6 934.2,814.9 934.7,815.1 935.2,815.4 935.3,815.5 935.7,815.7 936.8,816.2 938.3,816.5 939.8,817.3 941.3,818 942.8,818 944.3,818.5 945.8,818.8 947.3,818.8 948.8,818.6 950.3,819.4 951.8,819.7 953.3,819.6 954.8,819.7 956.3,819.4 957.8,819.4 959.3,819.6 960.8,819.6 962.3,819.7 963.8,819.7 965.3,819.7 966.8,820.1 968.3,820.1 969.8,820.1 971.3,820.1 972.8,820 974.3,820.4 975.8,820.4 977.3,820.1 978.8,819.5 980.3,819.9 981.8,820.2 983.3,820.4 984.8,820.6 986.3,820.4 987.8,820.3 989.3,820.3 990.8,820.2 992.3,820.5 993.8,820.5 995.3,820.3 996.8,820.3 998.3,820.3 999.8,820.5 1001.3,820.6 1002.8,820.4 1004.3,820.1 1005.8,820.4 1007.3,820.6 1008.8,820.4 1010.3,820.6 1011.8,820.7 1013.3,820.8 1014.8,820.9 1016.3,820.9 1017.8,820.7 1019.3,820.5 1020.8,820.6 1022.3,820.4 1023.8,820.7 1025.3,821 1026.8,820.8 1028.3,821 1029.8,820.8 1031.3,820.5 1032.8,820.1 1034.3,820.9 1035.8,820.9 1037.3,820.7 1038.8,820.7 1040.3,820.7 1041.8,820.8 1043.3,820.9 1044.8,820.9 1046.3,820.4 1047.8,820.7 1049.3,820.9 1050.8,820.6 1052.3,820.6 1053.8,820.9 1055.3,821.2 1056.8,821 1058.3,820.7 1059.8,820.4 1061.3,820.4 1062.8,820.8 1064.3,820.9 1065.8,820.8 1067.3,820.7 1068.8,820.4 1070.3,820.5 1071.8,820.5 1073.3,820.5 1074.8,820.8 1076.3,821 1077.8,821 1079.3,820.9 1080.8,820.6 1082.3,820.8 1083.8,820.9 1085.3,820.9 1086.8,820.6 1088.3,820.7 1089.8,821.1 1091.3,821.3 1092.8,820.9 1094.3,821 1095.8,820.9 1097.3,820.7 1098.8,820.8 1100.3,820.4 1101.8,820.6 1103.3,820.9 1104.8,821.1 1106.3,821.3 1107.8,821.3 1109.3,821.1 1110.8,821 1112.3,820.9 1113.8,820.7 1115.3,820.7 1116.8,820.8 1118.3,820.9 1119.8,820.8 1121.3,820.7 1122.8,821.1 1124.3,820.7 1125.8,820.4 1127.3,820.4 1128.8,820.5 1130.3,820.4 1131.8,820.4 1133.3,820.6 1134.8,821.1 1136.3,820.9 1137.8,820.8 1139.3,821 1140.8,821.2 1142.3,821.2 1143.8,820.9 1145.3,820.8 1146.8,821.2 1148.3,821 1149.8,820.9 1151.3,820.9 1152.8,821 1154.3,820.6 1155.8,820.5 1157.3,820.7 1158.8,820.8 1160.3,821 1161.8,820.9 1163.3,820.8 1164.8,820.8 1166.3,821 1167.8,821.2 1169.3,821.2 1170.8,821.1 1172.3,821.2 1173.8,821 1175.3,820.7 1176.8,820.8 1178.3,820.9 1179.8,820.9 1181.3,820.8 1182.8,820.7 1184.3,821.2 1185.8,821.1 1187.3,820.7 1188.8,820.6 1190.3,820.9 1191.8,821.2 1193.3,821.2 1194.8,820.9 1196.3,821.1 1197.8,821 1199.3,820.7 1200.8,820.7 1202.3,820.7 1203.8,820.7 1205.3,821 1206.8,821.4 1208.3,820.7 1209.8,820.9 1211.3,821.1 1212.8,820.6 1214.3,820.7 1215.8,820.9 1217.3,821.1 1218.8,821 1220.3,821 1221.8,820.7 1223.3,820.5 1224.8,821 1226.3,820.7 1227.8,821.1 1229.3,821.4 1230.8,820.8 1232.3,820.9 1233.8,820.7 1235.3,820.6 1236.8,820.7 1238.3,820.6 1239.8,820.8 1241.3,821.1 1242.8,820.8 1244.3,821 1245.8,820.9 1247.3,820.7 1248.8,820.7 1250.3,821.1 1251.8,820.9 1253.3,820.5 1254.8,820.4 1256.3,820.8 1257.8,820.8 1259.3,820.6 1260.8,820.7" fill="none" stroke="#000080" stroke-width="5.2" stroke-linejoin="round"/>
<path clip-path="url(#cl)" d="M119.5,908.2L121.5,909 123.5,909 125.5,908.6 127.5,908.8 129.5,908.6 131.5,909.1 133.5,909.4 135.5,908.7 137.5,909.5 139.5,908.8 141.5,909 143.5,908.8 145.5,910.1 147.5,909.5 149.5,909.6 151.5,909.3 153.5,909.9 155.5,908.9 157.5,909.6 159.5,910.3 161.5,909.5 163.5,909.6 165.5,909.9 167.5,909.4 169.5,909.7 171.5,909.9 173.5,909.7 175.5,909.7 177.5,909.3 179.5,909.4 181,909.1 181.2,909.1 181.5,909 181.8,909 182,909 182.2,909 182.5,908.9 182.8,908.9 183,908.8 183.2,908.8 183.5,908.7 183.8,908.5 184,908.3 184.2,908.1 184.5,907.8 184.8,907.5 185,907.2 185.2,906.8 185.5,906.3 185.8,905.7 186,905 186.2,904 186.5,902.5 186.8,899.9 187,895.1 187.2,885.7 187.5,868.2 187.8,838.2 188,792.5 188.2,731.7 188.5,662.6 188.8,599.8 189,561.9 189.2,562.7 189.5,601.2 189.8,663.8 190,732.2 190.2,792.5 190.5,837.8 190.8,867.7 191,885.4 191.2,895 191.5,900 191.8,902.6 192,904.1 192.2,905 192.5,905.8 192.8,906.3 193,906.8 193.2,907.2 193.5,907.5 193.8,907.7 194,907.9 194.2,908 194.5,908.1 194.8,908.2 195,908.3 195.2,908.3 195.5,908.4 195.8,908.4 196,908.4 196.2,908.5 196.5,908.5 196.8,908.5 197,908.5 197.2,908.5 197.5,908.5 197.8,908.6 199.5,909.1 201.5,909.9 203.5,909.3 205.5,909.6 207.5,909.9 209.5,910.2 211.5,909.8 213.5,909.8 215.5,909.7 217.5,910.4 219.5,910.3 221.5,909.9 223.5,909.5 225.5,909.7 227.5,910.1 229.5,909.7 231.5,910.2 233.5,910.1 235.5,910 237.5,910.2 239.5,910.1 241.5,909.7 243.5,909.9 245.5,910.7 247.5,909.6 249.5,909.8 251.5,910.3 253.5,909.9 255.5,909.7 257.5,909.6 259.5,910.1 261.5,910.3 263.5,910.4 265.5,910 267.5,910.3 269.5,909.6 271.5,910 273.5,909.8 275.5,910 277.5,910.2 279.5,910.3 281.5,909.7 283.5,910.4 285.5,909.8 287.5,909.6 289.5,909.9 291.5,909.5 293.5,910 295.5,910.1 297.5,909.9 299.5,910.1 301.5,909.9 303.5,910 305.5,909.5 307.5,910 309.5,909.7 311.5,909.8 313.5,909.9 315.5,909.9 317.5,909.3 319.5,909.3 320.7,909.4 320.9,909.5 321.2,909.5 321.4,909.5 321.5,909.5 321.7,909.5 321.9,909.5 322.2,909.5 322.4,909.5 322.7,909.5 322.9,909.5 323.2,909.5 323.4,909.5 323.5,909.5 323.7,909.4 323.9,909.3 324.2,909.2 324.4,909.1 324.7,909 324.9,908.9 325.2,908.7 325.4,908.5 325.5,908.4 325.7,908.3 325.9,907.9 326.2,907.4 326.4,906.6 326.7,904.9 326.9,901.7 327.2,895.6 327.4,885.5 327.5,882.9 327.7,870.2 327.9,849.8 328.2,826.6 328.4,804.8 328.7,790.2 328.9,786.8 329.2,794.2 329.4,809.9 329.5,813.8 329.7,830.4 329.9,851.6 330.2,870.3 330.4,884.6 330.7,894.5 330.9,900.7 331.2,904.3 331.4,906.2 331.5,906.5 331.7,907.3 331.9,907.8 332.2,908.2 332.4,908.4 332.7,908.6 332.9,908.8 333.2,908.9 333.4,909 333.5,909 333.7,909 333.9,909.1 334.2,909.1 334.4,909.1 334.5,909.1 334.7,909.1 334.8,909.1 334.9,909.1 335,909.1 335.2,909.1 335.2,909.1 335.4,909.1 335.5,909.1 335.7,909.1 335.8,909.1 335.9,909.2 336,909.2 336.2,909.2 336.2,909.2 336.4,909.2 336.5,909.2 336.7,909.2 336.8,909.2 336.9,909.2 337,909.3 337.2,909.3 337.2,909.3 337.4,909.3 337.5,909.3 337.8,909.3 338,909.3 338.2,909.3 338.5,909.3 338.8,909.3 339,909.3 339.2,909.3 339.5,909.3 339.8,909.3 340,909.2 340.2,909.1 340.5,908.8 340.8,908.2 341,907.1 341.2,905.1 341.5,902.2 341.8,898.3 342,893.9 342.2,889.7 342.5,887 342.8,886.3 343,887.6 343.2,890.5 343.5,894.3 343.8,898.3 344,901.9 344.2,904.7 344.5,906.7 344.8,908 345,908.7 345.2,909.1 345.5,909.3 345.8,909.5 346,909.5 346.2,909.6 346.5,909.6 346.8,909.6 347,909.7 347.2,909.7 347.5,909.7 347.8,909.8 348,909.8 348.2,909.8 348.5,909.9 348.8,909.9 349,910 349.2,910 349.5,910.1 349.8,910 350,910 350.2,910 350.5,910 350.8,910 351,910 351.2,910 351.5,910 353.5,910 355.5,910 357.5,909.8 359.5,909.6 361.5,910.1 363.5,910.1 365.5,909.9 367.5,909.8 369.5,910.7 371.5,909.7 373.5,909.8 375.5,910 377.5,909.5 379.5,909.8 381.5,910.3 382.7,910 382.9,910 383.2,909.9 383.4,909.9 383.5,909.9 383.7,909.8 383.9,909.8 384.2,909.7 384.4,909.7 384.7,909.6 384.9,909.6 385.2,909.5 385.4,909.4 385.5,909.4 385.7,909.3 385.9,909.2 386.2,909.1 386.4,909 386.7,908.9 386.9,908.7 387.2,908.5 387.4,908.3 387.5,908.2 387.7,908 387.9,907.5 388.2,906.9 388.4,905.8 388.7,903.8 388.9,899.9 389.2,892.7 389.4,880.7 389.5,877.6 389.7,862.8 389.9,839.3 390.2,812.8 390.4,788.4 390.7,772.2 390.9,768.2 391.2,775.4 391.4,790.2 391.5,793.9 391.7,810 391.9,832.2 392.2,853.6 392.4,871.7 392.7,885.4 392.9,894.8 393.2,900.7 393.4,904 393.5,904.5 393.7,905.9 393.9,906.9 394.2,907.5 394.4,907.8 394.7,908.1 394.9,908.3 395.2,908.5 395.4,908.6 395.5,908.6 395.7,908.8 395.9,908.9 396.2,909 396.4,909.1 396.7,909.2 396.9,909.3 397.2,909.4 397.4,909.4 397.5,909.4 397.7,909.5 397.9,909.6 398.2,909.6 398.4,909.7 398.7,909.8 398.9,909.8 399.2,909.9 399.4,909.9 399.5,909.9 401.5,909.9 403.5,910 405.5,909.2 407.5,910.3 409.5,910.7 411.5,910.3 413.5,909.8 415.5,909.6 416.3,909.8 416.6,909.8 416.8,909.8 417.1,909.9 417.3,909.9 417.5,910 417.6,909.9 417.8,909.9 418.1,909.8 418.3,909.8 418.6,909.7 418.8,909.7 419.1,909.6 419.3,909.5 419.5,909.5 419.6,909.5 419.8,909.5 420.1,909.6 420.3,909.6 420.6,909.7 420.8,909.7 421.1,909.7 421.3,909.8 421.5,909.7 421.6,909.7 421.8,909.6 422.1,909.3 422.3,908.9 422.6,908.2 422.8,906.8 423.1,904.6 423.3,901.4 423.5,898.1 423.6,897.2 423.8,892.6 424.1,888.4 424.3,885.7 424.6,885.2 424.8,886.5 425.1,888.9 425.3,892 425.5,894.9 425.6,895.6 425.8,899.3 426.1,902.5 426.3,905.2 426.6,907.1 426.8,908.4 427.1,909.1 427.3,909.6 427.5,909.8 427.6,909.8 427.8,909.8 428.1,909.7 428.3,909.6 428.6,909.6 428.8,909.5 429.1,909.3 429.3,909.2 429.5,909.1 429.6,909.2 429.8,909.3 430.1,909.4 430.3,909.5 430.6,909.6 430.8,909.7 431.1,909.8 431.3,909.9 431.5,910 431.6,910 431.8,909.9 432.1,909.9 432.3,909.9 432.6,909.8 432.8,909.8 433.1,909.8 433.5,909.7 435.5,909.5 437.5,909.8 439.5,909.9 441.5,910.3 443.5,909.5 445.5,910.3 447.5,910.6 449.5,910.2 451.5,910.2 453.5,910 455.5,909.6 457.5,910.2 459.5,910.1 461.5,910.2 463.5,910.8 465.5,910.2 467.5,910.1 469.5,910.5 471.5,909.6 473.5,909.6 475.5,909.9 477.5,909.8 479.5,910.2 481.5,909.9 483.5,910.5 485.5,910.5 487.5,910.2 489.5,909.8 491.5,910.1 493.5,910.2 495.5,909.6 496.3,909.7 496.6,909.8 496.8,909.8 497.1,909.9 497.3,909.9 497.5,909.9 497.6,909.9 497.8,910 498.1,910 498.3,910 498.6,910 498.8,909.9 499.1,909.9 499.3,909.9 499.5,909.9 499.6,909.9 499.8,909.9 500.1,909.8 500.3,909.7 500.6,909.7 500.8,909.6 501.1,909.5 501.3,909.4 501.5,909.3 501.6,909.3 501.8,909.1 502.1,908.8 502.3,908.3 502.6,907.1 502.8,904.9 503.1,901.1 503.3,895.6 503.5,890 503.6,888.5 503.8,880.6 504.1,873.7 504.3,869.7 504.6,869.3 504.8,871.8 505.1,875.4 505.3,879.2 505.5,882.4 505.6,883.2 505.8,887.7 506.1,892.6 506.3,897.4 506.6,901.4 506.8,904.4 507.1,906.5 507.3,907.7 507.5,908.2 507.6,908.3 507.8,908.8 508.1,909 508.3,909.2 508.6,909.3 508.8,909.4 509.1,909.5 509.3,909.6 509.5,909.7 509.6,909.7 509.8,909.7 510.1,909.7 510.3,909.6 510.6,909.6 510.8,909.6 511.1,909.6 511.3,909.6 511.5,909.5 511.6,909.6 511.8,909.6 512,909.7 512.3,909.8 512.5,909.8 512.8,909.9 513,910 513.5,910.1 515.5,909.6 517.5,910.2 519.5,910.1 521.5,910.3 523.5,909.9 525.5,909.5 527.5,910.5 529.5,909.9 531.5,910.4 533.5,910.1 535.5,910.1 537.5,910.5 539.5,910 541.5,910.3 542,910 542.2,909.9 542.5,909.8 542.8,909.6 543,909.5 543.2,909.4 543.5,909.2 543.8,909.3 544,909.4 544.2,909.4 544.5,909.5 544.8,909.6 545,909.6 545.2,909.7 545.5,909.7 545.8,909.6 546,909.5 546.2,909.4 546.5,909.2 546.8,909 547,908.8 547.2,908.6 547.5,908.2 547.8,907.6 548,906.6 548.2,904.5 548.5,900.6 548.8,894.2 549,884.8 549.2,872.7 549.5,859.6 549.8,848.5 550,842.4 550.2,842.7 550.5,847.7 550.8,854 551,859.8 551.2,864.7 551.5,870.1 551.8,876.8 552,884.3 552.2,891.6 552.5,897.8 552.8,902.4 553,905.3 553.2,907.1 553.5,908.1 553.8,908.7 554,909 554.2,909.2 554.5,909.4 554.8,909.6 555,909.7 555.2,909.8 555.5,910 555.8,909.9 556,909.8 556.2,909.7 556.5,909.6 556.8,909.5 557,909.3 557.2,909.2 557.5,909.1 557.8,909.2 558,909.3 558.2,909.4 558.5,909.5 558.8,909.6 559.5,909.8 561.5,909.6 563.5,910.3 565.5,909.8 567.5,910 568.5,909.9 568.8,909.9 569,909.8 569.2,909.8 569.5,909.7 569.8,909.8 570,909.8 570.2,909.8 570.5,909.9 570.8,909.9 571,909.9 571.2,910 571.5,910 571.8,910 572,910 572.2,910 572.5,910 572.8,910 573,909.9 573.2,909.9 573.5,909.9 573.8,909.7 574,909.5 574.2,909.3 574.5,908.8 574.8,907.9 575,906.4 575.2,903.9 575.5,900.2 575.8,895.6 576,890.7 576.2,886.5 576.5,884.3 576.8,884.7 577,886.8 577.2,889.4 577.5,891.6 577.8,893.1 578,894.5 578.2,896.5 578.5,899 578.8,901.7 579,904.2 579.2,906.1 579.5,907.4 579.8,908.3 580,908.8 580.2,909.1 580.5,909.3 580.8,909.5 581,909.6 581.2,909.7 581.5,909.8 581.8,909.9 582,909.9 582.2,910 582.5,910 582.8,910 583,910.1 583.2,910.1 583.5,910.1 583.8,910.1 584,910 584.2,910 584.5,909.9 584.8,909.9 585,909.8 585.2,909.8 585.5,909.7 587.5,910.3 589.5,909.3 591.5,909.4 593.5,909.5 595.5,909.8 597.5,910 599.5,910 601.5,910 603.5,910.2 605.5,909.8 607.5,909.6 609.5,909.6 611.5,910.7 613.5,909.2 615.5,909.9 617.5,910.5 619.5,910.1 621.5,909.7 623.5,910 625.5,910.3 627.5,910.4 629.5,909.7 631.5,910.2 633.5,910.1 635.5,910.3 636,910.3 636.2,910.4 636.5,910.4 636.8,910.4 637,910.4 637.2,910.4 637.5,910.4 637.8,910.3 638,910.3 638.2,910.2 638.5,910.1 638.8,910 639,910 639.2,909.9 639.5,909.8 639.8,909.8 640,909.7 640.2,909.7 640.5,909.6 640.8,909.5 641,909.5 641.2,909.4 641.5,909.3 641.8,909.4 642,909.3 642.2,909.2 642.5,908.8 642.8,908.2 643,907.3 643.2,906.1 643.5,904.8 643.8,903.8 644,903.3 644.2,903.6 644.5,904.4 644.7,905.2 644.8,905.3 645,905.9 645,906 645.2,906.3 645.2,906.4 645.5,906.5 645.5,906.6 645.7,906.6 645.8,906.6 646,906.9 646,907 646.2,907.4 646.2,907.5 646.5,908 646.5,908.2 646.7,908.7 646.8,908.8 647,909.2 647,909.3 647.2,909.6 647.2,909.6 647.5,909.8 647.5,909.8 647.7,909.9 647.8,909.9 648,909.9 648,909.9 648.2,910 648.2,910 648.5,910 648.5,910 648.7,909.9 648.8,909.9 649,909.9 649,909.9 649.2,909.9 649.2,909.9 649.5,909.9 649.5,909.9 649.7,909.9 649.8,909.9 650,910 650,910 650.2,910.1 650.2,910.1 650.5,910.1 650.5,910.1 650.7,910 650.8,910 651,909.8 651,909.8 651.2,909.4 651.2,909.3 651.5,908.7 651.5,908.5 651.7,907.4 651.8,907.1 652,905.7 652,905.4 652.2,903.9 652.2,903.6 652.5,902.5 652.5,902.2 652.7,901.7 652.8,901.7 653,901.9 653.2,902.7 653.5,903.6 653.5,903.8 653.7,904.4 654,904.9 654.2,905.1 654.5,905.3 654.7,905.7 655,906.5 655.2,907.4 655.5,908.3 655.5,908.5 655.7,909 656,909.4 656.2,909.6 656.5,909.7 656.7,909.8 657,909.8 657.2,909.7 657.5,909.7 657.5,909.7 657.7,909.7 658,909.8 658.2,909.8 658.5,909.8 658.7,909.9 659,909.9 659.2,909.9 659.5,910 659.5,910 659.7,910 660,910 660.2,910 660.5,910 660.7,910 661,910 661.2,910 661.5,910 661.5,910 663.5,910.5 665.5,909.7 667.5,909.8 669.5,909.5 671.5,910.1 672,910.1" fill="none" stroke="#800000" stroke-width="5.2" stroke-linejoin="round"/>
<path clip-path="url(#cr)" d="M708.8,910.3L710.3,910.6 711.8,910.6 713.3,910.4 714.8,910.6 716.3,910.6 717.8,910.5 719.3,910.2 720.8,910 722.3,910.5 723.8,910.6 725.3,910.5 726.8,910.7 728.3,910.1 729.8,909.9 731.3,909.9 732.8,909.8 734.3,910.1 735.8,910.4 737.3,910.7 738.8,910.6 740.3,910.4 741.8,910.4 743.3,910.5 744.8,910.6 746.3,910.4 747.8,910.4 749.3,910.5 750.8,910.4 752.3,910 753.8,910 755.3,910.4 756.8,910.8 758.3,910.4 759.8,910.3 761.3,910.3 762.8,910.2 764.3,910.2 765.8,910.5 767.3,910.6 768.8,910.3 770.3,910.1 771.8,909.8 773.3,909.7 774.8,910.2 776.3,909.9 777.8,909.8 779.3,910 780.8,910.6 782.3,910.6 783.8,910.2 785.3,910 786.8,910.6 788.3,910.5 789.8,910.3 791.3,910.2 792.8,910.5 794.3,910 795.8,909.9 797.3,910 798.8,909.9 800.3,910 801.8,910.3 803.3,910.4 804.8,909.9 806.3,910 807.8,910 809.3,910.1 810.8,910.3 812.3,910.2 813.8,910.3 815.3,910.4 816.8,910 818.3,909.9 819.8,910 821.3,910.1 822.8,910.2 824.3,910 825.8,910.1 827.3,910.4 828.8,910.7 830.3,910.2 831.8,910.1 833.3,910.2 834.8,910.5 836.3,910.1 837.8,909.9 839.3,909.8 840.8,909.8 842.3,910.1 843.8,910.2 845.3,910.1 846.8,909.9 848.3,910 849.8,910.1 851.3,910.2 852.8,910.1 854.3,909.6 855.8,909.6 857.3,909.8 858.8,909.8 860.3,909.9 861.8,909.8 863.3,909.6 864.8,909.4 866.3,909.4 867.8,909.2 869.3,909.1 870.8,909.4 872.3,909.2 873.8,909.2 875.3,909.2 876.8,908.8 878.3,908.8 879.8,908.6 881.3,908.4 882.8,908.2 884.3,908.4 885.8,908.2 887.3,907.9 888.8,907.8 890.3,907.2 890.7,907 891.2,906.9 891.7,906.8 891.8,906.8 892.2,906.7 892.7,906.6 893.2,906.4 893.3,906.3 893.7,906 894.2,905.7 894.7,905.3 894.8,905.2 895.2,905 895.7,904.8 896.2,904.5 896.3,904.4 896.7,904.2 897.2,903.7 897.7,903.2 897.8,903.1 898.2,902.6 898.7,902 899.2,901.4 899.3,901.2 899.7,900.6 900.2,899.9 900.7,899 900.8,898.8 901.2,897.9 901.7,896.7 902.2,895.4 902.3,895.2 902.7,894 903.2,892.5 903.7,890.9 903.8,890.5 904.2,889.1 904.7,887.3 905.2,885.4 905.3,885 905.7,883.3 906.2,881.2 906.7,879 906.8,878.5 907.2,876.6 907.7,874.1 908.2,871.5 908.3,870.9 908.7,868.8 909.2,866.2 909.7,863.6 909.8,863.1 910.2,861 910.7,858.4 911.2,855.9 911.3,855.4 911.7,853.5 912.2,851.3 912.7,849.2 912.8,848.8 913.2,847.3 913.7,845.7 914.2,844.3 914.3,844.1 914.7,843.3 915.2,842.7 915.7,842.4 915.8,842.4 916.2,842.5 916.7,843 917.2,843.9 917.3,844.1 917.7,845.1 918.2,846.6 918.7,848.3 918.8,848.7 919.2,850.2 919.7,852.2 920.2,854.4 920.3,854.9 920.7,856.7 921.2,859.1 921.7,861.6 921.8,862 922.2,864 922.7,866.4 923.2,868.8 923.3,869.2 923.7,871 924.2,873.2 924.7,875.2 924.8,875.6 925.2,877.1 925.7,878.7 926.2,880.3 926.3,880.5 926.7,881.6 927.2,882.8 927.7,883.7 927.8,883.9 928.2,884.5 928.7,885.1 929.2,885.5 929.3,885.6 929.7,885.8 930.2,885.9 930.7,885.8 930.8,885.8 931.2,885.7 931.7,885.5 932.2,885.2 932.3,885.1 932.7,884.8 933.2,884.1 933.7,883.4 933.8,883.2 934.2,882.6 934.7,881.7 935.2,880.9 935.3,880.7 935.7,880.1 936.2,879.2 936.7,878.4 936.8,878.2 937.2,877.5 937.7,876.6 938.2,875.8 938.3,875.6 938.7,875.1 939.2,874.6 939.7,874.3 939.8,874.3 940.2,874.2 940.7,874.3 941.2,874.5 941.3,874.6 941.7,875 942.2,875.6 942.7,876.4 942.8,876.6 943.2,877.2 943.7,878.1 944.2,879.1 944.3,879.3 944.7,880.2 945.2,881.5 945.7,882.8 945.8,883.1 946.2,884.2 946.7,885.5 947.2,887 947.3,887.3 947.7,888.5 948.2,890 948.7,891.4 948.8,891.7 949.2,892.7 949.7,893.9 950.2,895.1 950.3,895.3 950.7,896.2 951.2,897.2 951.7,898.2 951.8,898.3 952.2,899 952.7,899.9 953.2,900.7 953.3,900.8 953.7,901.4 954.2,902.1 954.7,902.7 954.8,902.8 955.2,903.2 955.7,903.7 956.2,904.1 956.3,904.2 956.7,904.5 957.2,905 957.7,905.4 957.8,905.5 958.2,905.9 958.7,906.3 959.2,906.6 959.3,906.6 959.7,906.8 960.2,907 960.8,907.2 962.3,907.7 963.8,907.9 965.3,908.1 966.8,908.5 968.3,908.6 969.8,908.8 971.3,909.1 972.8,909.4 974.3,909.3 975.8,909 977.3,908.9 978.8,909.1 980.3,909 981.8,909.2 983.3,909.4 984.8,909.8 986.3,909.8 987.8,909.7 989.3,909.6 990.8,909.9 992.3,909.7 993.8,909.5 995.3,909.5 996.8,909.5 998.3,909.6 999.8,910 1001.3,910.2 1002.8,909.6 1004.3,910.2 1005.8,910.4 1007.3,910.3 1008.8,910 1010.3,910.1 1011.8,910 1013.3,910 1014.8,910.1 1016.3,910.3 1017.8,910.2 1019.3,910.2 1020.8,910.4 1022.3,910.5 1023.8,910.4 1025.3,910.3 1026.8,910.3 1028.3,910.2 1029.8,910.3 1031.3,910.2 1032.8,909.9 1034.3,910.2 1035.8,910.3 1037.3,910.2 1038.8,910 1040.3,910.7 1041.8,910.4 1043.3,910 1044.8,910 1046.3,910.3 1047.8,910.1 1049.3,909.8 1050.8,910.1 1052.3,909.9 1053.8,910 1055.3,910.1 1056.8,910.3 1058.3,910.4 1059.8,910.5 1061.3,910.6 1062.8,910.6 1064.3,910.6 1065.8,910.6 1067.3,910.4 1068.8,910.2 1070.3,910.5 1071.8,910.4 1073.3,910.2 1074.8,910.2 1076.3,910.6 1077.8,910.7 1079.3,910.5 1080.8,910.4 1082.3,910.5 1083.8,910.6 1085.3,910.5 1086.8,910 1088.3,910.3 1089.8,910.2 1091.3,910.1 1092.8,910.4 1094.3,910.3 1095.8,910.5 1097.3,910.7 1098.8,910.5 1100.3,910.3 1101.8,910.3 1103.3,910.3 1104.8,910.1 1106.3,910.3 1107.8,910.5 1109.3,910.5 1110.8,910.5 1112.3,910 1113.8,910.1 1115.3,910.4 1116.8,910.5 1118.3,910.5 1119.8,910.6 1121.3,910.6 1122.8,910.1 1124.3,910.4 1125.8,910.4 1127.3,910.3 1128.8,910.5 1130.3,910.5 1131.8,910.6 1133.3,910.5 1134.8,910.3 1136.3,910.4 1137.8,910.3 1139.3,910.1 1140.8,910 1142.3,910.4 1143.8,910.5 1145.3,910.3 1146.8,910 1148.3,910.1 1149.8,910.3 1151.3,910.5 1152.8,910.9 1154.3,910.8 1155.8,910.7 1157.3,910.5 1158.8,909.9 1160.3,910.3 1161.8,910.5 1163.3,910.6 1164.8,910.5 1166.3,910.5 1167.8,910.5 1169.3,910.5 1170.8,910.9 1172.3,910.9 1173.8,910.6 1175.3,910.3 1176.8,910.2 1178.3,910.8 1179.8,910.6 1181.3,910.4 1182.8,910.8 1184.3,910.9 1185.8,910.6 1187.3,910.3 1188.8,910.5 1190.3,910.4 1191.8,910.5 1193.3,910.6 1194.8,910.5 1196.3,910.9 1197.8,910.8 1199.3,910.6 1200.8,910.4 1202.3,910.7 1203.8,910.6 1205.3,910.4 1206.8,910.3 1208.3,910.9 1209.8,910.6 1211.3,910.2 1212.8,910.3 1214.3,910.4 1215.8,910.3 1217.3,910.1 1218.8,909.9 1220.3,910.5 1221.8,910.5 1223.3,910.2 1224.8,910.3 1226.3,910.3 1227.8,910.3 1229.3,910.2 1230.8,910.2 1232.3,910.4 1233.8,910.8 1235.3,911 1236.8,910.7 1238.3,910.7 1239.8,910.3 1241.3,910.1 1242.8,910.4 1244.3,910.2 1245.8,910.4 1247.3,910.6 1248.8,910.4 1250.3,910.4 1251.8,910.4 1253.3,910.4 1254.8,910.3 1256.3,910.1 1257.8,910.3 1259.3,910.5 1260.8,910.1" fill="none" stroke="#800000" stroke-width="5.2" stroke-linejoin="round"/>
<path clip-path="url(#cl)" d="M119.5,997.9L121.5,998.3 123.5,998.2 125.5,998.3 127.5,998.3 129.5,998.7 131.5,997.9 133.5,998.7 135.5,998.3 137.5,998.3 139.5,998.7 141.5,998.7 143.5,999 145.5,999.2 147.5,998.2 149.5,998.9 151.5,999.6 153.5,999.3 155.5,999.5 157.5,999.1 159.5,998.6 161.5,998.7 163.5,999.3 165.5,999.4 167.5,998.9 169.5,999 171.5,999.1 173.5,998.4 175.5,998.8 177.5,999.3 179.5,999.3 181,998.4 181.2,998.3 181.5,998.1 181.8,998.1 182,998.1 182.2,998.1 182.5,998 182.8,998 183,997.9 183.2,997.9 183.5,997.8 183.8,997.5 184,997.1 184.2,996.8 184.5,996.4 184.8,995.9 185,995.4 185.2,994.8 185.5,994.1 185.8,993.3 186,992.4 186.2,991.1 186.5,989.1 186.8,985.7 187,979.3 187.2,966.8 187.5,943.3 187.8,903.1 188,841.9 188.2,760.4 188.5,667.9 188.8,583.6 189,532.9 189.2,534 189.5,585.7 189.8,669.7 190,761.4 190.2,842.1 190.5,902.8 190.8,942.9 191,966.5 191.2,979.4 191.5,986.1 191.8,989.5 192,991.4 192.2,992.7 192.5,993.6 192.8,994.3 193,994.9 193.2,995.3 193.5,995.7 193.8,996.2 194,996.6 194.2,997 194.5,997.3 194.8,997.6 195,997.9 195.2,998.2 195.5,998.4 195.8,998.5 196,998.5 196.2,998.5 196.5,998.6 196.8,998.6 197,998.5 197.2,998.5 197.5,998.5 197.8,998.6 199.5,998.8 201.5,998.4 203.5,999.6 205.5,999 207.5,999.2 209.5,998.6 211.5,999.6 213.5,999.6 215.5,999.1 217.5,999.4 219.5,999.5 221.5,999.7 223.5,999.4 225.5,1000 227.5,999.3 229.5,999.2 231.5,999.3 233.5,998.6 235.5,999.2 237.5,999.8 239.5,999.5 241.5,999.2 243.5,999.6 245.5,998.8 247.5,999.4 249.5,999.6 251.5,999.7 253.5,999.2 255.5,999.7 257.5,1000.1 259.5,999.3 261.5,999.7 263.5,999 265.5,998.8 267.5,999.7 269.5,999.5 271.5,999.5 273.5,999.3 275.5,999.4 277.5,999.7 279.5,1000 281.5,999.4 283.5,998.9 285.5,999.9 287.5,999.6 289.5,999.7 291.5,999.5 293.5,1000.2 295.5,999.5 297.5,999.6 299.5,998.8 301.5,999.2 303.5,999.2 305.5,999.4 307.5,999.5 309.5,999.2 311.5,999.9 313.5,999 315.5,999.2 317.5,999.3 319.5,998.8 320.7,999 320.9,999.1 321.2,999.1 321.4,999.2 321.5,999.2 321.7,999.1 321.9,999.1 322.2,999.1 322.4,999 322.7,999 322.9,998.9 323.2,998.9 323.4,998.8 323.5,998.8 323.7,998.7 323.9,998.6 324.2,998.4 324.4,998.2 324.7,998 324.9,997.8 325.2,997.6 325.4,997.3 325.5,997.2 325.7,997 325.9,996.6 326.2,996.1 326.4,995 326.7,992.9 326.9,988.7 327.2,980.9 327.4,967.7 327.5,964.3 327.7,947.6 327.9,920.9 328.2,890.4 328.4,861.9 328.7,842.8 328.9,838.2 329.2,847.8 329.4,868.2 329.5,873.2 329.7,895 329.9,922.8 330.2,947.2 330.4,966 330.7,979 330.9,987.2 331.2,991.9 331.4,994.4 331.5,994.8 331.7,995.7 331.9,996.5 332.2,996.9 332.4,997.2 332.7,997.4 332.9,997.6 333.2,997.7 333.3,997.8 333.4,997.8 333.5,997.8 333.6,997.9 333.7,997.9 333.8,997.9 333.9,998 334.1,998 334.2,998 334.3,998.1 334.4,998.1 334.6,998.1 334.7,998.1 334.8,998.1 334.9,998.2 335.1,998.2 335.2,998.2 335.3,998.2 335.4,998.2 335.5,998.2 335.6,998.2 335.7,998.2 335.8,998.3 335.9,998.3 336.1,998.3 336.2,998.4 336.3,998.4 336.4,998.4 336.6,998.5 336.7,998.5 336.8,998.5 336.9,998.5 337.1,998.6 337.2,998.6 337.3,998.6 337.4,998.6 337.5,998.6 337.6,998.6 337.8,998.6 338.1,998.6 338.3,998.5 338.6,998.5 338.8,998.4 339.1,998.2 339.3,997.8 339.5,997.2 339.6,997 339.8,995.6 340.1,993.1 340.3,989.3 340.6,984.4 340.8,978.7 341.1,973.4 341.3,969.9 341.5,968.9 341.6,969 341.8,970.8 342.1,974.5 342.3,979.4 342.6,984.6 342.8,989.2 343.1,992.9 343.3,995.5 343.5,996.9 343.6,997.1 343.8,997.9 344.1,998.3 344.3,998.5 344.6,998.5 344.8,998.5 345.1,998.4 345.3,998.4 345.5,998.3 345.6,998.3 345.8,998.4 346.1,998.5 346.3,998.6 346.6,998.6 346.8,998.7 347.1,998.8 347.3,998.8 347.5,998.9 347.6,998.9 347.8,998.9 348.1,998.8 348.3,998.8 348.6,998.8 348.8,998.8 349.1,998.8 349.3,998.8 349.5,998.7 349.6,998.8 349.8,998.9 350.1,999 351.5,999.8 353.5,999.2 355.5,999.2 357.5,999 359.5,999.7 361.5,999.3 363.5,999.5 365.5,998.8 367.5,999.8 369.5,999.5 371.5,999.6 373.5,999.8 375.5,999.3 377.5,999.2 379.5,999.5 381.5,999.3 382.7,999 382.9,999 383.2,998.9 383.4,998.9 383.5,998.8 383.7,998.8 383.9,998.8 384.2,998.8 384.4,998.7 384.7,998.7 384.9,998.6 385.2,998.6 385.4,998.5 385.5,998.5 385.7,998.4 385.9,998.3 386.2,998.1 386.4,997.9 386.7,997.8 386.9,997.5 387.2,997.3 387.4,997 387.5,996.9 387.7,996.6 387.9,996.2 388.2,995.4 388.4,994.2 388.7,991.7 388.9,986.9 389.2,978.1 389.4,963.3 389.5,959.5 389.7,941 389.9,911.8 390.2,878.9 390.4,848.4 390.7,828.3 390.9,823.4 391.2,832.2 391.4,850.6 391.5,855.1 391.7,875.2 391.9,902.8 392.2,929.4 392.4,951.9 392.7,968.9 392.9,980.7 393.2,988 393.4,992.1 393.5,992.7 393.7,994.5 393.9,995.8 394.2,996.6 394.4,997.2 394.7,997.6 394.9,998 395.2,998.3 395.4,998.5 395.5,998.6 395.7,998.6 395.9,998.6 396.2,998.6 396.4,998.5 396.7,998.5 396.9,998.4 397.2,998.3 397.4,998.3 397.5,998.3 397.7,998.3 397.9,998.4 398.2,998.5 398.4,998.6 398.7,998.7 398.9,998.8 399.2,998.9 399.4,999 399.5,999 401.5,999.7 403.5,999.1 405.5,998.8 407.5,999.8 409.5,999.5 411.5,999 413.5,999.6 415.5,999 416.3,999 416.6,999 416.8,999 417.1,998.9 417.3,998.9 417.5,998.9 417.6,998.9 417.8,998.9 418.1,999 418.3,999 418.6,999.1 418.8,999.1 419.1,999.1 419.3,999.2 419.5,999.2 419.6,999.2 419.8,999.1 420.1,999.1 420.3,999.1 420.6,999 420.8,999 421.1,998.9 421.3,998.8 421.5,998.7 421.6,998.7 421.8,998.6 422.1,998.3 422.3,997.9 422.6,997 422.8,995.4 423.1,992.8 423.3,989 423.5,985 423.6,984 423.8,978.4 424.1,973.3 424.3,970.1 424.6,969.4 424.8,970.8 425.1,973.7 425.3,977.5 425.5,980.9 425.6,981.7 425.8,986.1 426.1,989.9 426.3,993.1 426.6,995.3 426.8,996.8 427.1,997.7 427.3,998.2 427.5,998.4 427.6,998.4 427.8,998.6 428.1,998.8 428.3,998.9 428.6,999 428.8,999 429.1,999.1 429.3,999.2 429.5,999.3 429.6,999.3 429.8,999.3 430.1,999.3 430.3,999.3 430.6,999.3 430.8,999.3 431.1,999.3 431.3,999.3 431.5,999.3 431.6,999.3 431.8,999.4 432.1,999.4 432.3,999.5 432.6,999.5 432.8,999.5 433.1,999.6 433.5,999.6 435.5,999.3 437.5,999 439.5,999 441.5,999.4 443.5,999.9 445.5,999.7 447.5,999.3 449.5,999.8 451.5,999.1 453.5,999.8 455.5,999.3 457.5,999.7 459.5,999.7 461.5,999.4 463.5,999.6 465.5,999.1 467.5,999.4 469.5,999.8 471.5,1000.8 473.5,999.7 475.5,999.5 477.5,999.1 479.5,999.8 481.5,998.9 483.5,999.2 485.5,999.6 487.5,999.1 489.5,999.9 491.5,999.8 493.5,999.2 495.5,999.2 495.6,999.1 495.9,999.1 496.1,999.1 496.4,999 496.6,999 496.9,998.9 497.1,998.9 497.4,998.9 497.5,998.8 497.6,998.8 497.9,998.8 498.1,998.8 498.4,998.7 498.6,998.7 498.9,998.7 499.1,998.6 499.4,998.6 499.5,998.6 499.6,998.6 499.9,998.6 500.1,998.6 500.4,998.6 500.6,998.5 500.9,998.4 501.1,998.3 501.4,997.9 501.5,997.6 501.6,997.2 501.9,995.7 502.1,993 502.4,988.5 502.6,981.7 502.9,973.1 503.1,963.6 503.4,955.3 503.5,951.8 503.6,950.4 503.9,950 504.1,952.9 504.4,957.3 504.6,961.9 504.9,966.8 505.1,972.4 505.4,978.4 505.5,982 505.6,984.2 505.9,989.2 506.1,992.9 506.4,995.5 506.6,997 506.9,997.9 507.1,998.4 507.4,998.6 507.5,998.7 507.6,998.8 507.9,998.8 508.1,998.9 508.4,998.9 508.6,998.9 508.9,999 509.1,999 509.4,999 509.5,999 509.6,999 509.9,999.1 510.1,999.1 510.4,999.2 510.6,999.2 510.9,999.3 511.1,999.3 511.4,999.4 511.5,999.4 511.6,999.4 511.9,999.3 512.1,999.3 512.4,999.2 513.5,998.9 515.5,999.4 517.5,999.9 519.5,999.8 521.5,999.3 523.5,999.3 525.5,999.9 527.5,1000 529.5,998.9 531.5,999.3 533.5,999.5 535.5,999.8 537.5,999.1 539.5,999.5 541.4,999.2 541.5,999.1 541.6,999.2 541.9,999.3 542.1,999.4 542.4,999.5 542.6,999.5 542.9,999.6 543.1,999.7 543.4,999.8 543.5,999.8 543.6,999.7 543.9,999.6 544.1,999.5 544.4,999.4 544.6,999.2 544.9,999.1 545.1,998.9 545.4,998.8 545.5,998.7 545.6,998.6 545.9,998.5 546.1,998.3 546.4,998.1 546.6,997.8 546.9,997.4 547.1,996.6 547.4,995.2 547.5,994.4 547.6,992.6 547.9,987.8 548.1,979.7 548.4,967.9 548.6,952.7 548.9,936.3 549.1,922.3 549.4,914.6 549.5,913.9 549.6,915.1 549.9,921.3 550.1,929.4 550.4,936.6 550.6,942.8 550.9,949.7 551.1,958.1 551.4,967.7 551.5,971.5 551.6,976.8 551.9,984.5 552.1,990.1 552.4,993.8 552.6,996 552.9,997.2 553.1,997.8 553.4,998.2 553.5,998.3 553.6,998.4 553.9,998.5 554.1,998.5 554.4,998.6 554.6,998.6 554.9,998.6 555.1,998.6 555.4,998.6 555.5,998.6 555.6,998.6 555.9,998.7 556.1,998.8 556.4,998.9 556.6,999 556.9,999.1 557.1,999.1 557.4,999.2 557.5,999.2 557.6,999.2 557.9,999.2 558.1,999.1 559.5,998.8 561.5,999.1 563.5,998.9 565.5,998.9 567.5,999.1 567.8,999.1 568,999.1 568.3,999.1 568.5,999.1 568.8,999 569,999 569.3,999 569.5,999 569.5,999 569.8,999 570,999.1 570.3,999.1 570.5,999.2 570.8,999.2 571,999.3 571.3,999.3 571.5,999.3 571.5,999.3 571.8,999.3 572,999.3 572.3,999.3 572.5,999.2 572.8,999.1 573,999.1 573.3,998.9 573.5,998.7 573.5,998.7 573.8,998.1 574,997.1 574.3,995.4 574.5,992.4 574.8,988.1 575,982.5 575.3,976.6 575.5,972.4 575.5,971.6 575.8,969 576,969.3 576.3,971.8 576.5,974.8 576.8,977.3 577,979.1 577.3,980.9 577.5,982.7 577.5,983.3 577.8,986.5 578,989.8 578.3,992.9 578.5,995.3 578.8,996.9 579,998 579.3,998.6 579.5,998.9 579.5,999 579.8,999 580,999 580.3,998.9 580.5,998.9 580.8,998.8 581,998.7 581.3,998.6 581.5,998.6 581.5,998.6 581.8,998.6 582,998.6 582.3,998.6 582.5,998.7 582.8,998.7 583,998.7 583.3,998.7 583.5,998.7 583.5,998.7 583.8,998.9 584,999 584.3,999.1 584.5,999.2 585.5,999.6 587.5,999.6 589.5,999.7 591.5,999.4 593.5,999 595.5,999.3 597.5,999.6 599.5,999.2 601.5,999.2 603.5,999 605.5,999.1 607.5,999.7 609.5,999.6 611.5,999.1 613.5,999.1 615.5,999.3 617.5,999.6 619.5,999.1 621.5,999.4 623.5,998.8 625.5,999.1 627.5,999.6 629.5,999.8 631.5,999.1 633.5,999.2 634.8,999.5 635,999.6 635.3,999.6 635.5,999.7 635.5,999.7 635.8,999.6 636,999.6 636.3,999.5 636.5,999.5 636.8,999.4 637,999.4 637.3,999.3 637.5,999.3 637.5,999.3 637.8,999.3 638,999.3 638.3,999.2 638.5,999.2 638.8,999.2 639,999.2 639.3,999.2 639.5,999.1 639.5,999.2 639.8,999.2 640,999.2 640.3,999.2 640.5,999.1 640.8,999 641,998.7 641.3,998.2 641.5,997.5 641.5,997.3 641.8,995.8 642,994 642.3,992 642.5,990.4 642.8,989.7 643,990 643.3,991.1 643.5,992 643.5,992.3 643.8,993.1 643.8,993.2 644,993.6 644,993.7 644.2,993.9 644.3,993.9 644.5,994.1 644.5,994.1 644.8,994.6 644.8,994.7 645,995.4 645,995.6 645.2,996.5 645.3,996.7 645.5,997.5 645.5,997.6 645.8,998.3 645.8,998.4 646,998.8 646,998.9 646.2,999.2 646.3,999.2 646.5,999.3 646.5,999.4 646.8,999.4 646.8,999.5 647,999.5 647,999.5 647.2,999.5 647.3,999.5 647.5,999.5 647.5,999.5 647.8,999.4 647.8,999.4 648,999.4 648,999.4 648.2,999.3 648.3,999.3 648.5,999.2 648.5,999.2 648.8,999.2 648.8,999.1 649,999.1 649,999 649.2,998.9 649.3,998.9 649.5,998.7 649.5,998.6 649.8,998.4 649.8,998.3 650,997.8 650,997.6 650.2,996.7 650.3,996.5 650.5,995.2 650.5,994.8 650.8,993.2 650.8,992.8 651,991.1 651,990.7 651.2,989.4 651.3,989.2 651.5,988.7 651.5,988.6 651.8,989 652,990.2 652.2,991.6 652.5,992.6 652.8,993.2 653,993.3 653.2,993.4 653.5,993.9 653.8,994.8 654,995.8 654.2,996.8 654.5,997.6 654.8,998.2 655,998.5 655.2,998.7 655.5,998.8 655.8,998.8 656,998.9 656.2,998.9 656.5,999 656.8,999 657,999 657.2,999.1 657.5,999.1 657.8,999.2 658,999.2 658.2,999.3 658.5,999.4 658.8,999.5 659,999.6 659.2,999.7 659.5,999.7 659.8,999.6 660,999.5 660.2,999.4 661.5,998.9 663.5,999.8 665.5,999.6 667.5,999.4 669.5,999.6 671.5,999.6 672,999.7" fill="none" stroke="#e8222f" stroke-width="5.2" stroke-linejoin="round"/>
<path clip-path="url(#cr)" d="M708.8,1000.1L710.3,1000.6 711.8,1000.6 713.3,1000.3 714.8,999.9 716.3,1000 717.8,1000 719.3,1000 720.8,1000.2 722.3,1000.2 723.8,1000.5 725.3,1000.5 726.8,999.6 728.3,1000.2 729.8,1000.4 731.3,1000.2 732.8,999.9 734.3,1000.1 735.8,1000.1 737.3,1000 738.8,1000.2 740.3,1000.3 741.8,1000.1 743.3,999.9 744.8,1000.5 746.3,1000.1 747.8,1000.3 749.3,1000.5 750.8,1000.2 752.3,1000.4 753.8,1000.4 755.3,1000.3 756.8,1000.4 758.3,1000.2 759.8,1000 761.3,1000 762.8,1000.3 764.3,1000.3 765.8,1000.5 767.3,1000.4 768.8,999.5 770.3,999.9 771.8,1000.2 773.3,1000.2 774.8,999.7 776.3,999.9 777.8,1000.3 779.3,1000.6 780.8,1000.4 782.3,999.9 783.8,1000.1 785.3,1000.4 786.8,1000.3 788.3,1000.2 789.8,1000.1 791.3,1000.1 792.8,1000 794.3,999.8 795.8,999.7 797.3,999.9 798.8,1000.1 800.3,1000 801.8,1000.2 803.3,1000.3 804.8,999.8 806.3,999.3 807.8,999.5 809.3,999.8 810.8,999.9 812.3,999.9 813.8,999.9 815.3,999.7 816.8,999.5 818.3,1000 819.8,999.8 821.3,999.6 822.8,999.9 824.3,999.6 825.8,999.4 827.3,999.5 828.8,1000 830.3,999.1 831.8,999.1 833.3,999.3 834.8,999.6 836.3,999.4 837.8,999.4 839.3,999.5 840.8,999.3 842.3,999.1 843.8,999.4 845.3,999.6 846.8,999 848.3,999 849.8,998.8 851.3,998.6 852.8,998.6 854.3,998.8 855.8,998.8 857.3,998.6 858.8,998.4 860.3,998.1 861.8,998.1 863.3,998 864.8,997.3 866.3,997.4 867.8,997.2 869.3,996.9 870.8,996.5 872.3,996.3 873.8,995.8 875.3,995.1 875.8,994.9 876.3,994.6 876.8,994.3 877.3,994.2 877.8,994 878.3,993.8 878.8,993.6 879.3,993.1 879.8,992.5 880.3,991.8 880.8,991.1 881.3,990.5 881.8,989.8 882.3,989 882.8,988.1 883.3,987 883.8,985.8 884.3,984.6 884.8,983.2 885.3,981.9 885.8,980.4 886.3,978.8 886.8,977.1 887.3,975.3 887.8,973.3 888.3,971.1 888.8,968.9 889.3,966.5 889.8,964.1 890.3,961.6 890.8,958.9 891.3,956.2 891.8,953.5 892.3,950.7 892.8,947.8 893.3,944.6 893.8,941.5 894.3,938.3 894.8,935.2 895.3,932.4 895.8,929.7 896.3,927.2 896.8,924.8 897.3,922.6 897.8,920.6 898.3,918.9 898.8,917.5 899.3,916.3 899.8,915.4 900.3,914.8 900.8,914.7 901.3,915.3 901.8,916.2 902.3,917.5 902.8,919.1 903.3,920.9 903.8,922.9 904.3,925.1 904.8,927.5 905.3,930 905.8,932.5 906.3,935.1 906.8,937.7 907.3,940.1 907.8,942.5 908.3,944.9 908.8,947.1 909.3,949.4 909.8,951.7 910.3,953.7 910.8,955.7 911.3,957.3 911.8,958.8 912.3,960.1 912.8,961.2 913.3,962 913.8,962.6 914.3,963.1 914.8,963.3 915.3,963.7 915.8,963.9 916.3,963.9 916.8,963.8 917.3,963.5 917.8,963 918.3,962.5 918.8,961.8 919.3,961 919.8,960.2 920.3,959.3 920.8,958.4 921.3,957.5 921.8,956.7 922.3,955.9 922.8,955.3 923.3,955 923.8,954.8 924.3,954.8 924.8,954.9 925.3,954.9 925.8,955.1 926.3,955.5 926.8,956 927.3,956.8 927.8,957.7 928.3,958.8 928.8,959.9 929.3,961.3 929.8,962.7 930.3,964.2 930.8,965.7 931.3,967.2 931.8,968.7 932.3,970.2 932.8,971.7 933.3,973.3 933.8,974.9 934.3,976.5 934.8,978 935.3,979.4 935.8,980.7 936.3,982 936.8,983.2 937.3,984.4 937.8,985.5 938.3,986.5 938.8,987.5 939.3,988.4 939.8,989.2 940.3,990 940.8,990.6 941.3,991.2 941.8,991.7 942.3,992.2 942.8,992.7 943.3,993.2 943.8,993.7 944.3,994.1 944.8,994.5 945.8,995.3 947.3,996.1 948.8,996.4 950.3,997.6 951.8,997.7 953.3,997.5 954.8,997.6 956.3,998.2 957.8,998.4 959.3,998.5 960.8,998.4 962.3,998.5 963.8,998.7 965.3,998.9 966.8,999.1 968.3,999.2 969.8,999.1 971.3,999 972.8,999.3 974.3,999.4 975.8,999.5 977.3,999.2 978.8,998.5 980.3,999 981.8,999.2 983.3,999.3 984.8,999.4 986.3,999.6 987.8,999.7 989.3,999.8 990.8,999.8 992.3,999.7 993.8,999.7 995.3,999.8 996.8,1000.2 998.3,999.7 999.8,999.7 1001.3,999.9 1002.8,1000.2 1004.3,1000 1005.8,999.6 1007.3,999.4 1008.8,1000 1010.3,999.8 1011.8,999.8 1013.3,999.9 1014.8,1000.2 1016.3,1000.1 1017.8,1000 1019.3,999.9 1020.8,1000.2 1022.3,1000.1 1023.8,1000 1025.3,1000 1026.8,1000.1 1028.3,1000.1 1029.8,1000 1031.3,999.9 1032.8,999.9 1034.3,1000 1035.8,999.9 1037.3,999.7 1038.8,999.7 1040.3,1000.2 1041.8,1000.2 1043.3,1000 1044.8,1000.1 1046.3,1000 1047.8,1000.1 1049.3,1000.1 1050.8,1000.1 1052.3,1000.1 1053.8,1000 1055.3,1000 1056.8,1000.4 1058.3,1000 1059.8,1000.2 1061.3,1000.2 1062.8,999.6 1064.3,999.8 1065.8,1000.1 1067.3,1000.3 1068.8,1000.1 1070.3,1000 1071.8,1000.1 1073.3,1000.1 1074.8,999.8 1076.3,1000.1 1077.8,999.8 1079.3,999.7 1080.8,1000 1082.3,1000 1083.8,1000.1 1085.3,1000.3 1086.8,1000.4 1088.3,1000 1089.8,1000.3 1091.3,1000.5 1092.8,1000 1094.3,999.7 1095.8,999.6 1097.3,999.8 1098.8,1000.6 1100.3,1000.3 1101.8,1000.1 1103.3,1000 1104.8,1000 1106.3,999.9 1107.8,1000.2 1109.3,1000.5 1110.8,1000.2 1112.3,1000.6 1113.8,1000.4 1115.3,1000 1116.8,999.5 1118.3,1000.2 1119.8,1000.3 1121.3,1000.1 1122.8,1000.1 1124.3,1000.5 1125.8,1000.4 1127.3,1000.2 1128.8,1000.5 1130.3,1000.3 1131.8,1000.1 1133.3,1000.1 1134.8,1000.4 1136.3,1000.1 1137.8,1000.3 1139.3,1000.5 1140.8,1000.5 1142.3,1000.3 1143.8,1000.3 1145.3,1000.4 1146.8,1000.4 1148.3,1000.2 1149.8,1000.3 1151.3,1000.4 1152.8,1000.2 1154.3,1000.3 1155.8,1000.2 1157.3,1000 1158.8,1000.3 1160.3,1000.3 1161.8,1000.2 1163.3,1000 1164.8,1000.1 1166.3,1000.1 1167.8,1000.3 1169.3,1000.3 1170.8,1000 1172.3,1000.3 1173.8,1000.5 1175.3,1000.6 1176.8,1000.3 1178.3,999.9 1179.8,1000 1181.3,1000.3 1182.8,1000.5 1184.3,1000.3 1185.8,1000.4 1187.3,1000.5 1188.8,1000.4 1190.3,1000.4 1191.8,1000.3 1193.3,1000.2 1194.8,1000.1 1196.3,1000.2 1197.8,1000.2 1199.3,1000.3 1200.8,1000.4 1202.3,1000.4 1203.8,1000.3 1205.3,1000.2 1206.8,1000.3 1208.3,1000.3 1209.8,1000.1 1211.3,999.9 1212.8,1000 1214.3,1000 1215.8,1000.1 1217.3,1000.2 1218.8,1000.2 1220.3,1000.2 1221.8,1000.1 1223.3,1000.1 1224.8,1000.4 1226.3,1000.4 1227.8,1000.1 1229.3,999.9 1230.8,1000.3 1232.3,1000 1233.8,1000.3 1235.3,1000.6 1236.8,1000.1 1238.3,1000.1 1239.8,1000.2 1241.3,1000.3 1242.8,1000.2 1244.3,1000.2 1245.8,1000.5 1247.3,1000.6 1248.8,1000.3 1250.3,1000.5 1251.8,1000.5 1253.3,1000.4 1254.8,1000 1256.3,1000.6 1257.8,1000.6 1259.3,1000.5 1260.8,1000.5" fill="none" stroke="#e8222f" stroke-width="5.2" stroke-linejoin="round"/>
<path clip-path="url(#cl)" d="M119.5,1086.7L121.5,1087.7 123.5,1087.3 125.5,1087.2 127.5,1087.4 129.5,1087.7 131.5,1087.9 133.5,1087.8 135.5,1088 137.5,1088.2 139.5,1087.4 141.5,1087.7 143.5,1087.6 145.5,1087.9 147.5,1088.4 149.5,1088.2 151.5,1087.7 153.5,1088 155.5,1088.4 157.5,1087.9 159.5,1088.1 161.5,1088.2 163.5,1087.6 165.5,1088.4 167.5,1088.3 169.5,1088.4 171.5,1087.8 173.5,1087.9 175.5,1087.9 177.5,1088.1 179.5,1087.9 181,1087.7 181.2,1087.7 181.5,1087.6 181.8,1087.6 182,1087.6 182.2,1087.7 182.5,1087.6 182.8,1087.6 183,1087.6 183.2,1087.6 183.5,1087.5 183.8,1087.4 184,1087.2 184.2,1087 184.5,1086.8 184.8,1086.5 185,1086.2 185.2,1085.9 185.5,1085.5 185.8,1084.9 186,1084.2 186.2,1083.3 186.5,1081.9 186.8,1079.6 187,1075.4 187.2,1067.1 187.5,1051.6 187.8,1025.4 188,985.4 188.2,932.1 188.5,871.6 188.8,816.5 189,783.3 189.2,784.1 189.5,818 189.8,872.9 190,932.9 190.2,985.8 190.5,1025.5 190.8,1051.7 191,1067.2 191.2,1075.7 191.5,1080.1 191.8,1082.3 192,1083.5 192.2,1084.2 192.5,1084.8 192.8,1085.2 193,1085.5 193.2,1085.8 193.5,1086 193.8,1086.3 194,1086.6 194.2,1086.8 194.5,1087 194.8,1087.2 195,1087.4 195.2,1087.6 195.5,1087.8 195.8,1087.8 196,1087.9 196.2,1088 196.5,1088.1 196.8,1088.1 197,1088.2 197.2,1088.2 197.5,1088.3 197.8,1088.2 199.5,1087.8 201.5,1088.1 203.5,1088.3 205.5,1088 207.5,1088 209.5,1088.2 211.5,1088.6 213.5,1088.2 215.5,1088.3 217.5,1088.3 219.5,1088 221.5,1088.9 223.5,1087.7 225.5,1088.2 227.5,1088.6 229.5,1088 231.5,1088.7 233.5,1088.9 235.5,1088.2 237.5,1088.5 239.5,1088.1 241.5,1088.6 243.5,1088.5 245.5,1088.5 247.5,1088.9 249.5,1088.6 251.5,1088.9 253.5,1088.7 255.5,1088.1 257.5,1088.6 259.5,1088.6 261.5,1088 263.5,1088.9 265.5,1088.5 267.5,1088.6 269.5,1088.2 271.5,1088.5 273.5,1088.6 275.5,1088.4 277.5,1088.5 279.5,1087.8 281.5,1088.9 283.5,1088.1 285.5,1087.8 287.5,1088.2 289.5,1088.2 291.5,1088.7 293.5,1088.2 295.5,1088.6 297.5,1088.2 299.5,1089.2 301.5,1088.6 303.5,1089.1 305.5,1088.1 307.5,1088.7 309.5,1088.1 311.5,1088.6 313.5,1088.6 315.5,1087.9 317.5,1088 319.5,1087.9 320.6,1087.7 320.9,1087.7 321.1,1087.7 321.4,1087.6 321.5,1087.6 321.6,1087.6 321.9,1087.6 322.1,1087.6 322.4,1087.6 322.6,1087.6 322.9,1087.6 323.1,1087.6 323.4,1087.5 323.5,1087.5 323.6,1087.5 323.9,1087.4 324.1,1087.3 324.4,1087.2 324.6,1087.1 324.9,1086.9 325.1,1086.7 325.4,1086.5 325.5,1086.4 325.6,1086.2 325.9,1085.9 326.1,1085.3 326.4,1084.3 326.6,1082.6 326.9,1079.1 327.1,1072.8 327.4,1062.2 327.5,1053.3 327.6,1046.2 327.9,1025 328.1,1000.8 328.4,978.2 328.6,963 328.9,959.5 329.1,967.3 329.4,983.7 329.5,996.2 329.6,1005.1 329.9,1027.3 330.1,1046.8 330.4,1061.8 330.6,1072.2 330.9,1078.7 331.1,1082.5 331.4,1084.6 331.5,1085.3 331.6,1085.6 331.9,1086.2 332.1,1086.5 332.4,1086.7 332.6,1086.8 332.9,1086.9 333.1,1087 333.4,1087 333.5,1087.1 333.6,1087.1 333.9,1087.2 334,1087.3 334.1,1087.3 334.2,1087.4 334.4,1087.4 334.5,1087.5 334.6,1087.5 334.8,1087.6 334.9,1087.6 335,1087.6 335.1,1087.7 335.2,1087.7 335.4,1087.7 335.5,1087.8 335.6,1087.8 335.8,1087.8 335.9,1087.8 336,1087.9 336.1,1087.9 336.2,1087.9 336.4,1087.9 336.5,1087.9 336.6,1088 336.8,1088 336.9,1088 337,1088 337.1,1088 337.2,1088 337.4,1088 337.5,1088.1 337.8,1088 338,1088 338.2,1088 338.5,1088 338.8,1087.9 339,1087.9 339.2,1087.8 339.5,1087.7 339.8,1087.6 340,1087.2 340.2,1086.6 340.5,1085.5 340.8,1083.6 341,1080.8 341.2,1077.1 341.5,1072.8 341.8,1068.9 342,1066.3 342.2,1065.8 342.5,1067.1 342.8,1069.9 343,1073.6 343.2,1077.5 343.5,1081 343.8,1083.7 344,1085.6 344.2,1086.8 344.5,1087.5 344.8,1087.9 345,1088.1 345.2,1088.3 345.5,1088.3 345.8,1088.4 346,1088.4 346.2,1088.4 346.5,1088.5 346.8,1088.5 347,1088.5 347.2,1088.5 347.5,1088.5 347.8,1088.5 348,1088.5 348.2,1088.4 348.5,1088.4 348.8,1088.4 349,1088.4 349.2,1088.3 349.5,1088.3 349.8,1088.4 350,1088.5 350.2,1088.6 350.5,1088.7 350.8,1088.8 351.5,1089 353.5,1089 355.5,1088.3 357.5,1088.4 359.5,1088.8 361.5,1088.2 363.5,1088.6 365.5,1088.5 367.5,1088.2 369.5,1088.4 371.5,1087.9 373.5,1088.2 375.5,1087.7 377.5,1089.1 379.5,1088.8 381.5,1088.6 382.4,1088.4 382.6,1088.3 382.9,1088.3 383.1,1088.2 383.4,1088.2 383.5,1088.1 383.6,1088.1 383.9,1088.1 384.1,1088.1 384.4,1088.1 384.6,1088.1 384.9,1088 385.1,1088 385.4,1088 385.5,1087.9 385.6,1087.9 385.9,1087.8 386.1,1087.7 386.4,1087.6 386.6,1087.4 386.9,1087.2 387.1,1087 387.4,1086.7 387.5,1086.6 387.6,1086.3 387.9,1085.7 388.1,1084.7 388.4,1082.7 388.6,1078.9 388.9,1071.9 389.1,1060.1 389.4,1042.5 389.5,1033.9 389.6,1019.5 389.9,993.5 390.1,969.4 390.4,953.5 390.6,949.6 390.9,956.6 391.1,971.1 391.4,990.5 391.5,999.2 391.6,1012.3 391.9,1033.2 392.1,1050.9 392.4,1064.4 392.6,1073.6 392.9,1079.3 393.1,1082.5 393.4,1084.3 393.5,1084.7 393.6,1085.3 393.9,1085.9 394.1,1086.3 394.4,1086.6 394.6,1086.9 394.9,1087.1 395.1,1087.3 395.4,1087.5 395.5,1087.6 395.6,1087.6 395.9,1087.7 396.1,1087.7 396.4,1087.7 396.6,1087.8 396.9,1087.8 397.1,1087.8 397.4,1087.8 397.5,1087.8 397.6,1087.8 397.9,1087.8 398.1,1087.8 398.4,1087.8 398.6,1087.8 398.9,1087.8 399.1,1087.8 399.5,1087.8 401.5,1087.9 403.5,1088.5 405.5,1088.7 407.5,1088 409.5,1089 411.5,1088.9 413.5,1088.3 415.5,1088.3 416,1088.3 416.2,1088.3 416.5,1088.3 416.8,1088.3 417,1088.3 417.2,1088.3 417.5,1088.4 417.8,1088.4 418,1088.4 418.2,1088.5 418.5,1088.5 418.8,1088.5 419,1088.6 419.2,1088.6 419.5,1088.6 419.8,1088.5 420,1088.5 420.2,1088.4 420.5,1088.3 420.8,1088.2 421,1088.1 421.2,1088 421.5,1087.8 421.8,1087.6 422,1087.3 422.2,1086.6 422.5,1085.5 422.8,1083.6 423,1080.7 423.2,1077 423.5,1072.9 423.8,1069.2 424,1066.8 424.2,1066.3 424.5,1067.5 424.8,1069.6 425,1072.4 425.2,1075.6 425.5,1078.9 425.8,1081.6 426,1083.9 426.2,1085.4 426.5,1086.4 426.8,1087 427,1087.3 427.2,1087.4 427.5,1087.4 427.8,1087.6 428,1087.7 428.2,1087.8 428.5,1087.9 428.8,1088.1 429,1088.2 429.2,1088.3 429.5,1088.4 429.8,1088.4 430,1088.5 430.2,1088.5 430.5,1088.6 430.8,1088.6 431,1088.7 431.2,1088.7 431.5,1088.8 431.8,1088.7 432,1088.7 432.2,1088.7 432.5,1088.7 432.8,1088.6 433.5,1088.5 435.5,1088.7 437.5,1088.6 439.5,1088.7 441.5,1088.5 443.5,1088.2 445.5,1088.4 447.5,1088.5 449.5,1088.9 451.5,1089 453.5,1088.6 455.5,1088.2 457.5,1088.2 459.5,1088.4 461.5,1088.9 463.5,1088.6 465.5,1088.5 467.5,1088.2 469.5,1088.8 471.5,1088.6 473.5,1088.5 475.5,1088.5 477.5,1089 479.5,1088.4 481.5,1089 483.5,1088.9 485.5,1088.5 487.5,1088.7 489.5,1088.4 491.5,1088.2 493.5,1088.3 495.5,1088.1 495.6,1088.1 495.9,1088.2 496.1,1088.2 496.4,1088.3 496.6,1088.3 496.9,1088.3 497.1,1088.4 497.4,1088.4 497.5,1088.5 497.6,1088.4 497.9,1088.4 498.1,1088.4 498.4,1088.3 498.6,1088.3 498.9,1088.2 499.1,1088.2 499.4,1088.1 499.5,1088.1 499.6,1088.1 499.9,1088.1 500.1,1088 500.4,1088 500.6,1087.9 500.9,1087.8 501.1,1087.6 501.4,1087.3 501.5,1087 501.6,1086.6 501.9,1085.4 502.1,1083.1 502.4,1079.2 502.6,1073.5 502.9,1066.1 503.1,1058.1 503.4,1051.1 503.5,1048.1 503.6,1046.9 503.9,1046.3 504.1,1048.7 504.4,1052.3 504.6,1056.1 504.9,1060.1 505.1,1064.6 505.4,1069.6 505.5,1072.5 505.6,1074.5 505.9,1078.9 506.1,1082.2 506.4,1084.5 506.6,1085.9 506.9,1086.8 507.1,1087.3 507.4,1087.7 507.5,1087.9 507.6,1087.9 507.9,1087.9 508.1,1087.9 508.4,1087.9 508.6,1087.8 508.9,1087.8 509.1,1087.7 509.4,1087.7 509.5,1087.6 509.6,1087.7 509.9,1087.8 510.1,1087.9 510.4,1088 510.6,1088.1 510.9,1088.2 511.1,1088.3 511.4,1088.3 511.5,1088.4 511.6,1088.4 511.9,1088.3 512.1,1088.3 512.4,1088.3 513.5,1088.1 515.5,1088.5 517.5,1088.9 519.5,1087.9 521.5,1088.5 523.5,1088.4 525.5,1087.8 527.5,1088.7 529.5,1088.5 531.5,1088.3 533.5,1088.2 535.5,1089.5 537.5,1088.3 539.5,1087.8 541.4,1088 541.5,1088 541.6,1088 541.9,1088 542.1,1088 542.4,1088 542.6,1088 542.9,1088 543.1,1088 543.4,1088 543.5,1088 543.6,1088 543.9,1088 544.1,1088 544.4,1087.9 544.6,1087.9 544.9,1087.8 545.1,1087.8 545.4,1087.7 545.5,1087.7 545.6,1087.6 545.9,1087.5 546.1,1087.4 546.4,1087.3 546.6,1087.1 546.9,1086.8 547.1,1086.3 547.4,1085.2 547.5,1084.6 547.6,1083.2 547.9,1079.5 548.1,1073.3 548.4,1064.1 548.6,1052.5 548.9,1039.9 549.1,1029.1 549.4,1023.2 549.5,1022.6 549.6,1023.5 549.9,1028.3 550.1,1034.5 550.4,1040 550.6,1044.9 550.9,1050.1 551.1,1056.7 551.4,1064 551.5,1066.9 551.6,1071 551.9,1076.9 552.1,1081.2 552.4,1084 552.6,1085.6 552.9,1086.5 553.1,1087 553.4,1087.2 553.5,1087.3 553.6,1087.3 553.9,1087.4 554.1,1087.5 554.4,1087.5 554.6,1087.6 554.9,1087.6 555.1,1087.6 555.4,1087.6 555.5,1087.6 555.6,1087.7 555.9,1087.7 556.1,1087.8 556.4,1087.8 556.6,1087.9 556.9,1087.9 557.1,1087.9 557.4,1088 557.5,1088 557.6,1088 557.9,1088 558.1,1088.1 559.5,1088.2 561.5,1088.6 563.5,1088.5 565.5,1088.3 567.5,1088.4 567.8,1088.4 568,1088.4 568.3,1088.4 568.5,1088.4 568.8,1088.4 569,1088.4 569.3,1088.4 569.5,1088.4 569.5,1088.4 569.8,1088.5 570,1088.6 570.3,1088.6 570.5,1088.7 570.8,1088.7 571,1088.8 571.3,1088.9 571.5,1088.9 571.5,1088.9 571.8,1088.7 572,1088.6 572.3,1088.5 572.5,1088.3 572.8,1088.2 573,1088 573.3,1087.7 573.5,1087.5 573.5,1087.5 573.8,1087.1 574,1086.4 574.3,1085.1 574.5,1082.8 574.8,1079.4 575,1075.1 575.3,1070.4 575.5,1067.2 575.5,1066.5 575.8,1064.5 576,1064.8 576.3,1066.8 576.5,1069.2 576.8,1071.2 577,1072.7 577.3,1074.2 577.5,1075.7 577.5,1076.1 577.8,1078.5 578,1081.1 578.3,1083.4 578.5,1085.1 578.8,1086.3 579,1087 579.3,1087.4 579.5,1087.6 579.5,1087.6 579.8,1087.8 580,1087.9 580.3,1088 580.5,1088.1 580.8,1088.2 581,1088.2 581.3,1088.3 581.5,1088.4 581.5,1088.4 581.8,1088.4 582,1088.4 582.3,1088.4 582.5,1088.4 582.8,1088.4 583,1088.4 583.3,1088.4 583.5,1088.4 583.5,1088.4 583.8,1088.4 584,1088.4 584.3,1088.4 584.5,1088.4 585.5,1088.3 587.5,1088.6 589.5,1088.8 591.5,1088.8 593.5,1088.4 595.5,1088.5 597.5,1089.2 599.5,1088.1 601.5,1088.6 603.5,1088.8 605.5,1088.5 607.5,1088.7 609.5,1088.5 611.5,1088.7 613.5,1088.9 615.5,1088.4 617.5,1088.6 619.5,1088.5 621.5,1088.4 623.5,1088.5 625.5,1088.1 627.5,1088.7 629.5,1089 631.5,1089 633.5,1088.9 634.1,1088.7 634.4,1088.6 634.6,1088.5 634.9,1088.4 635.1,1088.3 635.4,1088.2 635.5,1088.1 635.6,1088.2 635.9,1088.3 636.1,1088.4 636.4,1088.5 636.6,1088.6 636.9,1088.7 637.1,1088.8 637.4,1088.9 637.5,1088.9 637.6,1088.9 637.9,1088.8 638.1,1088.7 638.4,1088.6 638.6,1088.5 638.9,1088.4 639.1,1088.3 639.4,1088.1 639.5,1088.1 639.6,1088.1 639.9,1088 640.1,1087.9 640.4,1087.7 640.6,1087.2 640.9,1086.5 641.1,1085.4 641.4,1083.9 641.5,1083 641.6,1082.4 641.9,1081.2 642.1,1080.7 642.4,1081 642.6,1081.9 642.9,1083 642.9,1083.2 643.1,1083.8 643.1,1083.9 643.4,1084.3 643.4,1084.3 643.5,1084.4 643.6,1084.4 643.6,1084.4 643.9,1084.4 643.9,1084.5 644.1,1084.7 644.1,1084.8 644.4,1085.3 644.4,1085.5 644.6,1086 644.6,1086.2 644.9,1086.7 644.9,1086.8 645.1,1087.2 645.1,1087.3 645.4,1087.5 645.4,1087.5 645.5,1087.6 645.6,1087.7 645.6,1087.8 645.9,1087.9 645.9,1088 646.1,1088.1 646.1,1088.1 646.4,1088.2 646.4,1088.2 646.6,1088.3 646.6,1088.3 646.9,1088.4 646.9,1088.4 647.1,1088.5 647.1,1088.5 647.4,1088.5 647.4,1088.5 647.5,1088.6 647.6,1088.6 647.6,1088.6 647.9,1088.5 647.9,1088.5 648.1,1088.5 648.1,1088.5 648.4,1088.4 648.4,1088.4 648.6,1088.3 648.6,1088.3 648.9,1088.2 648.9,1088.2 649.1,1087.9 649.1,1087.9 649.4,1087.5 649.4,1087.3 649.5,1087 649.6,1086.7 649.6,1086.5 649.9,1085.5 649.9,1085.2 650.1,1084 650.1,1083.6 650.4,1082.3 650.4,1081.9 650.6,1080.8 650.6,1080.5 650.9,1079.9 650.9,1079.9 651.1,1080.2 651.4,1081.1 651.5,1081.6 651.6,1082.2 651.9,1083 652.1,1083.3 652.4,1083.4 652.6,1083.5 652.9,1083.9 653.1,1084.6 653.4,1085.4 653.5,1085.7 653.6,1086.3 653.9,1087 654.1,1087.6 654.4,1087.9 654.6,1088.1 654.9,1088.3 655.1,1088.4 655.4,1088.5 655.5,1088.5 655.6,1088.5 655.9,1088.5 656.1,1088.4 656.4,1088.4 656.6,1088.4 656.9,1088.4 657.1,1088.3 657.4,1088.3 657.5,1088.3 657.6,1088.3 657.9,1088.4 658.1,1088.5 658.4,1088.5 658.6,1088.6 658.9,1088.6 659.1,1088.7 659.4,1088.8 659.5,1088.8 659.6,1088.8 661.5,1088.9 663.5,1088 665.5,1088.3 667.5,1088.4 669.5,1088.1 671.5,1088.1 672,1088.2" fill="none" stroke="#008000" stroke-width="5.2" stroke-linejoin="round"/>
<path clip-path="url(#cr)" d="M708.8,1088.3L710.3,1088.5 711.8,1088.3 713.3,1088.1 714.8,1088.2 716.3,1088.7 717.8,1088.8 719.3,1088.6 720.8,1088 722.3,1088 723.8,1088.3 725.3,1088.4 726.8,1088.1 728.3,1088.3 729.8,1088.3 731.3,1088.4 732.8,1088.6 734.3,1087.9 735.8,1087.7 737.3,1087.9 738.8,1088.1 740.3,1088.5 741.8,1088.5 743.3,1088.2 744.8,1087.9 746.3,1088.4 747.8,1088.6 749.3,1088.5 750.8,1088.3 752.3,1088.3 753.8,1088.4 755.3,1088.6 756.8,1088.7 758.3,1088.5 759.8,1088.5 761.3,1088.5 762.8,1088.4 764.3,1088.3 765.8,1088.2 767.3,1088.2 768.8,1088.4 770.3,1088.3 771.8,1088.3 773.3,1088.4 774.8,1088.6 776.3,1088.5 777.8,1088.5 779.3,1088.4 780.8,1087.9 782.3,1088.3 783.8,1088.3 785.3,1088.1 786.8,1088.1 788.3,1088.1 789.8,1088.3 791.3,1088.6 792.8,1088.5 794.3,1088.2 795.8,1088 797.3,1088 798.8,1088.3 800.3,1088.2 801.8,1088.4 803.3,1088.5 804.8,1087.8 806.3,1087.7 807.8,1087.9 809.3,1088.2 810.8,1088.2 812.3,1088.2 813.8,1088.3 815.3,1088.5 816.8,1088.7 818.3,1088.2 819.8,1088 821.3,1087.9 822.8,1087.6 824.3,1088 825.8,1088.2 827.3,1088.2 828.8,1088 830.3,1088.2 831.8,1088.2 833.3,1088.1 834.8,1088.4 836.3,1088.1 837.8,1087.8 839.3,1087.6 840.8,1087.7 842.3,1087.4 843.8,1087.3 845.3,1087.4 846.8,1087.8 848.3,1087.9 849.8,1088 851.3,1088 852.8,1087.5 854.3,1087.4 855.8,1087.2 857.3,1087.1 858.8,1087.5 860.3,1087.3 861.8,1087 863.3,1086.8 864.8,1087 866.3,1086.8 867.8,1086.3 869.3,1086 870.8,1086.3 872.3,1085.9 873.8,1085.5 874.4,1085.3 874.9,1085.2 875.3,1085 875.4,1085 875.9,1084.9 876.4,1084.7 876.8,1084.5 876.9,1084.5 877.4,1084.5 877.9,1084.4 878.3,1084.3 878.4,1084.3 878.9,1084.1 879.4,1083.8 879.8,1083.5 879.9,1083.4 880.4,1083 880.9,1082.6 881.3,1082.2 881.4,1082.1 881.9,1081.6 882.4,1081 882.8,1080.5 882.9,1080.3 883.4,1079.3 883.9,1078.3 884.3,1077.4 884.4,1077.1 884.9,1076 885.4,1074.9 885.8,1074 885.9,1073.7 886.4,1072.4 886.9,1071 887.3,1069.9 887.4,1069.6 887.9,1068.1 888.4,1066.4 888.8,1065 888.9,1064.6 889.4,1062.4 889.9,1060.2 890.3,1058.3 890.4,1057.8 890.9,1055.4 891.4,1053 891.8,1051.1 891.9,1050.6 892.4,1048.2 892.9,1045.7 893.3,1043.6 893.4,1043 893.9,1040.4 894.4,1037.9 894.8,1035.9 894.9,1035.4 895.4,1033.4 895.9,1031.5 896.3,1030.1 896.4,1029.7 896.9,1028.2 897.4,1026.6 897.8,1025.5 897.9,1025.3 898.4,1024.3 898.9,1023.7 899.3,1023.4 899.4,1023.4 899.9,1023.4 900.4,1023.9 900.8,1024.5 900.9,1024.6 901.4,1025.7 901.9,1027.1 902.3,1028.4 902.4,1028.7 902.9,1030.6 903.4,1032.5 903.8,1034.2 903.9,1034.6 904.4,1036.8 904.9,1039.1 905.3,1040.9 905.4,1041.4 905.9,1043.7 906.4,1045.9 906.8,1047.7 906.9,1048.2 907.4,1050.4 907.9,1052.5 908.3,1054 908.4,1054.4 908.9,1056.2 909.4,1057.8 909.8,1058.9 909.9,1059.2 910.4,1060.4 910.9,1061.5 911.3,1062.4 911.4,1062.6 911.9,1063.6 912.4,1064.4 912.8,1064.9 912.9,1064.9 913.4,1065.1 913.9,1065.2 914.3,1065.1 914.4,1065.1 914.9,1064.8 915.4,1064.5 915.8,1064.2 915.9,1064.1 916.4,1063.6 916.9,1063 917.3,1062.5 917.4,1062.4 917.9,1061.8 918.4,1061.1 918.8,1060.6 918.9,1060.4 919.4,1059.4 919.9,1058.4 920.3,1057.6 920.4,1057.4 920.9,1056.5 921.4,1055.8 921.8,1055.3 921.9,1055.2 922.4,1054.7 922.9,1054.3 923.3,1054 923.4,1053.9 923.9,1053.7 924.4,1053.7 924.8,1053.8 924.9,1053.8 925.4,1054.1 925.9,1054.5 926.3,1054.9 926.4,1055 926.9,1055.8 927.4,1056.9 927.8,1057.9 927.9,1058.2 928.4,1059.5 928.9,1060.8 929.3,1061.7 929.4,1062 929.9,1063.1 930.4,1064.3 930.8,1065.2 930.9,1065.5 931.4,1067 931.9,1068.5 932.3,1069.6 932.4,1069.9 932.9,1071.2 933.4,1072.2 933.8,1073 933.9,1073.2 934.4,1074.1 934.9,1074.9 935.3,1075.7 935.4,1075.9 935.9,1076.8 936.4,1077.6 936.8,1078.2 936.9,1078.4 937.4,1079.3 937.9,1080.1 938.3,1080.8 938.4,1080.9 938.9,1081.6 939.4,1082.2 939.8,1082.6 939.9,1082.6 940.4,1083.1 940.9,1083.5 941.3,1083.8 941.4,1083.8 941.9,1084.1 942.4,1084.4 942.8,1084.6 942.9,1084.6 943.4,1084.8 943.9,1084.9 944.3,1085 945.8,1085.6 947.3,1086.1 948.8,1085.9 950.3,1086.3 951.8,1086.5 953.3,1086.7 954.8,1086.9 956.3,1087.2 957.8,1087.2 959.3,1087.2 960.8,1087.5 962.3,1087.6 963.8,1087.4 965.3,1087.1 966.8,1087.3 968.3,1087.5 969.8,1087.6 971.3,1087.6 972.8,1087.9 974.3,1087.4 975.8,1087.7 977.3,1088.1 978.8,1088.1 980.3,1087.9 981.8,1087.7 983.3,1087.7 984.8,1088 986.3,1087.9 987.8,1088 989.3,1088.2 990.8,1088.1 992.3,1088.2 993.8,1088.1 995.3,1088.1 996.8,1088.5 998.3,1087.8 999.8,1087.7 1001.3,1088 1002.8,1088.3 1004.3,1087.9 1005.8,1088.1 1007.3,1088.3 1008.8,1087.9 1010.3,1088.2 1011.8,1088.1 1013.3,1088 1014.8,1088.1 1016.3,1088.3 1017.8,1088.3 1019.3,1088.2 1020.8,1088.2 1022.3,1088.7 1023.8,1088.6 1025.3,1088.2 1026.8,1088 1028.3,1088.4 1029.8,1088.6 1031.3,1088.6 1032.8,1088.7 1034.3,1088.8 1035.8,1088.4 1037.3,1088.2 1038.8,1088.6 1040.3,1088.7 1041.8,1088.5 1043.3,1088.4 1044.8,1088.4 1046.3,1087.7 1047.8,1087.9 1049.3,1088.4 1050.8,1088.9 1052.3,1088.1 1053.8,1088 1055.3,1088.3 1056.8,1088.5 1058.3,1088.5 1059.8,1088.7 1061.3,1088.6 1062.8,1087.9 1064.3,1088.3 1065.8,1088.5 1067.3,1088.5 1068.8,1088 1070.3,1088.3 1071.8,1088.7 1073.3,1088.9 1074.8,1088.8 1076.3,1088.6 1077.8,1088.1 1079.3,1087.8 1080.8,1088.4 1082.3,1088.5 1083.8,1088.4 1085.3,1088.3 1086.8,1088.4 1088.3,1089.1 1089.8,1088.8 1091.3,1088.3 1092.8,1088.1 1094.3,1088.4 1095.8,1088.4 1097.3,1088.3 1098.8,1088.3 1100.3,1088.4 1101.8,1088.5 1103.3,1088.6 1104.8,1088.5 1106.3,1088.2 1107.8,1088.2 1109.3,1088.4 1110.8,1088.6 1112.3,1088.4 1113.8,1088.5 1115.3,1088.7 1116.8,1088.7 1118.3,1088.3 1119.8,1088.3 1121.3,1088.6 1122.8,1089 1124.3,1088.9 1125.8,1088.7 1127.3,1088.5 1128.8,1088.7 1130.3,1088.4 1131.8,1088.1 1133.3,1088.2 1134.8,1088.6 1136.3,1088.5 1137.8,1088.6 1139.3,1088.6 1140.8,1088.4 1142.3,1088.5 1143.8,1088.4 1145.3,1088.4 1146.8,1088.6 1148.3,1088.7 1149.8,1088.6 1151.3,1088.5 1152.8,1088.7 1154.3,1088.1 1155.8,1088.1 1157.3,1088.4 1158.8,1088.9 1160.3,1088.9 1161.8,1088.7 1163.3,1088.5 1164.8,1088.4 1166.3,1088.2 1167.8,1088.3 1169.3,1088.6 1170.8,1088.7 1172.3,1088.2 1173.8,1088.3 1175.3,1088.6 1176.8,1088.6 1178.3,1088.6 1179.8,1088.4 1181.3,1088.3 1182.8,1088.6 1184.3,1088.2 1185.8,1088.5 1187.3,1088.8 1188.8,1088.5 1190.3,1088.2 1191.8,1088.5 1193.3,1088.8 1194.8,1088.8 1196.3,1088.4 1197.8,1088.7 1199.3,1088.9 1200.8,1088.2 1202.3,1088.5 1203.8,1088.7 1205.3,1088.6 1206.8,1087.8 1208.3,1088.5 1209.8,1088.6 1211.3,1088.5 1212.8,1088.5 1214.3,1088.2 1215.8,1088.4 1217.3,1088.5 1218.8,1088.2 1220.3,1088.2 1221.8,1088.3 1223.3,1088.3 1224.8,1088.1 1226.3,1088.7 1227.8,1088.5 1229.3,1088.1 1230.8,1088.3 1232.3,1088.4 1233.8,1088.4 1235.3,1088.5 1236.8,1088.7 1238.3,1088.7 1239.8,1088.5 1241.3,1088.4 1242.8,1088.4 1244.3,1088.5 1245.8,1088.6 1247.3,1088.7 1248.8,1088.7 1250.3,1088.4 1251.8,1088.1 1253.3,1088.2 1254.8,1089.1 1256.3,1088.8 1257.8,1088.6 1259.3,1088.6 1260.8,1088.6" fill="none" stroke="#008000" stroke-width="5.2" stroke-linejoin="round"/>
<path d="M689.8,1071.7 C685.0,1072.7 681.3,1076.5 681.9,1082.0 C682.5,1086.5 684.9,1088.0 685.8,1092.5 C687.1,1097.5 686.0,1101.0 679.0,1102.3 M703.3,1072.7 C698.5,1073.7 694.8,1077.5 695.4,1083.0 C696.0,1087.5 698.4,1089.0 699.3,1093.5 C700.6,1098.5 699.5,1102.0 692.5,1103.3 M691.8,7.7 C687.0,8.7 683.3,12.5 683.9,18.0 C684.5,22.5 686.9,24.0 687.8,28.5 C689.1,33.5 688.0,37.0 681.0,38.3 M704.8,8.7 C700.0,9.7 696.3,13.5 696.9,19.0 C697.5,23.5 699.9,25.0 700.8,29.5 C702.1,34.5 701.0,38.0 694.0,39.3" fill="none" stroke="#111" stroke-width="2.2" stroke-linecap="round"/>
<g font-family="Liberation Sans, Arial, sans-serif" font-size="25" fill="#1a1a1a" stroke="#1a1a1a" stroke-width="0.45" text-anchor="middle"><text x="120.5" y="1129.5">10</text><text x="199.4" y="1129.5">20</text><text x="278.3" y="1129.5">30</text><text x="357.2" y="1129.5">40</text><text x="436.1" y="1129.5">50</text><text x="515.0" y="1129.5">60</text><text x="593.9" y="1129.5">70</text><text x="672.8" y="1129.5">80</text><text x="708.2" y="1129.5">63</text><text x="846.3" y="1129.5">64</text><text x="984.5" y="1129.5">65</text><text x="1122.6" y="1129.5">66</text><text x="1260.8" y="1129.5">67</text></g>
<g font-family="Liberation Sans, Arial, sans-serif" font-weight="bold" font-size="53.5" letter-spacing="2.6" fill="#000" text-anchor="middle"><text x="264.3" y="261.2">(a)</text><text x="265.8" y="354.2">(b)</text><text x="263.9" y="442.6">(c)</text><text x="267.1" y="535.2">(d)</text><text x="266.5" y="624.5">(e)</text><text x="262.3" y="711.2">(f)</text><text x="265.0" y="795.2">(g)</text><text x="269.3" y="890.9">(h)</text><text x="264.5" y="977.1">(i)</text><text x="262.9" y="1062.2">(j)</text></g>
<text x="541.8" y="1197" font-family="Liberation Sans, Arial, sans-serif" font-weight="bold" font-size="53" letter-spacing="1.3" fill="#000">2<tspan font-weight="normal" font-size="49">θ</tspan> (degrees)</text>
<text transform="translate(54,577) rotate(-90)" x="0" y="0" font-family="Liberation Sans, Arial, sans-serif" font-weight="bold" font-size="56" fill="#000" text-anchor="middle">Intensity (arb. units)</text></svg>
</body></html>
